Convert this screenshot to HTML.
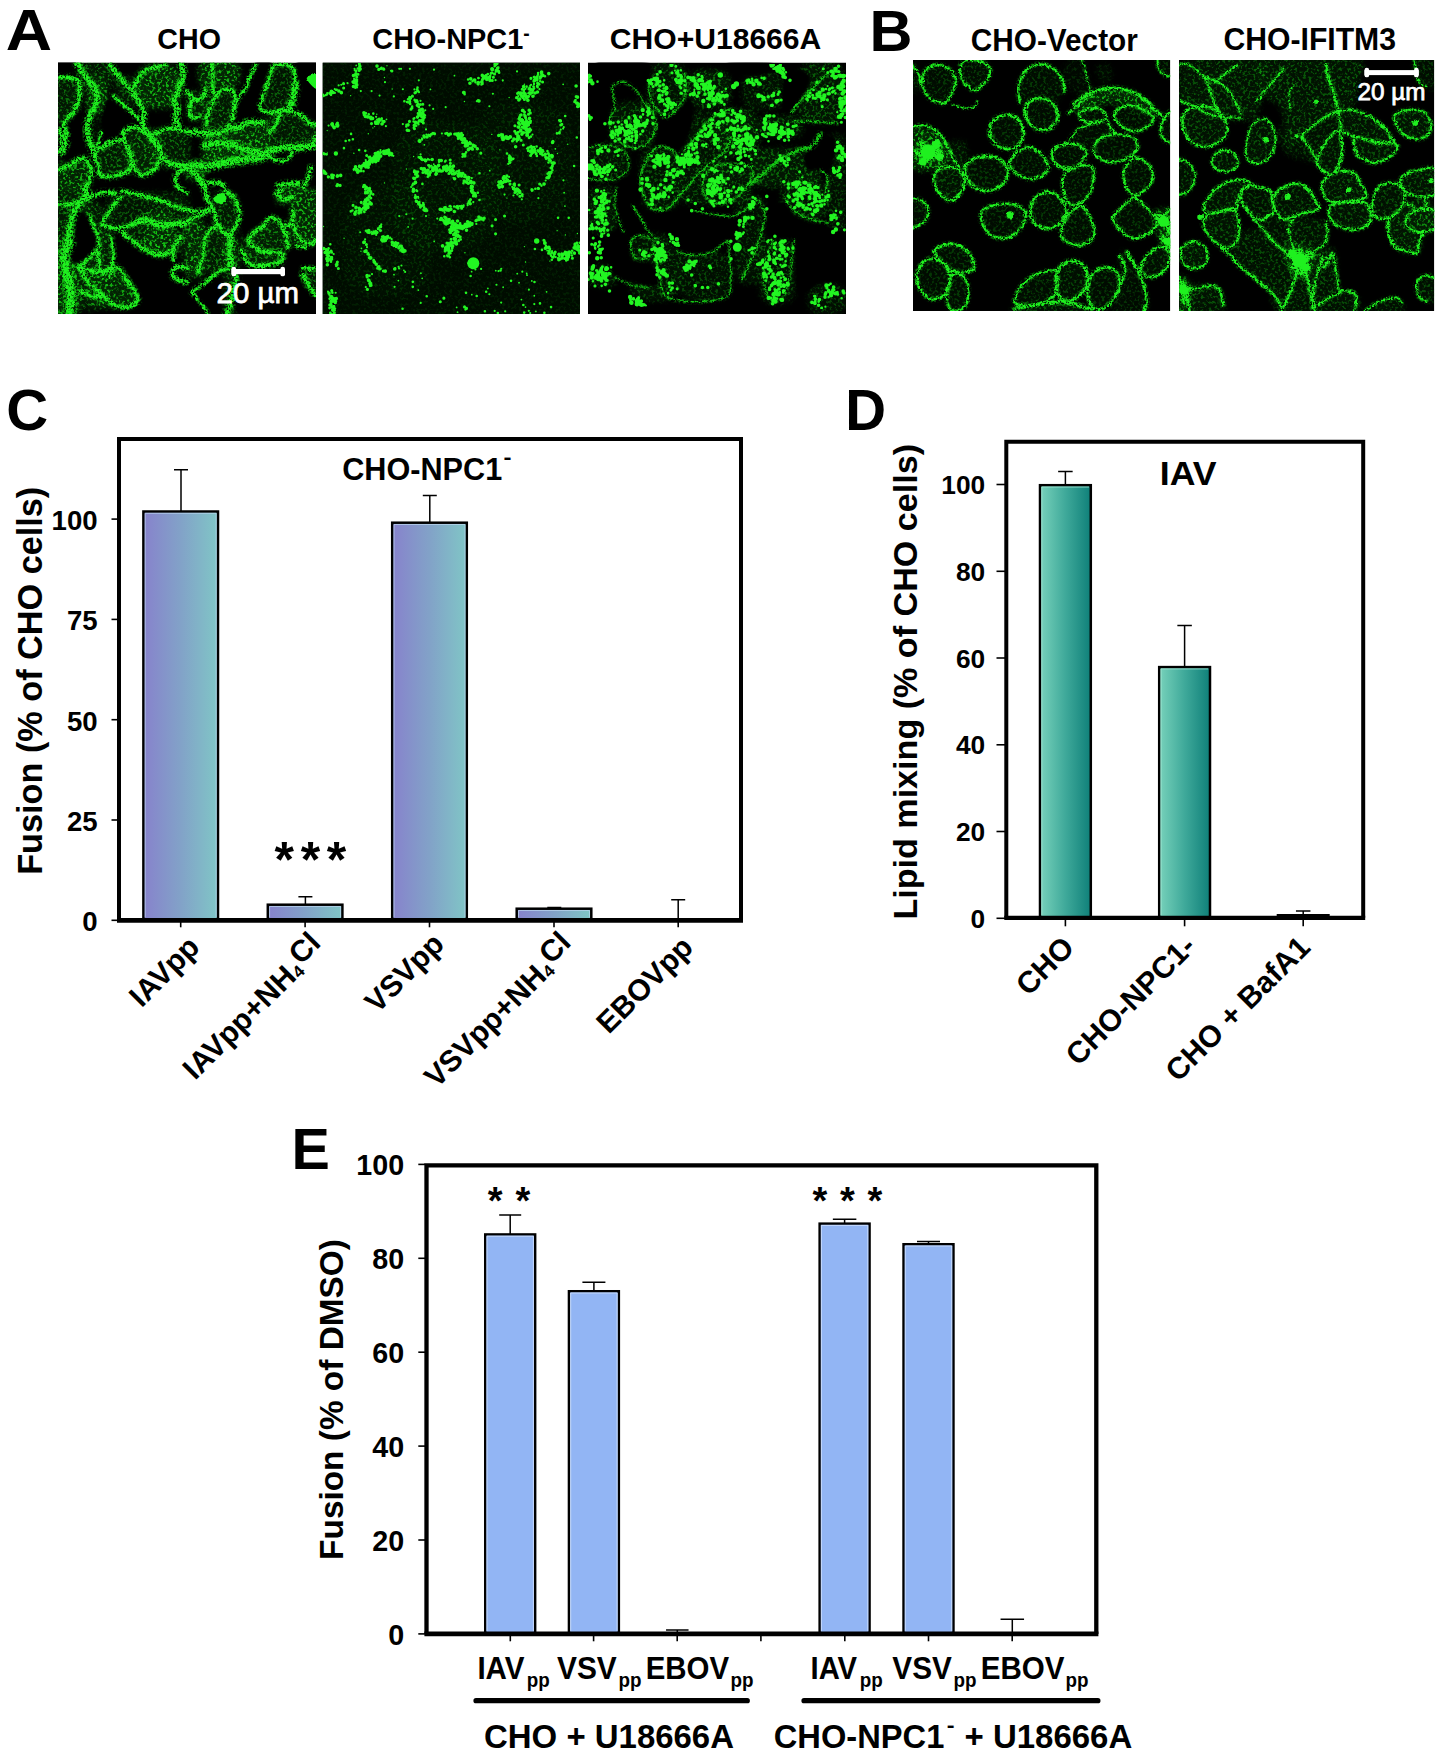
<!DOCTYPE html>
<html lang="en"><head><meta charset="utf-8"><title>Figure</title>
<style>html,body{margin:0;padding:0;background:#fff}svg{display:block}</style>
</head><body>
<svg width="1443" height="1759" viewBox="0 0 1443 1759" font-family='"Liberation Sans", sans-serif'>
<rect width="1443" height="1759" fill="#fff"/>
<defs>
<linearGradient id="gC" x1="0" x2="1" y1="0" y2="0"><stop offset="0" stop-color="#8782cc"/><stop offset="0.5" stop-color="#82a2c8"/><stop offset="1" stop-color="#80c6c6"/></linearGradient>
<linearGradient id="gD" x1="0" x2="1" y1="0" y2="0"><stop offset="0" stop-color="#78d2bb"/><stop offset="0.5" stop-color="#3fa99a"/><stop offset="1" stop-color="#0f8079"/></linearGradient>
<filter id="fHaze" x="0" y="0" width="100%" height="100%" color-interpolation-filters="sRGB"><feGaussianBlur in="SourceGraphic" stdDeviation="2.4" result="b"/><feTurbulence type="fractalNoise" baseFrequency="0.36" numOctaves="2" seed="7" result="n"/><feColorMatrix in="n" type="matrix" values="4.6 0 0 0 -2.05 4.6 0 0 0 -2.05 4.6 0 0 0 -2.05 4.6 0 0 0 -2.05" result="m"/><feComposite in="b" in2="m" operator="arithmetic" k1="0.78" k2="0.2" k3="0" k4="0"/></filter><filter id="fRough" x="0" y="0" width="100%" height="100%" color-interpolation-filters="sRGB"><feTurbulence type="fractalNoise" baseFrequency="0.22" numOctaves="3" seed="11" result="t"/><feDisplacementMap in="SourceGraphic" in2="t" scale="4.6" xChannelSelector="R" yChannelSelector="G" result="d"/><feTurbulence type="fractalNoise" baseFrequency="0.55" numOctaves="2" seed="5" result="n"/><feColorMatrix in="n" type="matrix" values="0 0 0 0 0 0 0 0 0 0 0 0 0 0 0 0 0 5 0 -1.55" result="m"/><feComposite in="d" in2="m" operator="in" result="g"/><feGaussianBlur in="g" stdDeviation="0.4"/></filter><filter id="fGlow" x="0" y="0" width="100%" height="100%" color-interpolation-filters="sRGB"><feGaussianBlur in="SourceGraphic" stdDeviation="1.3" result="b"/><feTurbulence type="fractalNoise" baseFrequency="0.45" numOctaves="2" seed="23" result="n"/><feColorMatrix in="n" type="matrix" values="0 0 0 0 0 0 0 0 0 0 0 0 0 0 0 0 0 5.5 0 -2.5" result="m"/><feComposite in="b" in2="m" operator="in"/></filter><filter id="fBlob" x="-10%" y="-10%" width="120%" height="120%" color-interpolation-filters="sRGB"><feTurbulence type="fractalNoise" baseFrequency="0.3" numOctaves="2" seed="4" result="t"/><feDisplacementMap in="SourceGraphic" in2="t" scale="3.2" xChannelSelector="R" yChannelSelector="G" result="d"/><feGaussianBlur in="d" stdDeviation="0.5"/></filter><filter id="fVoid" x="-5%" y="-5%" width="110%" height="110%"><feGaussianBlur stdDeviation="1.2"/></filter><filter id="fDot" x="0" y="0" width="100%" height="100%" color-interpolation-filters="sRGB"><feGaussianBlur in="SourceGraphic" stdDeviation="0.35"/></filter>
</defs>
<svg x="58" y="62.5" width="258" height="251.5" viewBox="0 0 258 252" preserveAspectRatio="none" overflow="hidden"><rect width="258" height="252" fill="#000"/><g filter="url(#fHaze)"><rect width="258" height="252" fill="#000" fill-opacity="0"/><rect x="-4" y="14" width="26" height="48" rx="10" fill="#16d816" fill-opacity="0.5"/><rect x="28" y="16" width="22" height="36" rx="8.5" fill="#16d816" fill-opacity="0.85"/><rect x="78" y="2" width="46" height="44" rx="16.9" fill="#16d816" fill-opacity="0.81"/><rect x="20" y="0" width="36" height="26" rx="10" fill="#16d816" fill-opacity="0.5"/><rect x="38" y="80" width="36" height="34" rx="13.1" fill="#16d816" fill-opacity="0.54"/><rect x="68" y="66" width="34" height="46" rx="13.1" fill="#16d816" fill-opacity="0.63"/><rect x="88" y="66" width="44" height="40" rx="15.4" fill="#16d816" fill-opacity="0.5"/><rect x="-4" y="98" width="38" height="32" rx="12.3" fill="#16d816" fill-opacity="0.77"/><rect x="56" y="14" width="28" height="30" rx="10.8" fill="#16d816" fill-opacity="0.41"/><rect x="30" y="52" width="14" height="38" rx="5.4" fill="#16d816" fill-opacity="0.18"/><rect x="140" y="-4" width="42" height="30" rx="11.5" fill="#16d816" fill-opacity="0.81"/><rect x="145" y="30" width="33" height="42" rx="12.7" fill="#16d816" fill-opacity="0.54"/><rect x="144" y="68" width="68" height="26" rx="10" fill="#16d816" fill-opacity="0.85"/><rect x="144" y="86" width="68" height="18" rx="6.9" fill="#16d816" fill-opacity="0.85"/><rect x="204" y="50" width="54" height="36" rx="13.8" fill="#16d816" fill-opacity="0.5"/><rect x="203" y="2" width="35" height="48" rx="13.5" fill="#16d816" fill-opacity="0.45"/><rect x="126" y="98" width="26" height="20" rx="7.7" fill="#16d816" fill-opacity="0.85"/><rect x="128" y="28" width="20" height="30" rx="7.7" fill="#16d816" fill-opacity="0.54"/><rect x="180" y="56" width="34" height="16" rx="6.2" fill="#16d816" fill-opacity="0.45"/><rect x="-4" y="124" width="36" height="58" rx="13.8" fill="#16d816" fill-opacity="0.54"/><rect x="10" y="138" width="38" height="66" rx="14.6" fill="#16d816" fill-opacity="0.5"/><rect x="-4" y="176" width="26" height="80" rx="10" fill="#16d816" fill-opacity="0.85"/><rect x="48" y="130" width="84" height="34" rx="13.1" fill="#16d816" fill-opacity="0.41"/><rect x="86" y="148" width="30" height="20" rx="7.7" fill="#16d816" fill-opacity="0.81"/><rect x="84" y="164" width="34" height="30" rx="11.5" fill="#16d816" fill-opacity="0.81"/><rect x="62" y="164" width="64" height="30" rx="11.5" fill="#16d816" fill-opacity="0.45"/><rect x="28" y="204" width="54" height="42" rx="16.2" fill="#16d816" fill-opacity="0.77"/><rect x="8" y="198" width="44" height="50" rx="16.9" fill="#16d816" fill-opacity="0.5"/><rect x="40" y="160" width="18" height="56" rx="6.9" fill="#16d816" fill-opacity="0.45"/><rect x="126" y="156" width="22" height="60" rx="8.5" fill="#16d816" fill-opacity="0.81"/><rect x="146" y="164" width="28" height="48" rx="10.8" fill="#16d816" fill-opacity="0.54"/><rect x="164" y="174" width="18" height="34" rx="6.9" fill="#16d816" fill-opacity="0.81"/><rect x="154" y="127" width="28" height="45" rx="10.8" fill="#16d816" fill-opacity="0.5"/><rect x="185" y="156" width="47" height="49" rx="18.1" fill="#16d816" fill-opacity="0.63"/><rect x="232" y="124" width="30" height="60" rx="11.5" fill="#16d816" fill-opacity="0.81"/><rect x="243" y="204" width="19" height="32" rx="7.3" fill="#16d816" fill-opacity="0.54"/><rect x="216" y="124" width="26" height="18" rx="6.9" fill="#16d816" fill-opacity="0.77"/><rect x="166" y="208" width="16" height="46" rx="6.2" fill="#16d816" fill-opacity="0.54"/></g><g filter="url(#fVoid)" fill="#000"><path d="M-2 -2C1.2 -4.3 14.3 -3.7 17 -2C19.7 -0.3 15.8 5.7 14 8C12.2 10.3 8.7 11.3 6 12C3.3 12.7 -0.7 14.3 -2 12C-3.3 9.7 -5.2 0.3 -2 -2Z"/><path d="M21 50C24.2 47.5 28 45 29 47C30 49 27.2 56.5 27 62C26.8 67.5 27.3 75 28 80C28.7 85 31.7 89.7 31 92C30.3 94.3 27.2 93 24 94C20.8 95 15.3 97.7 12 98C8.7 98.3 4.7 98.3 4 96C3.3 93.7 6.7 88 8 84C9.3 80 11.7 75.7 12 72C12.3 68.3 8.5 65.7 10 62C11.5 58.3 17.8 52.5 21 50Z"/><path d="M50 37C53 35.3 58.3 42.3 62 45C65.7 47.7 68.7 50.2 72 53C75.3 55.8 83 59.7 82 62C81 64.3 69.2 64.5 66 67C62.8 69.5 65.3 74.7 63 77C60.7 79.3 55.3 79.7 52 81C48.7 82.3 44.2 86.8 43 85C41.8 83.2 44.8 75 45 70C45.2 65 43.2 60.5 44 55C44.8 49.5 47 38.7 50 37Z"/><path d="M199 -2C202.5 -5 211.7 -5.3 213 -2C214.3 1.3 208.7 11.8 207 18C205.3 24.2 204.2 30.3 203 35C201.8 39.7 200 42.5 200 46C200 49.5 204.7 54 203 56C201.3 58 193.8 57 190 58C186.2 59 182 64.7 180 62C178 59.3 177 47.3 178 42C179 36.7 183.7 34.3 186 30C188.3 25.7 189.8 21.3 192 16C194.2 10.7 195.5 1 199 -2Z"/><path d="M240 -2C243.2 -4.3 256.7 -4 260 -2C263.3 0 262.2 7.2 260 10C257.8 12.8 247 12 247 15C247 18 257.8 20.8 260 28C262.2 35.2 261.7 53.5 260 58C258.3 62.5 253.3 56.7 250 55C246.7 53.3 242.3 49.8 240 48C237.7 46.2 236 47 236 44C236 41 239.2 35.3 240 30C240.8 24.7 241 17.3 241 12C241 6.7 236.8 0.3 240 -2Z"/><path d="M150 111C154.2 107.7 165.8 106 175 104C184.2 102 199.8 100.8 205 99C210.2 97.2 203.8 92.7 206 93C208.2 93.3 213.2 100.5 218 101C222.8 101.5 228 98.2 235 96C242 93.8 255.8 83.7 260 88C264.2 92.3 263 116.2 260 122C257 127.8 249 122.3 242 123C235 123.7 222.7 121.5 218 126C213.3 130.5 217 143.8 214 150C211 156.2 203.7 160 200 163C196.3 166 194.3 165.8 192 168C189.7 170.2 187.5 176.5 186 176C184.5 175.5 183.2 169.3 183 165C182.8 160.7 185.2 154.8 185 150C184.8 145.2 184.2 139.8 182 136C179.8 132.2 177.3 129 172 127C166.7 125 153.7 126.7 150 124C146.3 121.3 145.8 114.3 150 111Z"/><path d="M58 173C59 167.8 60.3 170.7 64 173C67.7 175.3 74.3 183.2 80 187C85.7 190.8 92.7 194.5 98 196C103.3 197.5 109.7 194.8 112 196C114.3 197.2 112 198.7 112 203C112 207.3 109 218.7 112 222C115 225.3 126 221 130 223C134 225 132.3 228.8 136 234C139.7 239.2 160.3 250.7 152 254C143.7 257.3 97.5 256.7 86 254C74.5 251.3 84.7 243.3 83 238C81.3 232.7 79 227.3 76 222C73 216.7 68 209 65 206C62 203 59.2 209.5 58 204C56.8 198.5 57 178.2 58 173Z"/><path d="M232 188C238 185.3 255.3 185.5 260 188C264.7 190.5 263 200.5 260 203C257 205.5 245.3 201.5 242 203C238.7 204.5 239.3 208.3 240 212C240.7 215.7 242.7 220.7 246 225C249.3 229.3 257.7 233.2 260 238C262.3 242.8 273 251.3 260 254C247 256.7 195 261 182 254C169 247 179 219.8 182 212C185 204.2 193 208.3 200 207C207 205.7 218.7 207.2 224 204C229.3 200.8 226 190.7 232 188Z"/><path d="M18 150C20.2 148 26.8 150.3 30 154C33.2 157.7 35.7 167 37 172C38.3 177 39.5 180 38 184C36.5 188 31.3 193.2 28 196C24.7 198.8 20.7 201 18 201C15.3 201 12.7 199.2 12 196C11.3 192.8 13.2 187 14 182C14.8 177 16.3 171.3 17 166C17.7 160.7 15.8 152 18 150Z"/></g><g filter="url(#fGlow)" fill="none" stroke-linecap="round" stroke-linejoin="round"><rect width="258" height="252" fill="#000" fill-opacity="0" stroke="none"/><path d="M19.7 1.8C20.9 3.7 24.1 9.5 26.8 13.4C29.5 17.3 33.6 21.3 35.7 25C37.8 28.7 39.3 32.1 39.3 35.7C39.3 39.3 37 43.5 35.7 46.5C34.4 49.5 32.3 50.2 31.3 53.6C30.3 57 29.4 62.5 29.5 67C29.6 71.5 31.2 76.7 32.2 80.4C33.2 84.1 35.1 87.9 35.7 89.4" stroke="#10b410" stroke-width="9.8"/><path d="M1.8 15.2C3.3 15.2 7.7 14.8 10.7 15.2C13.7 15.6 17.9 16 19.7 17.9C21.5 19.8 21.2 23.5 21.4 26.8C21.5 30.1 21.2 34.5 20.6 37.5C20 40.5 19.5 41.7 17.9 44.7C16.2 47.7 12.8 52.4 10.7 55.4C8.6 58.4 5.7 59.9 5.4 62.6C5.1 65.3 9.2 68.5 8.9 71.5C8.6 74.5 4.5 78.9 3.6 80.4" stroke="#10b410" stroke-width="7.4"/><path d="M51.8 2.7C53.6 4.9 59 11.9 62.6 16.1C66.2 20.3 70.3 24 73.3 27.7C76.3 31.4 78.3 34.7 80.4 38.4C82.5 42.1 85 46.3 85.8 50C86.5 53.7 84.3 57.5 84.9 60.8C85.5 64.1 87.9 67.2 89.4 69.7C90.9 72.2 91.9 73.6 93.8 76C95.7 78.4 99.2 81 101 84C102.8 87 102.8 91 104.6 93.8C106.4 96.6 109 99.5 111.7 101C114.4 102.5 117.7 102.3 120.6 102.8C123.5 103.2 127.6 103.5 129 103.7" stroke="#10b410" stroke-width="8.8"/><path d="M55.4 34C56.9 35.2 61.3 38.6 64.3 41.1C67.3 43.6 70.6 46.5 73.3 49.2C76 51.9 78.6 55 80.4 57.2C82.2 59.4 83.4 61.7 84 62.6" stroke="#10b410" stroke-width="6"/><path d="M35.7 89.4C37.2 88.1 41.7 86.6 44.7 84.9C47.7 83.2 50.6 80.7 53.6 79.5C56.6 78.3 60.2 77.2 62.6 77.7C65 78.2 66.4 80.2 67.9 82.2C69.4 84.2 70.5 86.7 71.5 89.4C72.5 92.1 73.9 95.6 74.2 98.3C74.5 101 74.3 103.6 73.3 105.5C72.2 107.4 70.4 108.6 67.9 109.9C65.4 111.2 61.5 112.8 58.1 113.5C54.7 114.2 50.1 114.6 47.4 114.4C44.7 114.2 43.2 114.5 42 112.6C40.8 110.7 41.2 106.1 40.2 102.8C39.2 99.5 36.5 95.1 35.7 92.9C35 90.7 34.2 90.7 35.7 89.4Z" stroke="#10b410" stroke-width="7.4"/><path d="M66.1 69.7C67 68.3 69.4 66.8 71.5 66.1C73.6 65.3 76.2 64.6 78.6 65.2C81 65.8 83.3 67.8 85.8 69.7C88.3 71.7 91.4 74.4 93.8 76.9C96.2 79.4 98.5 82.1 100 84.9C101.5 87.7 102.9 90.8 102.8 93.8C102.7 96.8 100.7 100.3 99.2 102.8C97.7 105.3 96 107.4 93.8 109C91.6 110.6 88.3 112.6 85.8 112.6C83.3 112.6 80.5 111.4 78.6 109C76.7 106.6 75.4 101.6 74.2 98.3C73 95 72.5 92.1 71.5 89.4C70.5 86.7 68.8 84.7 67.9 82.2C67 79.7 66.4 76.3 66.1 74.2C65.8 72.1 65.2 71.1 66.1 69.7Z" stroke="#10b410" stroke-width="7.4"/><path d="M93.8 73.3C95.3 72.5 99.8 70 102.8 68.8C105.8 67.6 108.7 66.4 111.7 66.1C114.7 65.8 117.7 66.4 120.6 67C123.5 67.6 127.6 69.2 129 69.7" stroke="#10b410" stroke-width="7.4"/><path d="M123.3 1.8C123.6 3.7 125.5 9.2 125.1 13.4C124.6 17.6 122.1 22.6 120.6 26.8C119.1 31 116.5 35.1 116.2 38.4C115.9 41.7 118.6 43.4 118.9 46.5C119.2 49.6 117.7 53.9 118 57.2C118.3 60.5 120.2 64.6 120.6 66.1" stroke="#10b410" stroke-width="10.2"/><path d="M76 25C76.7 23.4 78.5 18 80.4 15.2C82.3 12.4 84.6 9.8 87.6 8C90.6 6.2 95 5.4 98.3 4.5C101.6 3.6 105.7 3 107.2 2.7" stroke="#10b410" stroke-width="7"/><path d="M1.8 107.2C3.3 106.6 7.7 105.3 10.7 103.7C13.7 102.1 17 98.6 19.7 97.4C22.4 96.2 24.9 95.6 26.8 96.5C28.7 97.4 30.2 100.3 31.3 102.8C32.4 105.3 33.2 108.7 33.1 111.7C33 114.7 31.4 118.2 30.4 120.6C29.3 123 27.4 125.1 26.8 126" stroke="#10b410" stroke-width="7.4"/><path d="M1.8 69.7C2.7 71.5 6.9 77.1 7.1 80.4C7.2 83.7 3.4 87.9 2.7 89.4" stroke="#10b410" stroke-width="10.6"/><path d="M42.9 69.7C42.6 71.2 41.9 76.1 41.1 78.6C40.4 81.1 38.9 83.9 38.4 84.9" stroke="#10b410" stroke-width="4.6"/><path d="M129 105.5C127.6 106.2 122.6 108.1 120.6 109.9C118.6 111.7 117.4 114 117.1 116.2C116.8 118.4 118.2 121.7 118.9 123.3C119.6 124.9 121.1 125.5 121.5 126" stroke="#10b410" stroke-width="7"/><path d="M155.8 37.5C156.6 36.3 158.4 32.2 160.3 30.4C162.2 28.6 165.2 27.2 167.4 26.8C169.6 26.4 172 26.2 173.7 27.7C175.3 29.2 176.9 32.9 177.3 35.7C177.8 38.5 176.9 41.7 176.4 44.7C175.9 47.7 175.1 51.5 174.6 53.6C174.1 55.7 173.8 56.6 173.7 57.2" stroke="#10b410" stroke-width="7"/><path d="M155.8 37.5C155.1 39 152.5 43.5 151.3 46.5C150.1 49.5 149.3 52.7 148.7 55.4C148.1 58.1 148 61.4 147.8 62.6" stroke="#10b410" stroke-width="7"/><path d="M197.8 2.7C196.8 4.8 193.2 11.5 191.6 15.2C190 18.9 189.5 22.2 188 25C186.5 27.8 184.1 30 182.6 32.2C181.1 34.4 179.6 37.4 179 38.4" stroke="#10b410" stroke-width="5.6"/><path d="M129 29.5C129.9 30.5 132.2 34.4 134.4 35.7C136.6 37 140.3 38.5 142.4 37.5C144.5 36.5 146 31.4 146.9 29.5C147.8 27.6 147.7 26.6 147.8 26" stroke="#10b410" stroke-width="8"/><path d="M134.4 35.7C133.9 37.5 131.7 43.2 131.7 46.5C131.7 49.8 132.6 54.2 134.4 55.4C136.2 56.6 141.1 53.9 142.4 53.6" stroke="#10b410" stroke-width="7"/><path d="M154 1.8C154.2 3.7 154.8 9.2 154.9 13.4C155.1 17.6 154.6 23.4 154.9 26.8C155.2 30.2 156.4 32.8 156.7 34" stroke="#10b410" stroke-width="6.6"/><path d="M214.8 3.6C216.4 2.1 220 1.8 222.8 1.8C225.6 1.8 229.6 2.4 231.8 3.6C234 4.8 235.3 5.8 236.2 8.9C237.1 12 237.1 18.6 237.1 22.3C237.1 26 236.8 28.3 236.2 31.3C235.6 34.3 234.6 37.5 233.6 40.2C232.6 42.9 231.8 46 230 47.4C228.2 48.8 225.5 47.9 222.8 48.3C220.1 48.7 217.2 50.1 213.9 50C210.6 49.9 205.1 48.6 203.2 47.4C201.3 46.2 201.9 45.6 202.3 42.9C202.8 40.2 204.7 35 205.9 31.3C207.1 27.6 208.2 24 209.4 20.6C210.6 17.2 212.1 13.5 213 10.7C213.9 7.9 213.2 5.1 214.8 3.6Z" stroke="#10b410" stroke-width="6"/><path d="M237.1 22.3C236.9 23.8 236.8 28.3 236.2 31.3C235.6 34.3 234.6 37.5 233.6 40.2C232.6 42.9 230.6 46.2 230 47.4" stroke="#10b410" stroke-width="11.6"/><path d="M230 47.4C231.8 48.1 237.7 50.2 240.7 51.8C243.7 53.4 245.7 55.6 247.9 57.2C250.1 58.9 252.4 60.8 254.1 61.7C255.8 62.6 257.4 62.5 258 62.6" stroke="#10b410" stroke-width="7"/><path d="M222.8 50C222.2 51.4 220.3 55.7 219.3 58.1C218.3 60.5 217.8 62.4 216.6 64.3C215.4 66.2 212.8 68.8 212.1 69.7" stroke="#10b410" stroke-width="6.6"/><path d="M129 69.7C130.5 69.7 134.9 69.6 137.9 69.7C140.9 69.8 143.9 70.3 146.9 70.6C149.9 70.9 152.5 71.8 155.8 71.5C159.1 71.2 164 70 166.5 68.8C169 67.6 168.9 64.8 171 64.3C173.1 63.8 176.2 66.7 179 66.1C181.8 65.5 185.2 61.8 188 60.8C190.8 59.8 193.2 59.9 196 59.9C198.8 59.9 203.5 60.6 205 60.8" stroke="#10b410" stroke-width="9.8"/><path d="M146.9 83.1C149.1 82.6 155.8 80.6 160.3 80.4C164.8 80.2 170 81.3 173.7 82.2C177.4 83.1 178.9 84.6 182.6 85.8C186.3 87 192.3 88.7 196 89.4C199.7 90.2 201.3 90.8 205 90.3C208.7 89.8 214.7 87.6 218.4 86.7C222.1 85.8 223.6 85.2 227.3 84.9C231 84.6 235.9 85.2 240.7 84.9C245.5 84.6 253.4 83.4 255.9 83.1" stroke="#10b410" stroke-width="10.8"/><path d="M129 105.5C130.8 105 136 103.1 139.7 102.8C143.4 102.5 147.1 104 151.3 103.7C155.5 103.4 160.2 101.9 164.7 101C169.2 100.1 173.7 99 178.2 98.3C182.7 97.5 187.1 97.1 191.6 96.5C196.1 95.9 202.8 95 205 94.7" stroke="#10b410" stroke-width="12.2"/><path d="M218.4 86.7C219.6 86.4 223 84.8 225.5 84.9C228 85.1 232.4 86.1 233.6 87.6C234.8 89.1 233.9 92 232.7 93.8C231.5 95.6 228.8 97.5 226.4 98.3C224 99 220.8 98.9 218.4 98.3C216 97.7 214.1 95.9 212.1 94.7C210.1 93.5 207.6 91.8 206.7 91.2" stroke="#10b410" stroke-width="6"/><path d="M129 105.5C130.5 106.5 135.5 109.5 137.9 111.7C140.3 113.9 141.8 116.5 143.3 118.9C144.8 121.3 146.3 124.8 146.9 126" stroke="#10b410" stroke-width="9.8"/><path d="M151.3 120.6C152.8 120.6 157.8 120 160.3 120.6C162.8 121.2 165.5 123.6 166.5 124.2" stroke="#10b410" stroke-width="7"/><path d="M220.2 123.3C221.7 123 225.7 121.8 229.1 121.5C232.5 121.2 238.8 121.5 240.7 121.5" stroke="#10b410" stroke-width="8"/><path d="M252.3 105.5C252 107 251.2 112 250.5 114.4C249.8 116.8 248.8 117.9 247.9 119.8C247 121.7 245.6 125 245.2 126" stroke="#10b410" stroke-width="7"/><path d="M258 73.3C257.6 74 256.1 76.1 255.9 77.7C255.7 79.3 256.7 82.2 256.8 83.1" stroke="#10b410" stroke-width="7"/><path d="M26.8 126C27.1 127.2 29.4 130.9 28.6 133.1C27.9 135.3 24.1 137.3 22.3 139.4C20.5 141.5 19.2 143.2 17.9 145.7C16.6 148.2 15.4 151.2 14.3 154.6C13.2 158 12.2 162.6 11.6 166.2C11 169.8 10.8 174.4 10.7 176" stroke="#10b410" stroke-width="10.8"/><path d="M1.8 142.1C3.3 142.1 7.3 142.5 10.7 142.1C14.1 141.7 18.1 140.9 22.3 139.4C26.5 137.9 32 134.6 35.7 133.1C39.4 131.6 41 130.9 44.7 130.5C48.4 130.1 55.9 130.5 58.1 130.5" stroke="#10b410" stroke-width="7.4"/><path d="M64.3 128.7C66.2 129.1 71.8 130.4 76 131.4C80.2 132.4 84.9 133.7 89.4 134.9C93.9 136.1 98.3 137 102.8 138.5C107.3 140 111.8 142.3 116.2 143.9C120.6 145.5 126.9 147.6 129 148.3" stroke="#10b410" stroke-width="7"/><path d="M62.6 134.9C61.1 136.8 56.3 142.9 53.6 146.6C50.9 150.3 48 154.6 46.5 157.3C45 160 44.1 161.4 44.7 162.6C45.3 163.8 47.8 163.8 50 164.4C52.2 165 55.3 166.2 58.1 166.2C60.9 166.2 64 165.2 67 164.4C70 163.7 74.5 162.1 76 161.7" stroke="#10b410" stroke-width="6.6"/><path d="M76 161.7C77.5 161 81.9 157.6 84.9 157.3C87.9 157 90.8 159 93.8 160C96.8 161 99.8 163.1 102.8 163.5C105.8 163.9 108.7 162.9 111.7 162.6C114.7 162.3 117.7 162 120.6 161.7C123.5 161.4 127.6 161 129 160.9" stroke="#10b410" stroke-width="10.8"/><path d="M64.3 169.8C65.5 170.8 68.8 173.8 71.5 176C74.2 178.2 77.4 181.1 80.4 183.2C83.4 185.3 86.4 187.1 89.4 188.6C92.4 190.1 95.3 191.5 98.3 192.1C101.3 192.7 104.5 192.7 107.2 192.1C109.9 191.5 112.6 190.4 114.4 188.6C116.2 186.8 116.5 183.8 118 181.4C119.5 179 122.4 175.5 123.3 174.3" stroke="#10b410" stroke-width="8"/><path d="M115.3 188.6L115.3 197.5" stroke="#10b410" stroke-width="6"/><path d="M129 206.4C127.3 206.1 121.3 203.8 118.9 204.6C116.5 205.3 114.7 208.9 114.4 210.9C114.1 212.9 115.3 214.8 117.1 216.3C118.9 217.8 123.1 219.2 125.1 219.8C127.1 220.4 128.3 219.8 129 219.8" stroke="#10b410" stroke-width="7"/><path d="M51.8 174.3C52.2 175.9 53.9 180.5 54.5 184.1C55.1 187.7 55.5 192 55.4 195.7C55.2 199.4 54.2 203.1 53.6 206.4C53 209.7 52.1 213.9 51.8 215.4" stroke="#10b410" stroke-width="6"/><path d="M31.3 152.8C32 154.6 34.4 160.2 35.7 163.5C37 166.8 38.4 169.5 39.3 172.5C40.2 175.5 41 178 41.1 181.4C41.2 184.8 40.1 188.8 40.2 193C40.4 197.2 41.2 203.1 42 206.4C42.8 209.7 44.2 211.6 44.7 212.7" stroke="#10b410" stroke-width="5.6"/><path d="M41.1 184.1C39.9 185.6 36.4 190.3 34 193C31.6 195.7 29.2 198.3 26.8 200.2C24.4 202.1 20.9 203.9 19.7 204.6" stroke="#10b410" stroke-width="5.6"/><path d="M10.7 179.6C10.1 181.1 8 185.6 7.1 188.6C6.2 191.6 5.1 193.8 5.4 197.5C5.7 201.2 7.9 206.4 8.9 210.9C9.9 215.4 11 219.8 11.6 224.3C12.2 228.8 12.5 233.2 12.5 237.7C12.5 242.1 11.8 248.8 11.6 251" stroke="#10b410" stroke-width="15.2"/><path d="M19.7 204.6C20.4 205.7 22.5 208.4 24.1 210.9C25.7 213.4 27.3 217.1 29.5 219.8C31.7 222.5 34.7 224.5 37.5 227C40.3 229.5 43.8 232.6 46.5 235C49.2 237.4 50.9 239.7 53.6 241.3C56.3 243 59.3 244.5 62.6 244.9C65.9 245.3 70.5 245.1 73.3 244C76.1 242.9 78.6 240.4 79.5 238.6C80.4 236.8 79.6 235.6 78.6 233.2C77.6 230.8 75.1 227 73.3 224.3C71.5 221.6 69.7 219.9 67.9 217.2C66.1 214.5 64.4 210.3 62.6 208.2C60.8 206.1 58.1 205.2 57.2 204.6" stroke="#10b410" stroke-width="7"/><path d="M19.7 204.6C21.6 205.2 27.4 207.3 31.3 208.2C35.2 209.1 39.2 210.3 42.9 210C46.6 209.7 51.8 207 53.6 206.4" stroke="#10b410" stroke-width="7"/><path d="M22.3 228.8C23.8 229.5 27.9 232.2 31.3 233.2C34.7 234.2 41 234.7 42.9 235" stroke="#10b410" stroke-width="7"/><path d="M121.5 126L129 130.5" stroke="#10b410" stroke-width="6"/><path d="M129 148.3C131.1 148.5 137.3 149.3 141.5 149.2C145.7 149 151.9 147.7 154 147.4" stroke="#10b410" stroke-width="6.6"/><path d="M129 158.2C131.2 157.3 138.2 154.6 142.4 152.8C146.6 151 152.1 148.3 154 147.4" stroke="#10b410" stroke-width="6.6"/><path d="M146.9 126C147.2 127.5 147.7 131.9 148.7 134.9C149.7 137.9 151.8 140.9 153.1 143.9C154.4 146.9 155.6 149.8 156.7 152.8C157.8 155.8 158.1 159 159.4 161.7C160.7 164.4 162.8 166.7 164.7 168.9C166.6 171.1 169.7 173 171 175.1C172.3 177.2 172.5 180.3 172.8 181.4" stroke="#10b410" stroke-width="7.4"/><path d="M167.4 128.7C168.8 129.7 173.4 132.4 175.5 134.9C177.6 137.4 178.9 140.9 179.9 143.9C180.9 146.9 181.8 149.8 181.7 152.8C181.5 155.8 180 159.2 179 161.7C178 164.2 176.8 165.9 175.5 168C174.2 170.1 171.8 173.2 171 174.3" stroke="#10b410" stroke-width="7"/><path d="M159.4 161.7C158.1 162.9 153.4 166.2 151.3 168.9C149.2 171.6 147.8 174.5 146.9 177.8C146 181.1 146.6 185 146 188.6C145.4 192.2 144.4 195.6 143.3 199.3C142.2 203 140.3 209 139.7 210.9" stroke="#10b410" stroke-width="6.6"/><path d="M171 206.4C169.7 206.7 165.5 207 163 208.2C160.5 209.4 158.5 211.5 155.8 213.6C153.1 215.7 149.9 218.5 146.9 220.7C143.9 222.9 140 225.2 137.9 227C135.8 228.8 135 230.8 134.4 231.5" stroke="#10b410" stroke-width="6"/><path d="M134.4 228.8C135.3 230.3 137.6 234.7 139.7 237.7C141.8 240.7 145.1 244.2 146.9 246.6C148.7 249 149.8 251.1 150.4 252" stroke="#10b410" stroke-width="3.8"/><path d="M172.8 181.4C172.5 182.9 170.8 187.6 171 190.3C171.2 193 173.5 195.1 173.7 197.5C173.8 199.9 172.2 203.4 171.9 204.6" stroke="#10b410" stroke-width="9.4"/><path d="M189.8 177.8C190.8 176.6 193.5 172.9 196 170.7C198.5 168.5 202.3 166.9 205 164.4C207.7 161.9 209.9 156.7 212.1 155.5C214.3 154.3 216.5 156.3 218.4 157.3C220.3 158.3 222.4 159.8 223.7 161.7C225 163.6 225.5 166.5 226.4 168.9C227.3 171.3 228.5 173.3 229.1 176C229.7 178.7 229.8 183.5 230 185" stroke="#10b410" stroke-width="6.6"/><path d="M189.8 177.8C190.7 178.9 193 182.3 195.1 184.1C197.2 185.9 199.6 187.6 202.3 188.6C205 189.6 208.2 190 211.2 190.3C214.2 190.6 218 189.7 220.2 190.3C222.4 190.9 224.2 192.4 224.6 193.9C225 195.4 224.4 198 222.8 199.3C221.2 200.7 217.8 201.3 214.8 202C211.8 202.7 208.1 203.4 205 203.7C201.9 204 198.5 204.3 196 203.7C193.5 203.1 191.4 201.8 189.8 200.2C188.2 198.6 187.1 195.8 186.2 193.9C185.3 192 184.7 189.5 184.4 188.6" stroke="#10b410" stroke-width="7.4"/><path d="M218.4 131.4L223.7 127.8" stroke="#10b410" stroke-width="7"/><path d="M218.4 131.4C219.6 132.3 222.8 136 225.5 136.7C228.2 137.4 233 136 234.5 135.8" stroke="#10b410" stroke-width="8"/><path d="M234.5 148.3C234.6 150.5 234.6 157.7 235.3 161.7C236 165.7 237.2 169.5 238.9 172.5C240.6 175.5 242.7 178.1 245.2 179.6C247.7 181.1 252 181.7 254.1 181.4C256.2 181.1 257.4 178.4 258 177.8" stroke="#10b410" stroke-width="6"/><path d="M227.3 161.7L234.5 163.5" stroke="#10b410" stroke-width="6"/><path d="M238.9 184.1L247.9 185" stroke="#10b410" stroke-width="5.6"/><path d="M244.3 212.7C245 213.9 247.1 217.1 248.7 219.8C250.3 222.5 252.5 226.6 254.1 228.8C255.7 231 257.4 232.5 258 233.2" stroke="#10b410" stroke-width="7"/><path d="M245.2 206.4L255.9 206.4" stroke="#10b410" stroke-width="5.6"/><path d="M179 213.6C178.6 215.4 177.4 219.5 176.4 224.3C175.4 229.1 174.2 237.6 172.8 242.2C171.5 246.8 169.1 250.4 168.3 252" stroke="#10b410" stroke-width="8.4"/></g><g filter="url(#fRough)" fill="none" stroke-linecap="round" stroke-linejoin="round"><rect width="258" height="252" fill="#000" fill-opacity="0" stroke="none"/><path d="M19.7 1.8C20.9 3.7 24.1 9.5 26.8 13.4C29.5 17.3 33.6 21.3 35.7 25C37.8 28.7 39.3 32.1 39.3 35.7C39.3 39.3 37 43.5 35.7 46.5C34.4 49.5 32.3 50.2 31.3 53.6C30.3 57 29.4 62.5 29.5 67C29.6 71.5 31.2 76.7 32.2 80.4C33.2 84.1 35.1 87.9 35.7 89.4" stroke="#1ff01f" stroke-width="4.9"/><path d="M1.8 15.2C3.3 15.2 7.7 14.8 10.7 15.2C13.7 15.6 17.9 16 19.7 17.9C21.5 19.8 21.2 23.5 21.4 26.8C21.5 30.1 21.2 34.5 20.6 37.5C20 40.5 19.5 41.7 17.9 44.7C16.2 47.7 12.8 52.4 10.7 55.4C8.6 58.4 5.7 59.9 5.4 62.6C5.1 65.3 9.2 68.5 8.9 71.5C8.6 74.5 4.5 78.9 3.6 80.4" stroke="#1ff01f" stroke-width="3.7"/><path d="M51.8 2.7C53.6 4.9 59 11.9 62.6 16.1C66.2 20.3 70.3 24 73.3 27.7C76.3 31.4 78.3 34.7 80.4 38.4C82.5 42.1 85 46.3 85.8 50C86.5 53.7 84.3 57.5 84.9 60.8C85.5 64.1 87.9 67.2 89.4 69.7C90.9 72.2 91.9 73.6 93.8 76C95.7 78.4 99.2 81 101 84C102.8 87 102.8 91 104.6 93.8C106.4 96.6 109 99.5 111.7 101C114.4 102.5 117.7 102.3 120.6 102.8C123.5 103.2 127.6 103.5 129 103.7" stroke="#1ff01f" stroke-width="4.4"/><path d="M55.4 34C56.9 35.2 61.3 38.6 64.3 41.1C67.3 43.6 70.6 46.5 73.3 49.2C76 51.9 78.6 55 80.4 57.2C82.2 59.4 83.4 61.7 84 62.6" stroke="#1ff01f" stroke-width="3"/><path d="M35.7 89.4C37.2 88.1 41.7 86.6 44.7 84.9C47.7 83.2 50.6 80.7 53.6 79.5C56.6 78.3 60.2 77.2 62.6 77.7C65 78.2 66.4 80.2 67.9 82.2C69.4 84.2 70.5 86.7 71.5 89.4C72.5 92.1 73.9 95.6 74.2 98.3C74.5 101 74.3 103.6 73.3 105.5C72.2 107.4 70.4 108.6 67.9 109.9C65.4 111.2 61.5 112.8 58.1 113.5C54.7 114.2 50.1 114.6 47.4 114.4C44.7 114.2 43.2 114.5 42 112.6C40.8 110.7 41.2 106.1 40.2 102.8C39.2 99.5 36.5 95.1 35.7 92.9C35 90.7 34.2 90.7 35.7 89.4Z" stroke="#1ff01f" stroke-width="3.7"/><path d="M66.1 69.7C67 68.3 69.4 66.8 71.5 66.1C73.6 65.3 76.2 64.6 78.6 65.2C81 65.8 83.3 67.8 85.8 69.7C88.3 71.7 91.4 74.4 93.8 76.9C96.2 79.4 98.5 82.1 100 84.9C101.5 87.7 102.9 90.8 102.8 93.8C102.7 96.8 100.7 100.3 99.2 102.8C97.7 105.3 96 107.4 93.8 109C91.6 110.6 88.3 112.6 85.8 112.6C83.3 112.6 80.5 111.4 78.6 109C76.7 106.6 75.4 101.6 74.2 98.3C73 95 72.5 92.1 71.5 89.4C70.5 86.7 68.8 84.7 67.9 82.2C67 79.7 66.4 76.3 66.1 74.2C65.8 72.1 65.2 71.1 66.1 69.7Z" stroke="#1ff01f" stroke-width="3.7"/><path d="M93.8 73.3C95.3 72.5 99.8 70 102.8 68.8C105.8 67.6 108.7 66.4 111.7 66.1C114.7 65.8 117.7 66.4 120.6 67C123.5 67.6 127.6 69.2 129 69.7" stroke="#1ff01f" stroke-width="3.7"/><path d="M123.3 1.8C123.6 3.7 125.5 9.2 125.1 13.4C124.6 17.6 122.1 22.6 120.6 26.8C119.1 31 116.5 35.1 116.2 38.4C115.9 41.7 118.6 43.4 118.9 46.5C119.2 49.6 117.7 53.9 118 57.2C118.3 60.5 120.2 64.6 120.6 66.1" stroke="#1ff01f" stroke-width="5.1"/><path d="M76 25C76.7 23.4 78.5 18 80.4 15.2C82.3 12.4 84.6 9.8 87.6 8C90.6 6.2 95 5.4 98.3 4.5C101.6 3.6 105.7 3 107.2 2.7" stroke="#1ff01f" stroke-width="3.5"/><path d="M1.8 107.2C3.3 106.6 7.7 105.3 10.7 103.7C13.7 102.1 17 98.6 19.7 97.4C22.4 96.2 24.9 95.6 26.8 96.5C28.7 97.4 30.2 100.3 31.3 102.8C32.4 105.3 33.2 108.7 33.1 111.7C33 114.7 31.4 118.2 30.4 120.6C29.3 123 27.4 125.1 26.8 126" stroke="#1ff01f" stroke-width="3.7"/><path d="M1.8 69.7C2.7 71.5 6.9 77.1 7.1 80.4C7.2 83.7 3.4 87.9 2.7 89.4" stroke="#1ff01f" stroke-width="5.3"/><path d="M42.9 69.7C42.6 71.2 41.9 76.1 41.1 78.6C40.4 81.1 38.9 83.9 38.4 84.9" stroke="#1ff01f" stroke-width="2.3"/><path d="M129 105.5C127.6 106.2 122.6 108.1 120.6 109.9C118.6 111.7 117.4 114 117.1 116.2C116.8 118.4 118.2 121.7 118.9 123.3C119.6 124.9 121.1 125.5 121.5 126" stroke="#1ff01f" stroke-width="3.5"/><path d="M155.8 37.5C156.6 36.3 158.4 32.2 160.3 30.4C162.2 28.6 165.2 27.2 167.4 26.8C169.6 26.4 172 26.2 173.7 27.7C175.3 29.2 176.9 32.9 177.3 35.7C177.8 38.5 176.9 41.7 176.4 44.7C175.9 47.7 175.1 51.5 174.6 53.6C174.1 55.7 173.8 56.6 173.7 57.2" stroke="#1ff01f" stroke-width="3.5"/><path d="M155.8 37.5C155.1 39 152.5 43.5 151.3 46.5C150.1 49.5 149.3 52.7 148.7 55.4C148.1 58.1 148 61.4 147.8 62.6" stroke="#1ff01f" stroke-width="3.5"/><path d="M197.8 2.7C196.8 4.8 193.2 11.5 191.6 15.2C190 18.9 189.5 22.2 188 25C186.5 27.8 184.1 30 182.6 32.2C181.1 34.4 179.6 37.4 179 38.4" stroke="#1ff01f" stroke-width="2.8"/><path d="M129 29.5C129.9 30.5 132.2 34.4 134.4 35.7C136.6 37 140.3 38.5 142.4 37.5C144.5 36.5 146 31.4 146.9 29.5C147.8 27.6 147.7 26.6 147.8 26" stroke="#1ff01f" stroke-width="4"/><path d="M134.4 35.7C133.9 37.5 131.7 43.2 131.7 46.5C131.7 49.8 132.6 54.2 134.4 55.4C136.2 56.6 141.1 53.9 142.4 53.6" stroke="#1ff01f" stroke-width="3.5"/><path d="M154 1.8C154.2 3.7 154.8 9.2 154.9 13.4C155.1 17.6 154.6 23.4 154.9 26.8C155.2 30.2 156.4 32.8 156.7 34" stroke="#1ff01f" stroke-width="3.3"/><path d="M214.8 3.6C216.4 2.1 220 1.8 222.8 1.8C225.6 1.8 229.6 2.4 231.8 3.6C234 4.8 235.3 5.8 236.2 8.9C237.1 12 237.1 18.6 237.1 22.3C237.1 26 236.8 28.3 236.2 31.3C235.6 34.3 234.6 37.5 233.6 40.2C232.6 42.9 231.8 46 230 47.4C228.2 48.8 225.5 47.9 222.8 48.3C220.1 48.7 217.2 50.1 213.9 50C210.6 49.9 205.1 48.6 203.2 47.4C201.3 46.2 201.9 45.6 202.3 42.9C202.8 40.2 204.7 35 205.9 31.3C207.1 27.6 208.2 24 209.4 20.6C210.6 17.2 212.1 13.5 213 10.7C213.9 7.9 213.2 5.1 214.8 3.6Z" stroke="#1ff01f" stroke-width="3"/><path d="M237.1 22.3C236.9 23.8 236.8 28.3 236.2 31.3C235.6 34.3 234.6 37.5 233.6 40.2C232.6 42.9 230.6 46.2 230 47.4" stroke="#1ff01f" stroke-width="5.8"/><path d="M230 47.4C231.8 48.1 237.7 50.2 240.7 51.8C243.7 53.4 245.7 55.6 247.9 57.2C250.1 58.9 252.4 60.8 254.1 61.7C255.8 62.6 257.4 62.5 258 62.6" stroke="#1ff01f" stroke-width="3.5"/><path d="M222.8 50C222.2 51.4 220.3 55.7 219.3 58.1C218.3 60.5 217.8 62.4 216.6 64.3C215.4 66.2 212.8 68.8 212.1 69.7" stroke="#1ff01f" stroke-width="3.3"/><path d="M129 69.7C130.5 69.7 134.9 69.6 137.9 69.7C140.9 69.8 143.9 70.3 146.9 70.6C149.9 70.9 152.5 71.8 155.8 71.5C159.1 71.2 164 70 166.5 68.8C169 67.6 168.9 64.8 171 64.3C173.1 63.8 176.2 66.7 179 66.1C181.8 65.5 185.2 61.8 188 60.8C190.8 59.8 193.2 59.9 196 59.9C198.8 59.9 203.5 60.6 205 60.8" stroke="#1ff01f" stroke-width="4.9"/><path d="M146.9 83.1C149.1 82.6 155.8 80.6 160.3 80.4C164.8 80.2 170 81.3 173.7 82.2C177.4 83.1 178.9 84.6 182.6 85.8C186.3 87 192.3 88.7 196 89.4C199.7 90.2 201.3 90.8 205 90.3C208.7 89.8 214.7 87.6 218.4 86.7C222.1 85.8 223.6 85.2 227.3 84.9C231 84.6 235.9 85.2 240.7 84.9C245.5 84.6 253.4 83.4 255.9 83.1" stroke="#1ff01f" stroke-width="5.4"/><path d="M129 105.5C130.8 105 136 103.1 139.7 102.8C143.4 102.5 147.1 104 151.3 103.7C155.5 103.4 160.2 101.9 164.7 101C169.2 100.1 173.7 99 178.2 98.3C182.7 97.5 187.1 97.1 191.6 96.5C196.1 95.9 202.8 95 205 94.7" stroke="#1ff01f" stroke-width="6.1"/><path d="M218.4 86.7C219.6 86.4 223 84.8 225.5 84.9C228 85.1 232.4 86.1 233.6 87.6C234.8 89.1 233.9 92 232.7 93.8C231.5 95.6 228.8 97.5 226.4 98.3C224 99 220.8 98.9 218.4 98.3C216 97.7 214.1 95.9 212.1 94.7C210.1 93.5 207.6 91.8 206.7 91.2" stroke="#1ff01f" stroke-width="3"/><path d="M129 105.5C130.5 106.5 135.5 109.5 137.9 111.7C140.3 113.9 141.8 116.5 143.3 118.9C144.8 121.3 146.3 124.8 146.9 126" stroke="#1ff01f" stroke-width="4.9"/><path d="M151.3 120.6C152.8 120.6 157.8 120 160.3 120.6C162.8 121.2 165.5 123.6 166.5 124.2" stroke="#1ff01f" stroke-width="3.5"/><path d="M220.2 123.3C221.7 123 225.7 121.8 229.1 121.5C232.5 121.2 238.8 121.5 240.7 121.5" stroke="#1ff01f" stroke-width="4"/><path d="M252.3 105.5C252 107 251.2 112 250.5 114.4C249.8 116.8 248.8 117.9 247.9 119.8C247 121.7 245.6 125 245.2 126" stroke="#1ff01f" stroke-width="3.5"/><path d="M258 73.3C257.6 74 256.1 76.1 255.9 77.7C255.7 79.3 256.7 82.2 256.8 83.1" stroke="#1ff01f" stroke-width="3.5"/><path d="M26.8 126C27.1 127.2 29.4 130.9 28.6 133.1C27.9 135.3 24.1 137.3 22.3 139.4C20.5 141.5 19.2 143.2 17.9 145.7C16.6 148.2 15.4 151.2 14.3 154.6C13.2 158 12.2 162.6 11.6 166.2C11 169.8 10.8 174.4 10.7 176" stroke="#1ff01f" stroke-width="5.4"/><path d="M1.8 142.1C3.3 142.1 7.3 142.5 10.7 142.1C14.1 141.7 18.1 140.9 22.3 139.4C26.5 137.9 32 134.6 35.7 133.1C39.4 131.6 41 130.9 44.7 130.5C48.4 130.1 55.9 130.5 58.1 130.5" stroke="#1ff01f" stroke-width="3.7"/><path d="M64.3 128.7C66.2 129.1 71.8 130.4 76 131.4C80.2 132.4 84.9 133.7 89.4 134.9C93.9 136.1 98.3 137 102.8 138.5C107.3 140 111.8 142.3 116.2 143.9C120.6 145.5 126.9 147.6 129 148.3" stroke="#1ff01f" stroke-width="3.5"/><path d="M62.6 134.9C61.1 136.8 56.3 142.9 53.6 146.6C50.9 150.3 48 154.6 46.5 157.3C45 160 44.1 161.4 44.7 162.6C45.3 163.8 47.8 163.8 50 164.4C52.2 165 55.3 166.2 58.1 166.2C60.9 166.2 64 165.2 67 164.4C70 163.7 74.5 162.1 76 161.7" stroke="#1ff01f" stroke-width="3.3"/><path d="M76 161.7C77.5 161 81.9 157.6 84.9 157.3C87.9 157 90.8 159 93.8 160C96.8 161 99.8 163.1 102.8 163.5C105.8 163.9 108.7 162.9 111.7 162.6C114.7 162.3 117.7 162 120.6 161.7C123.5 161.4 127.6 161 129 160.9" stroke="#1ff01f" stroke-width="5.4"/><path d="M64.3 169.8C65.5 170.8 68.8 173.8 71.5 176C74.2 178.2 77.4 181.1 80.4 183.2C83.4 185.3 86.4 187.1 89.4 188.6C92.4 190.1 95.3 191.5 98.3 192.1C101.3 192.7 104.5 192.7 107.2 192.1C109.9 191.5 112.6 190.4 114.4 188.6C116.2 186.8 116.5 183.8 118 181.4C119.5 179 122.4 175.5 123.3 174.3" stroke="#1ff01f" stroke-width="4"/><path d="M115.3 188.6L115.3 197.5" stroke="#1ff01f" stroke-width="3"/><path d="M129 206.4C127.3 206.1 121.3 203.8 118.9 204.6C116.5 205.3 114.7 208.9 114.4 210.9C114.1 212.9 115.3 214.8 117.1 216.3C118.9 217.8 123.1 219.2 125.1 219.8C127.1 220.4 128.3 219.8 129 219.8" stroke="#1ff01f" stroke-width="3.5"/><path d="M51.8 174.3C52.2 175.9 53.9 180.5 54.5 184.1C55.1 187.7 55.5 192 55.4 195.7C55.2 199.4 54.2 203.1 53.6 206.4C53 209.7 52.1 213.9 51.8 215.4" stroke="#1ff01f" stroke-width="3"/><path d="M31.3 152.8C32 154.6 34.4 160.2 35.7 163.5C37 166.8 38.4 169.5 39.3 172.5C40.2 175.5 41 178 41.1 181.4C41.2 184.8 40.1 188.8 40.2 193C40.4 197.2 41.2 203.1 42 206.4C42.8 209.7 44.2 211.6 44.7 212.7" stroke="#1ff01f" stroke-width="2.8"/><path d="M41.1 184.1C39.9 185.6 36.4 190.3 34 193C31.6 195.7 29.2 198.3 26.8 200.2C24.4 202.1 20.9 203.9 19.7 204.6" stroke="#1ff01f" stroke-width="2.8"/><path d="M10.7 179.6C10.1 181.1 8 185.6 7.1 188.6C6.2 191.6 5.1 193.8 5.4 197.5C5.7 201.2 7.9 206.4 8.9 210.9C9.9 215.4 11 219.8 11.6 224.3C12.2 228.8 12.5 233.2 12.5 237.7C12.5 242.1 11.8 248.8 11.6 251" stroke="#1ff01f" stroke-width="7.6"/><path d="M19.7 204.6C20.4 205.7 22.5 208.4 24.1 210.9C25.7 213.4 27.3 217.1 29.5 219.8C31.7 222.5 34.7 224.5 37.5 227C40.3 229.5 43.8 232.6 46.5 235C49.2 237.4 50.9 239.7 53.6 241.3C56.3 243 59.3 244.5 62.6 244.9C65.9 245.3 70.5 245.1 73.3 244C76.1 242.9 78.6 240.4 79.5 238.6C80.4 236.8 79.6 235.6 78.6 233.2C77.6 230.8 75.1 227 73.3 224.3C71.5 221.6 69.7 219.9 67.9 217.2C66.1 214.5 64.4 210.3 62.6 208.2C60.8 206.1 58.1 205.2 57.2 204.6" stroke="#1ff01f" stroke-width="3.5"/><path d="M19.7 204.6C21.6 205.2 27.4 207.3 31.3 208.2C35.2 209.1 39.2 210.3 42.9 210C46.6 209.7 51.8 207 53.6 206.4" stroke="#1ff01f" stroke-width="3.5"/><path d="M22.3 228.8C23.8 229.5 27.9 232.2 31.3 233.2C34.7 234.2 41 234.7 42.9 235" stroke="#1ff01f" stroke-width="3.5"/><path d="M121.5 126L129 130.5" stroke="#1ff01f" stroke-width="3"/><path d="M129 148.3C131.1 148.5 137.3 149.3 141.5 149.2C145.7 149 151.9 147.7 154 147.4" stroke="#1ff01f" stroke-width="3.3"/><path d="M129 158.2C131.2 157.3 138.2 154.6 142.4 152.8C146.6 151 152.1 148.3 154 147.4" stroke="#1ff01f" stroke-width="3.3"/><path d="M146.9 126C147.2 127.5 147.7 131.9 148.7 134.9C149.7 137.9 151.8 140.9 153.1 143.9C154.4 146.9 155.6 149.8 156.7 152.8C157.8 155.8 158.1 159 159.4 161.7C160.7 164.4 162.8 166.7 164.7 168.9C166.6 171.1 169.7 173 171 175.1C172.3 177.2 172.5 180.3 172.8 181.4" stroke="#1ff01f" stroke-width="3.7"/><path d="M167.4 128.7C168.8 129.7 173.4 132.4 175.5 134.9C177.6 137.4 178.9 140.9 179.9 143.9C180.9 146.9 181.8 149.8 181.7 152.8C181.5 155.8 180 159.2 179 161.7C178 164.2 176.8 165.9 175.5 168C174.2 170.1 171.8 173.2 171 174.3" stroke="#1ff01f" stroke-width="3.5"/><path d="M159.4 161.7C158.1 162.9 153.4 166.2 151.3 168.9C149.2 171.6 147.8 174.5 146.9 177.8C146 181.1 146.6 185 146 188.6C145.4 192.2 144.4 195.6 143.3 199.3C142.2 203 140.3 209 139.7 210.9" stroke="#1ff01f" stroke-width="3.3"/><path d="M171 206.4C169.7 206.7 165.5 207 163 208.2C160.5 209.4 158.5 211.5 155.8 213.6C153.1 215.7 149.9 218.5 146.9 220.7C143.9 222.9 140 225.2 137.9 227C135.8 228.8 135 230.8 134.4 231.5" stroke="#1ff01f" stroke-width="3"/><path d="M134.4 228.8C135.3 230.3 137.6 234.7 139.7 237.7C141.8 240.7 145.1 244.2 146.9 246.6C148.7 249 149.8 251.1 150.4 252" stroke="#1ff01f" stroke-width="1.9"/><path d="M172.8 181.4C172.5 182.9 170.8 187.6 171 190.3C171.2 193 173.5 195.1 173.7 197.5C173.8 199.9 172.2 203.4 171.9 204.6" stroke="#1ff01f" stroke-width="4.7"/><path d="M189.8 177.8C190.8 176.6 193.5 172.9 196 170.7C198.5 168.5 202.3 166.9 205 164.4C207.7 161.9 209.9 156.7 212.1 155.5C214.3 154.3 216.5 156.3 218.4 157.3C220.3 158.3 222.4 159.8 223.7 161.7C225 163.6 225.5 166.5 226.4 168.9C227.3 171.3 228.5 173.3 229.1 176C229.7 178.7 229.8 183.5 230 185" stroke="#1ff01f" stroke-width="3.3"/><path d="M189.8 177.8C190.7 178.9 193 182.3 195.1 184.1C197.2 185.9 199.6 187.6 202.3 188.6C205 189.6 208.2 190 211.2 190.3C214.2 190.6 218 189.7 220.2 190.3C222.4 190.9 224.2 192.4 224.6 193.9C225 195.4 224.4 198 222.8 199.3C221.2 200.7 217.8 201.3 214.8 202C211.8 202.7 208.1 203.4 205 203.7C201.9 204 198.5 204.3 196 203.7C193.5 203.1 191.4 201.8 189.8 200.2C188.2 198.6 187.1 195.8 186.2 193.9C185.3 192 184.7 189.5 184.4 188.6" stroke="#1ff01f" stroke-width="3.7"/><path d="M218.4 131.4L223.7 127.8" stroke="#1ff01f" stroke-width="3.5"/><path d="M218.4 131.4C219.6 132.3 222.8 136 225.5 136.7C228.2 137.4 233 136 234.5 135.8" stroke="#1ff01f" stroke-width="4"/><path d="M234.5 148.3C234.6 150.5 234.6 157.7 235.3 161.7C236 165.7 237.2 169.5 238.9 172.5C240.6 175.5 242.7 178.1 245.2 179.6C247.7 181.1 252 181.7 254.1 181.4C256.2 181.1 257.4 178.4 258 177.8" stroke="#1ff01f" stroke-width="3"/><path d="M227.3 161.7L234.5 163.5" stroke="#1ff01f" stroke-width="3"/><path d="M238.9 184.1L247.9 185" stroke="#1ff01f" stroke-width="2.8"/><path d="M244.3 212.7C245 213.9 247.1 217.1 248.7 219.8C250.3 222.5 252.5 226.6 254.1 228.8C255.7 231 257.4 232.5 258 233.2" stroke="#1ff01f" stroke-width="3.5"/><path d="M245.2 206.4L255.9 206.4" stroke="#1ff01f" stroke-width="2.8"/><path d="M179 213.6C178.6 215.4 177.4 219.5 176.4 224.3C175.4 229.1 174.2 237.6 172.8 242.2C171.5 246.8 169.1 250.4 168.3 252" stroke="#1ff01f" stroke-width="4.2"/></g><g filter="url(#fBlob)"><rect width="258" height="252" fill="#000" fill-opacity="0"/><path d="M248.7 16.1C248.7 13.7 256.9 10.3 258.5 12C260.1 13.7 260.1 25.8 258.5 26.5C256.9 27.2 248.7 18.5 248.7 16.1Z" fill="#1ff01f"/><path d="M154.9 136.7C155.2 134.8 162.5 130.5 164.7 130.5C166.9 130.5 168.6 134.8 168.3 136.7C168 138.6 165.2 142.1 163 142.1C160.8 142.1 154.6 138.6 154.9 136.7Z" fill="#1ff01f"/></g></svg>
<svg x="322.5" y="62.5" width="257.5" height="251.5" viewBox="0 0 258 251.9" preserveAspectRatio="none" overflow="hidden"><rect width="258" height="251.9" fill="#000"/><rect width="258" height="251.9" fill="#000800"/><g filter="url(#fHaze)"><rect width="258" height="251.9" fill="#000" fill-opacity="0"/><rect x="-60" y="-60" width="378" height="371.9" rx="143" fill="#14d014" fill-opacity="0.11"/><rect x="70" y="60" width="105" height="130" rx="40.4" fill="#14d014" fill-opacity="0.12"/><rect x="150" y="40" width="100" height="120" rx="38.5" fill="#14d014" fill-opacity="0.1"/><rect x="20" y="120" width="90" height="115" rx="34.6" fill="#14d014" fill-opacity="0.1"/></g><g filter="url(#fDot)" fill="none" stroke="#22f522" stroke-linecap="round"><path d="M187 35h.01M169.6 72h.01M54.4 51.8h.01M62.1 120.6h.01M91.3 94.2h.01M129.4 109.4h.01M4.8 90.5h.01M1 164.3h.01M122.2 149.1h.01M84.1 106.6h.01M202.3 21.8h.01M235.4 91.1h.01M130.4 105.3h.01M116.7 109.7h.01M243.1 53.4h.01M243.4 172.7h.01M31.4 90.9h.01M62.1 15h.01M202.3 184.4h.01M184.8 135.8h.01M227.8 198.9h.01M245.7 81.9h.01M255.4 171.2h.01M111.3 106h.01M50.5 65.5h.01M5 113.9h.01M4.7 68.2h.01M203.4 199.8h.01M69.8 26.6h.01M235.1 168.4h.01M38.5 189h.01M180.7 18.4h.01M177.6 87.5h.01M21.6 176.1h.01M222.6 93.3h.01M142.7 190.5h.01M33.3 108.3h.01M28.2 33.2h.01M52.1 64.2h.01M196 59.6h.01M45.9 71.3h.01M64.6 3.2h.01M142.2 39h.01" stroke-width="1.4"/><path d="M204.6 211.3h.01M135.3 250.1h.01M209.7 218.8h.01M81.6 208.3h.01M181 225.1h.01M165.7 226.3h.01M199.3 237.5h.01M96 227.9h.01M98.6 211h.01M195.1 211.5h.01M134.4 245.3h.01M203.4 245h.01M213.8 249.3h.01M99.9 216.2h.01M149.6 232.5h.01M173.6 208.5h.01M71.6 212.5h.01M212.2 233.6h.01M149.4 209.5h.01M204.9 213h.01M224.5 229.7h.01M196.9 220.6h.01M76 218.4h.01M85.8 164.7h.01M102.1 82.5h.01M39 186.1h.01M37.7 169.9h.01M33.8 2.9h.01M167.6 108.3h.01M111.9 179.2h.01M108.1 27h.01M233.3 86.5h.01M64.1 56.9h.01M131 115.5h.01M242.9 143.8h.01M132.2 13.2h.01M68.5 8.1h.01M242.1 130.4h.01M241.1 21.9h.01M111.5 101.8h.01" stroke-width="1.8"/><path d="M31.7 16.2h.01M32.1 6.3h.01M33.1 19.6h.01M34.6 25h.01M31.8 18.5h.01M34 20.8h.01M32.3 7.8h.01M34.7 21.6h.01M36.9 2h.01M59.2 5.2h.01M12.3 26.7h.01M16.2 22.9h.01M25.1 20.8h.01M12.4 30.5h.01M4.5 32.3h.01M14.4 27.1h.01M59.8 58.5h.01M55 57.7h.01M53.7 54.4h.01M59.4 55.9h.01M56.7 59.6h.01M63.5 63.8h.01M54.7 57.1h.01M13.6 64.1h.01M6.1 63.2h.01M11.6 65.1h.01M9.8 62.3h.01M98.1 51.1h.01M99.3 50.5h.01M98.2 48.7h.01M87.5 37.8h.01M95.1 60.4h.01M98.2 38.4h.01M102.9 47.8h.01M95.7 44h.01M100.2 50.1h.01M84 62.3h.01M97.1 50.5h.01M87.6 38.3h.01M96.3 62.1h.01M98.3 58.4h.01M98.9 58h.01M102.8 52.9h.01M86 63.2h.01M92.2 55.8h.01M92.1 27h.01M96.7 29.7h.01M156.4 15.8h.01M173.4 17.7h.01M173.6 9.4h.01M176.3 9.6h.01M165.8 14.7h.01M167.6 14.2h.01M154.8 38.8h.01M154.6 38.8h.01M201.9 27.2h.01M208.1 23.2h.01M217.4 26.7h.01M206.1 30.9h.01M215.6 25h.01M210.9 28.1h.01M219 11.4h.01M212 21.1h.01M203.3 34.3h.01M209 22.4h.01M211.3 24.3h.01M212.7 15.6h.01M211.9 21.7h.01M196.1 33.7h.01M206.8 33.9h.01M203.4 26.4h.01M211.4 33.3h.01M206.3 38h.01M198.7 33h.01M195.1 31.2h.01M201.1 48.5h.01M210.4 72.2h.01M201.8 62.8h.01M203 70h.01M197 74.5h.01M202.8 60.5h.01M198 52.5h.01M196.3 56.4h.01M206.8 62h.01M196.3 77.4h.01M204.9 69.2h.01M197.5 53.9h.01M195.1 74.9h.01M187.8 73.8h.01M184.9 76.5h.01M188.7 74.3h.01M191.8 77.3h.01M180.8 72h.01M194.7 79.2h.01M133.8 72h.01M119.6 71.1h.01M112.4 71.1h.01M104.1 72.2h.01M99.7 75.9h.01M134.7 73.3h.01M123.5 98.3h.01M145 82.5h.01M148.9 81.2h.01M143.3 80.6h.01M147.5 79.4h.01M135.2 73.1h.01M152.3 83.6h.01M141.5 93.2h.01M147.1 115.3h.01M130.7 111.5h.01M124.9 106h.01M105.5 109.4h.01M114.3 111.6h.01M139 111.4h.01M147.7 119.2h.01M106.9 104.5h.01M107 112.1h.01M102.3 109.6h.01M137 107.9h.01M134.3 108.9h.01M149.6 115.8h.01M121.8 103.9h.01M127.4 108.8h.01M107.4 105.3h.01M147.5 120.7h.01M109.1 103.5h.01M106.9 102.9h.01M150 120.2h.01M121.3 106.2h.01M116.3 104.1h.01M97.9 145.1h.01M101.1 140.9h.01M95.7 134.5h.01M92.9 132.7h.01M103.4 147.9h.01M88.8 124.7h.01M92 121.8h.01M96 135.5h.01M90.6 121.4h.01M100.7 140.6h.01M149.2 121.1h.01M151.1 139.8h.01M141.4 143.2h.01M145.4 142.9h.01M123.5 144.9h.01M128.6 144.6h.01M137.3 143.8h.01M122.4 150.3h.01M134.3 144.6h.01M145.4 141.4h.01M127.1 144.1h.01M153.6 132.3h.01M48.8 97.6h.01M54.7 94.8h.01M38.9 103.6h.01M35.9 108.1h.01M63.4 89.3h.01M49.1 96.7h.01M31.7 106.8h.01M64.5 88.5h.01M31.2 107.1h.01M63.4 88.7h.01M37 104.4h.01M57.9 90.8h.01M67.9 91.1h.01M46.3 102.7h.01M43.3 100.2h.01M55.1 95.2h.01M64.3 91.1h.01M35.7 108h.01M43.8 103.5h.01M66.8 88.1h.01M31.4 107.7h.01M49 99h.01M62.8 91.9h.01M71 93.5h.01M58.1 87.7h.01M49.4 96.3h.01M48.3 99.8h.01M51.4 96.5h.01M46.2 95.2h.01M52.2 98.7h.01M43.3 97.7h.01M53.9 95.4h.01M45.4 128.6h.01M31.9 151h.01M44.6 136h.01M46.1 134.2h.01M45.7 142.8h.01M46.4 134.3h.01M48.2 129.4h.01M44.9 126.4h.01M33.2 146.1h.01M46.1 134.3h.01M36.8 148.4h.01M42.9 129.9h.01M0.2 91.4h.01M6.4 114.5h.01M10.1 112.3h.01M216.4 88.4h.01M226.6 97.8h.01M205.9 88.6h.01M218.8 91.8h.01M218.6 89.8h.01M229.3 100.6h.01M216.7 89.5h.01M204.9 86.2h.01M209.3 83.8h.01M209.8 91.1h.01M221.5 89.2h.01M223.6 118.2h.01M228.5 105.6h.01M209.8 128.5h.01M230.6 102h.01M188.3 100.2h.01M191.4 96.2h.01M186.1 101.6h.01M187.8 100.7h.01M189.2 97.3h.01M182.3 116h.01M177.1 121.7h.01M186.9 114.6h.01M197.1 130.3h.01M198.1 128.6h.01M183.1 119.6h.01M183.7 115.6h.01M178.5 119.1h.01M185.2 118.7h.01M186.6 119.3h.01M195.6 127.3h.01M190.9 126.9h.01M192.8 123.5h.01M198.1 134h.01M200.4 134.1h.01M194.6 126.4h.01M178.8 118.6h.01M190.1 124.6h.01M199.7 137h.01M181.8 119.3h.01M182.4 132.3h.01M191.3 133.2h.01M216.3 135.9h.01M241.4 118h.01M130 159.6h.01M122.3 158.8h.01M124.4 159.7h.01M131.5 164.7h.01M121.3 158.5h.01M115 156.3h.01M140.2 165.3h.01M159.3 155.6h.01M154.9 158h.01M121.3 159.6h.01M146.1 162.7h.01M142.1 163h.01M142.5 162.9h.01M154.1 161.7h.01M146.1 159.3h.01M134.2 162.2h.01M129.2 162.8h.01M134.9 163.3h.01M135.5 174.8h.01M124.2 185.3h.01M126.8 193.8h.01M127.2 167.4h.01M132.4 171.6h.01M133 170.7h.01M133.4 169.6h.01M132.1 177h.01M128.2 179.8h.01M137.6 175.5h.01M124.8 193.1h.01M126.7 191.3h.01M129.1 168.7h.01M150.1 206h.01M152.6 204.1h.01M46.2 170.7h.01M48.9 169.5h.01M53.8 172.7h.01M47.3 170.6h.01M58.9 162.2h.01M76.5 186h.01M76.1 186.2h.01M80.1 186.7h.01M67 175.8h.01M76.3 184.5h.01M69.3 177h.01M73.2 181.8h.01M71.2 184h.01M75.9 184.9h.01M67.9 175.5h.01M69.4 182.7h.01M59.3 177h.01M78.1 183.6h.01M71.8 181.8h.01M52.3 200.1h.01M44.6 185h.01M51.3 200h.01M42.7 177.1h.01M79.1 203.3h.01M72.9 205.9h.01M76.2 204.7h.01M76.7 206.3h.01M43.4 224.9h.01M49.6 211.9h.01M45.3 227.5h.01M11.2 191.8h.01M4 193.1h.01M3.5 188.6h.01M4.1 197.3h.01M9.6 196.8h.01M-1.2 200.8h.01M13.3 202.5h.01M8.3 243.3h.01M8.5 235.1h.01M5.5 229.5h.01M9.5 244.5h.01M8.7 245.6h.01M12.4 248.3h.01M7.1 233.3h.01M13.2 230.6h.01M223 180.2h.01M222.3 179.8h.01M230 189h.01M228.3 192h.01M222.3 178.3h.01M233.7 194.9h.01M229.9 194.6h.01M225.2 188.4h.01M252.3 186.2h.01M237 192h.01M245.3 191.3h.01M242.3 196.6h.01M256.5 183.6h.01M242.9 189.5h.01M255.6 183.3h.01M249.3 191h.01M255.7 186h.01M143.1 247.5h.01M254.4 34.2h.01M238.7 67.2h.01M241.7 64.8h.01M237.6 69.3h.01M241.1 66.2h.01M231.3 79.2h.01M76.9 6.3h.01M87.6 6.3h.01M111.7 7.2h.01M62.6 19.7h.01M57.2 33.1h.01M49.2 28.6h.01M38.4 28.6h.01M71.5 34h.01M80.5 26.8h.01M96.5 17.9h.01M107.3 42.9h.01M110.9 46.5h.01M123.4 44.7h.01M167.2 43.8h.01M170.7 31.3h.01M180.6 17.9h.01M194.9 8.9h.01M159.1 22.3h.01M103.7 67h.01M80.5 61.7h.01M98.3 92.1h.01M107.3 97.4h.01M18.8 22.3h.01M25 20.6h.01M76.9 153.8h.01M84 152h.01M90.3 156.4h.01M103.7 153.8h.01M78.7 6.3h.01M176.3 208.9h.01M153.2 207.3h.01M82.8 209.8h.01M172.5 248.8h.01M174.3 222.6h.01M179 240.5h.01M167.2 232.1h.01M206.7 248.7h.01M179.1 206.6h.01M72.2 224.7h.01M212.2 242h.01M208.1 250.9h.01M158.9 206.8h.01M98.4 240.8h.01M183 249.2h.01M206.8 227.5h.01M200.2 209.5h.01" stroke-width="2.2"/><path d="M34.4 17.5h.01M34.5 19.2h.01M36.7 6h.01M35.3 6h.01M32.9 25.2h.01M33 24h.01M33 21.2h.01M33.7 8.4h.01M35.7 11.9h.01M61.1 6h.01M1.1 33.6h.01M8.5 32.4h.01M3.3 32.5h.01M13.7 27.6h.01M4.9 30.9h.01M57.5 58.2h.01M55.9 61.2h.01M59.2 56.5h.01M46.3 52h.01M50.9 51.2h.01M59.9 61.4h.01M54.6 60.1h.01M10.4 63.7h.01M9.4 62.8h.01M9 62h.01M14.4 62.6h.01M91.3 59.1h.01M87.9 41.5h.01M85.7 36.8h.01M86 40h.01M92.3 37.6h.01M95.2 39.5h.01M95.6 51h.01M100.5 51.3h.01M89.8 44h.01M95.5 54.3h.01M93.9 63.4h.01M96.7 44.7h.01M95.6 41.5h.01M84 64h.01M91.3 56.3h.01M82 38.8h.01M92.4 37.7h.01M84.7 39.5h.01M93.8 63.4h.01M101.7 52.1h.01M98.2 53.3h.01M94.7 27h.01M95.2 25.2h.01M153.3 19.8h.01M151.6 17.5h.01M145.9 17.1h.01M156.2 15.6h.01M150.3 18.7h.01M159.4 19h.01M164.1 15.3h.01M168 14h.01M172.5 3.8h.01M165.6 11.5h.01M168 13.3h.01M168.7 10.9h.01M175.7 8.3h.01M176.1 5.1h.01M165.4 15.7h.01M173.5 2.6h.01M177 10.3h.01M142.4 31.8h.01M218.1 18.8h.01M212 25.9h.01M217.2 21.9h.01M205.8 34.4h.01M204.5 24.2h.01M211.5 24h.01M216 12.1h.01M216 10.5h.01M198.7 30h.01M211.6 19h.01M215.1 15.8h.01M222.9 13.8h.01M212.1 18.2h.01M201.8 28.6h.01M203.1 31.9h.01M207.5 25.1h.01M210.5 28.1h.01M207.8 31.1h.01M196.5 30.2h.01M201.9 33.4h.01M205.4 34.7h.01M199.9 59.3h.01M206.8 56.4h.01M202.2 52.2h.01M207.5 60.5h.01M198.8 58.7h.01M207.3 67.5h.01M202.1 63.7h.01M204.1 57.7h.01M198.3 58.1h.01M200.7 57.7h.01M199.8 56.9h.01M206.2 59.6h.01M201.3 65.7h.01M208.9 74.2h.01M205.7 72.9h.01M194.2 76.9h.01M183.4 75.8h.01M181.7 76.5h.01M186.2 74.8h.01M99.7 77.1h.01M101.9 75.1h.01M123.2 71.2h.01M107.8 73.7h.01M127 71.7h.01M116.8 99.4h.01M118.4 98.1h.01M102.8 97.8h.01M122.8 99.2h.01M96.4 94.9h.01M105.6 97h.01M116.7 97.8h.01M99.4 96.8h.01M150.7 82.4h.01M143.4 82.3h.01M149.1 86.7h.01M135.8 76.3h.01M144.5 78.8h.01M140.7 72.7h.01M140.3 94.4h.01M140.4 91.7h.01M143.9 90h.01M143.1 91.4h.01M141.8 92.5h.01M102.5 107h.01M130.2 108.5h.01M108.4 110.1h.01M128.2 107.2h.01M146.4 117.3h.01M129.9 106.2h.01M131.9 110.9h.01M104.8 109.4h.01M107.5 103.7h.01M126 107.3h.01M108 109.3h.01M111.9 106.6h.01M106 103h.01M117.4 107.1h.01M112.6 103.7h.01M110 107.5h.01M145.2 116.8h.01M141.2 121h.01M105.9 112.1h.01M135.7 113.3h.01M121.8 107h.01M138.8 112h.01M100.5 107.7h.01M142.1 114.7h.01M131.4 108.3h.01M123 104.5h.01M101.2 106.2h.01M130.4 107h.01M103.7 147.6h.01M94.4 114.6h.01M92.1 108.1h.01M98.2 144.9h.01M99.7 143.4h.01M102.7 148.4h.01M96.9 139.7h.01M93.4 134.2h.01M98.2 143.7h.01M90.1 123h.01M104.8 148.4h.01M95.7 109.5h.01M94.8 111.5h.01M92.7 115.9h.01M101.9 145.1h.01M94.1 128.1h.01M134.7 144.1h.01M128 143.7h.01M120.4 148.1h.01M135.7 144.2h.01M151 134h.01M150.3 124.2h.01M121.2 148.2h.01M131.9 144.3h.01M149.9 130.3h.01M146.9 139.3h.01M146.5 140.5h.01M100.1 121.6h.01M94.8 128.7h.01M157.3 110.9h.01M155.6 130.5h.01M157.3 137.7h.01M105.5 114.4h.01M68.1 90.4h.01M66.8 93h.01M63 88.5h.01M58.4 90h.01M54.3 92.3h.01M53.3 94.3h.01M69.5 92.8h.01M32.2 106.4h.01M36.9 103.5h.01M56.2 93.1h.01M54.2 97.6h.01M41.5 101h.01M57.5 91h.01M58.2 94.1h.01M57.5 93.5h.01M41.1 108.9h.01M56.1 94.3h.01M34.3 108.2h.01M60.7 89.2h.01M47.4 100.2h.01M54.2 95.3h.01M38.8 106.2h.01M65.6 90.6h.01M47.7 97.1h.01M47.6 94.4h.01M48.7 96.4h.01M50.9 95.7h.01M54.8 93.9h.01M46.5 94.9h.01M50.1 100.2h.01M30 148.2h.01M41.5 149.2h.01M47.3 128.2h.01M47 133.2h.01M48.2 131.8h.01M50.8 132.1h.01M42 149.7h.01M43.9 144.8h.01M43.7 139.7h.01M40.8 124.7h.01M42.5 144.3h.01M34.1 148.5h.01M38.7 150.2h.01M47.8 141.6h.01M28.3 149.1h.01M46.8 128.1h.01M4.2 92h.01M8.9 112.6h.01M9.1 115.7h.01M11.3 113h.01M10.7 114.6h.01M10.6 115.8h.01M14.9 122h.01M21.5 85.8h.01M36.7 87.6h.01M42.9 88.5h.01M28.6 71.5h.01M23.2 78.7h.01M26.8 77.8h.01M30.4 76.9h.01M211.8 84.6h.01M208.3 89.7h.01M226.4 100.1h.01M212.7 86.5h.01M210.5 85h.01M209.5 91.7h.01M214.5 84.1h.01M227.5 96.3h.01M225.4 88.8h.01M214.8 93.6h.01M230.9 100.2h.01M222 122h.01M230.4 107.9h.01M224.7 115.5h.01M225.5 111.5h.01M219.4 123.3h.01M230.8 101.8h.01M228.6 111.3h.01M213.3 126.5h.01M189 97.9h.01M184.9 91.1h.01M190.8 96.7h.01M188.3 96.5h.01M189.3 96.2h.01M187.6 96.9h.01M187.2 93.1h.01M187.2 99.3h.01M182.4 114.1h.01M178.8 119.1h.01M195.3 132h.01M179.2 122.5h.01M188 118.7h.01M192.3 122.6h.01M181.3 120.1h.01M182.1 118.8h.01M185.7 117.5h.01M184.2 115.9h.01M137.9 161.1h.01M140.1 165.6h.01M130.4 161.7h.01M161.2 158h.01M142 165.6h.01M118.7 157.7h.01M118.7 155.8h.01M134.7 163h.01M138 163.9h.01M131 164.5h.01M144 161.5h.01M127.1 158.2h.01M126.5 157.3h.01M143.1 163.1h.01M127.7 160.5h.01M137.8 162.8h.01M117.8 157.4h.01M138.4 166h.01M137.6 164.1h.01M140 163.7h.01M133.8 166.2h.01M143.5 161.7h.01M150.2 161h.01M141.7 163.7h.01M134.8 166.1h.01M145 163.7h.01M125.8 161.2h.01M130.1 168.8h.01M126.7 191.5h.01M125.3 194h.01M132.3 177.9h.01M126.5 183.7h.01M126.7 187h.01M123.8 184.7h.01M127.2 167.6h.01M126.7 185.8h.01M133.7 174h.01M125.4 183.4h.01M138.5 177.3h.01M138.2 174.5h.01M126.1 181h.01M127.8 167.6h.01M132.5 167.1h.01M126.3 182.1h.01M125.9 182.4h.01M133.2 173.4h.01M122 194.1h.01M136.1 169.7h.01M129 165h.01M133.5 178.9h.01M128.7 164.8h.01M127.6 195h.01M132.8 176.7h.01M131.2 172.1h.01M128.2 191.1h.01M128.5 166.7h.01M128.3 170.8h.01M127.6 181.2h.01M126.3 191.3h.01M146.2 201h.01M53.3 168.8h.01M54.7 170.6h.01M43.6 168.5h.01M73.2 180.1h.01M72.6 180.9h.01M64.8 176.4h.01M78 188.2h.01M80 185.6h.01M77.6 183.7h.01M59.7 174.6h.01M79.3 186.1h.01M65.3 174.9h.01M73.8 184.7h.01M45.2 192.1h.01M58.1 206.6h.01M46.5 192.6h.01M45.8 191.2h.01M47.7 223.6h.01M48.2 221.9h.01M47.5 219.7h.01M47 213.6h.01M48.7 221.1h.01M6.1 186.2h.01M5.9 194h.01M4.9 187.8h.01M5.2 188.2h.01M3.6 187.2h.01M9.4 190.3h.01M9.5 195.2h.01M8.5 199.5h.01M7.8 182h.01M13.8 203.9h.01M10.3 247.5h.01M11 248.6h.01M13.6 236.5h.01M11.6 244.3h.01M12.5 246.5h.01M10.4 239.2h.01M7 246h.01M11.4 251.3h.01M8.4 243.4h.01M7.1 236.7h.01M7.8 250.8h.01M9.9 230.5h.01M227 190.4h.01M226.5 185.3h.01M226.8 185.6h.01M227.9 186.9h.01M231.9 194h.01M223.3 186.2h.01M223.9 183.7h.01M228.9 193.4h.01M237.4 193.9h.01M243.7 192.7h.01M244.3 193.8h.01M249.9 193.3h.01M236 196.1h.01M244.2 198.3h.01M245.3 193.5h.01M246.4 193.4h.01M255 180.7h.01M245.6 197.5h.01M245.4 197.6h.01M257.8 180.5h.01M250.1 188.5h.01M252.7 182.2h.01M254.7 185.2h.01M252.7 191.2h.01M242.4 191.3h.01M257.1 188.2h.01M246.3 195.3h.01M219.9 187.7h.01M212.8 186.8h.01M229.8 197.6h.01M236 155.6h.01M246.7 155.6h.01M143.9 246.9h.01M253.9 34.2h.01M253.5 37.6h.01M234.9 71h.01M237.2 57.9h.01M238.8 58.7h.01M243.2 53.6h.01M254.8 75.1h.01M252.1 103.7h.01M90.5 219.7h.01M164 229.6h.01M188.9 218.7h.01M90.5 224.7h.01M212.4 219.9h.01M178.4 208.4h.01M175.7 250.9h.01M143.8 230.7h.01M162.7 249.1h.01M154.5 233.8h.01M80.2 246.6h.01M229 245h.01M202.1 250.5h.01M201.2 242.9h.01M222.3 250.7h.01M104.4 234.1h.01M217.9 241.3h.01M148.4 213.8h.01" stroke-width="2.6"/><path d="M33.6 12.4h.01M38 6.6h.01M31.2 20.2h.01M34.3 14.5h.01M31.1 19.3h.01M36.7 8h.01M34.1 23.1h.01M33.8 17.8h.01M37.3 5.7h.01M36.9 1.2h.01M30.4 19.4h.01M34.6 22.6h.01M61.4 6.8h.01M56.3 6.9h.01M69.5 8.5h.01M58.6 6h.01M21.1 21.2h.01M21.2 25.5h.01M41.7 52.4h.01M53.3 61.1h.01M55.3 59h.01M49.1 61.2h.01M54.3 61.1h.01M47.2 54.9h.01M43.3 50.8h.01M15 60.6h.01M15.1 63.8h.01M10.1 62.3h.01M14.1 61.9h.01M87.1 59h.01M98.9 52.2h.01M101.4 53.9h.01M99.9 59.2h.01M95.6 60.5h.01M100.9 49.1h.01M101.5 55.6h.01M94.8 42.9h.01M87.4 39.2h.01M101 60.5h.01M90.1 33.7h.01M96.8 52.4h.01M91.7 65.4h.01M97.9 42.1h.01M85.9 62.1h.01M86.5 68.1h.01M102.1 54.9h.01M100.8 55.1h.01M89.6 45.6h.01M98.5 47h.01M94.5 38h.01M87.3 34.9h.01M92.1 66.3h.01M99.4 54.6h.01M100.5 41.8h.01M88.6 46.8h.01M95.5 28.3h.01M93.5 29.8h.01M92.6 30.4h.01M159.7 20.3h.01M160.1 21.3h.01M173.9 7.9h.01M170.1 18.1h.01M171.2 14.7h.01M169.8 10.3h.01M164 12.8h.01M170.5 6.5h.01M172.4 11.5h.01M176.5 8.8h.01M169.8 6.8h.01M160.3 17.1h.01M167.1 15.4h.01M170.4 6.9h.01M155.9 38.2h.01M202.6 31.6h.01M206.9 26.6h.01M201.1 33.8h.01M218 15.7h.01M215.2 23.7h.01M203.8 33.4h.01M199 30.8h.01M216.1 21.3h.01M208.2 31.6h.01M220.5 19.6h.01M212.1 14.5h.01M220.2 12.2h.01M206.2 34.1h.01M210.9 27.1h.01M210.3 29.9h.01M215 17.2h.01M212.8 18h.01M202.3 37.1h.01M215.2 14h.01M215.5 20.7h.01M201.6 29.9h.01M212 17.9h.01M208.8 15.9h.01M196.7 30.5h.01M200.1 26.8h.01M201.1 35.2h.01M195.7 30.8h.01M199.8 33.5h.01M194.9 35.3h.01M194.4 35.2h.01M207.7 66.5h.01M192.8 63.4h.01M196.9 64.9h.01M202.4 49.7h.01M197.5 57.2h.01M190.3 78.7h.01M202.5 65.7h.01M197.4 55.2h.01M203.9 67.3h.01M197.8 62.1h.01M200.1 64.6h.01M205.1 59.3h.01M195.8 73.3h.01M208.2 60.1h.01M192.6 68.9h.01M207 75.2h.01M203.5 55.4h.01M199 77.9h.01M208.2 50.5h.01M203.1 63.7h.01M206.4 51.8h.01M199.1 52.5h.01M196.1 69.8h.01M208.4 58.6h.01M208.5 67.6h.01M179.8 75h.01M181.6 76.5h.01M182.1 75.3h.01M187.1 75h.01M194.9 76.6h.01M183.9 74.2h.01M101.5 73.3h.01M128.3 71.5h.01M106.3 72.7h.01M109.1 71.8h.01M124.7 70.8h.01M112.3 71.3h.01M97.2 78h.01M102.1 74.1h.01M96.7 78.7h.01M110.7 70.8h.01M127.9 97.7h.01M100.1 97.3h.01M99.2 96.7h.01M102.6 97.5h.01M143.5 78.6h.01M147.6 85.6h.01M158.6 90.8h.01M144.2 79.4h.01M140.3 80.2h.01M150.3 86.8h.01M142 76.2h.01M142.2 77.6h.01M132.4 71.6h.01M144.2 81.8h.01M133.9 71.5h.01M136.6 74.3h.01M149.5 85.4h.01M136.3 72.6h.01M139.2 70.9h.01M139.7 73.8h.01M141.5 92.6h.01M120.3 108.4h.01M100.6 110.1h.01M103.6 110.6h.01M113.3 104.3h.01M102.2 106.3h.01M133.3 110.7h.01M140.7 111h.01M131.9 111.8h.01M145.5 115.9h.01M114.4 106.3h.01M122.4 105.3h.01M119 108.8h.01M121.6 106.1h.01M124.4 103.5h.01M126.7 111.2h.01M139.2 111.3h.01M105.1 108h.01M128.1 101h.01M142.7 112.7h.01M130.1 111.6h.01M144 114.6h.01M111.6 106.5h.01M136.2 109h.01M110.7 108.4h.01M100.9 106.8h.01M114.1 105h.01M126.1 107h.01M105.9 107.7h.01M125.2 107.1h.01M128.8 109.9h.01M107.4 110.9h.01M116.3 108.6h.01M132 111.5h.01M145 117h.01M148.6 120.1h.01M106 111.4h.01M128.9 108h.01M137.6 110.6h.01M121.1 104.6h.01M139.5 113.6h.01M139.3 114h.01M136.4 112.8h.01M119.8 108.7h.01M93.4 120.1h.01M91.3 115.8h.01M93.2 111.9h.01M92 109.4h.01M97.8 142.9h.01M103.6 146.7h.01M101.2 142.6h.01M149.1 128.8h.01M122.7 147h.01M150 127h.01M139.4 146h.01M140.7 144.3h.01M134.4 144.9h.01M147.1 139.2h.01M150.3 127.4h.01M148.3 137.2h.01M135.9 145.9h.01M49.9 96.6h.01M52.8 96.5h.01M42.4 102.6h.01M61.9 91.3h.01M38.5 108.5h.01M61.4 88.8h.01M47.2 101.4h.01M61.2 91.1h.01M55.4 92.6h.01M66.3 87.4h.01M54.2 90.7h.01M36.3 108.4h.01M64.2 90.5h.01M55.7 98.1h.01M55.8 91.3h.01M39.7 103.8h.01M66.7 90.5h.01M42.2 101.9h.01M47 98.3h.01M68.1 92h.01M55.9 89.7h.01M50.1 96.1h.01M69.5 91.2h.01M49.6 97.6h.01M43.7 99.9h.01M50.9 98.3h.01M45.6 100.9h.01M50.5 96.9h.01M44.3 93.2h.01M43 130.7h.01M48.6 130.3h.01M43.3 144.7h.01M40.9 145.9h.01M33 149.7h.01M44.1 138h.01M41.6 141.9h.01M38.8 140.1h.01M47.6 140.1h.01M48.1 129.1h.01M42.4 144.8h.01M37.8 148.5h.01M45.5 143.8h.01M48.4 135.7h.01M47.9 128.9h.01M43 137.4h.01M37 148.1h.01M47.1 134.4h.01M44.3 141.4h.01M43.6 137.9h.01M43 126.9h.01M45.9 137.7h.01M45.9 141.8h.01M42.7 139.5h.01M44.7 142.1h.01M30.6 143.1h.01M2.2 91.7h.01M1 91.1h.01M5.8 114.6h.01M2.3 109.7h.01M3.5 111.3h.01M2 111h.01M14.7 113.9h.01M2.2 109.4h.01M9.4 114.1h.01M14.4 123.5h.01M15.5 122.7h.01M17.7 123.1h.01M206.2 88h.01M229.5 93h.01M218.4 91.1h.01M220.4 87.9h.01M208.5 84.4h.01M210.4 88h.01M212.4 89.3h.01M223.5 94.7h.01M210.7 90.1h.01M226.3 91.1h.01M214.1 91.3h.01M218.1 88.5h.01M220.6 92.7h.01M225.9 95.4h.01M224.1 96.1h.01M218.3 86.1h.01M201.2 82.6h.01M208.5 93.1h.01M227.5 93.1h.01M209.8 86.3h.01M228.4 98.3h.01M206.2 85.4h.01M209.7 127.2h.01M224.9 115.5h.01M229.2 109.9h.01M230.3 103.7h.01M210.1 127.6h.01M216.5 126.2h.01M216.1 126.1h.01M227 114.6h.01M217.6 121.7h.01M187.3 96.8h.01M180.4 120.4h.01M191.8 122h.01M197.7 133.9h.01M178.3 120.4h.01M197 122.7h.01M187.9 121.8h.01M181.7 119.3h.01M184.8 113.6h.01M181.7 114.2h.01M184.4 118.9h.01M192.3 121.6h.01M193.8 128.9h.01M179.5 120.9h.01M194.2 129.1h.01M192.8 130.2h.01M196.5 127.8h.01M200.1 132.2h.01M176.1 122.9h.01M145.2 159.3h.01M133.9 163.6h.01M148.9 161.3h.01M123.9 160.1h.01M147.4 163.7h.01M156.7 157.4h.01M138.7 163.5h.01M123.9 161.8h.01M155.5 157.5h.01M158.7 155.9h.01M141.8 164.5h.01M154.3 157.9h.01M122.5 160.9h.01M146.7 162.9h.01M128.8 160.3h.01M142.8 162h.01M138.4 165.7h.01M135.5 163.3h.01M124 157.2h.01M122.4 154.7h.01M153.7 158.4h.01M124.2 158.1h.01M144.3 164.6h.01M149.8 162.3h.01M136.7 165.7h.01M148.3 162.8h.01M148 160.3h.01M147.4 161.9h.01M160.9 156.5h.01M120.7 157.8h.01M140.2 166.4h.01M162.1 155.9h.01M134.5 165.3h.01M122.9 187.5h.01M127.7 183.2h.01M128.8 177.1h.01M136.6 173.8h.01M134 180.2h.01M124.7 180.9h.01M125.6 186.4h.01M129.3 180.2h.01M128.3 182.4h.01M132.8 179.8h.01M122.9 188.8h.01M129.9 185.8h.01M129.4 167.1h.01M133.4 176.6h.01M131.3 172.5h.01M129.4 188.4h.01M136.5 178.4h.01M125.9 185.2h.01M125.4 187h.01M127.2 188.5h.01M169.9 163.6h.01M173.4 171.6h.01M173.4 157.3h.01M182.4 153.8h.01M52.4 170.6h.01M51.5 171h.01M45.6 170h.01M55.9 166.4h.01M58.1 168.3h.01M49.8 171.3h.01M51.3 169.5h.01M54.6 170.1h.01M75.6 181.1h.01M62.7 177.7h.01M81.1 189.5h.01M79.9 187h.01M63.1 176h.01M61 174.4h.01M65.4 174.1h.01M79.1 183.9h.01M61.6 176.3h.01M73.9 181.2h.01M73.5 183.4h.01M76.7 185.5h.01M72.6 182.2h.01M62.1 178.8h.01M73.4 181.6h.01M63.3 178.2h.01M74.4 182.8h.01M59.2 177.7h.01M60.1 178.9h.01M56.6 204.4h.01M61 208.9h.01M44 182.4h.01M55.6 204.5h.01M46.9 195.4h.01M51.3 198.1h.01M55.2 206.1h.01M57.3 206.9h.01M56.5 205.3h.01M43.9 189.5h.01M43.8 188.4h.01M44.9 227.2h.01M46 218h.01M47.5 221.4h.01M44.7 214.8h.01M8.6 188.8h.01M8.6 195.5h.01M8.6 195.1h.01M6.8 190.3h.01M14.9 199.8h.01M14.6 202.4h.01M15.9 206.3h.01M14.5 201.4h.01M11 245.3h.01M12.4 236.5h.01M8.6 242.2h.01M11.1 239.2h.01M9.2 228.4h.01M10 239.2h.01M10.6 237.6h.01M8.4 239.3h.01M11.9 250.7h.01M12.9 240.7h.01M8.6 235.2h.01M226.5 191h.01M222.5 181h.01M229.8 190.3h.01M224.4 185h.01M231 195.1h.01M227.2 188.6h.01M221.8 178h.01M256.3 185.3h.01M233.2 189.8h.01M242 191.6h.01M244.9 195.5h.01M243.5 191.6h.01M245.5 196.6h.01M253.2 181.5h.01M244.6 191.1h.01M255.9 183.3h.01M239.7 191.6h.01M246.8 193h.01M246.2 190.4h.01M246.1 192.9h.01M245.3 191.6h.01M250.4 196h.01M144.3 246.1h.01M142.3 244.8h.01M118 239.6h.01M121.6 236h.01M257 43.6h.01M252.7 39.2h.01M256.1 43.9h.01M239.4 62.3h.01M238.7 62.6h.01M237.3 70.6h.01M239.8 61.8h.01M230.8 79h.01" stroke-width="3.1"/><path d="M33.5 11.2h.01M32.5 17.8h.01M31 24.1h.01M34.1 17.6h.01M37.4 3.9h.01M31 13h.01M54.6 3.6h.01M7.6 30.8h.01M18.9 30.2h.01M10.6 30.1h.01M8.2 31.1h.01M-0 32.5h.01M8.9 28.9h.01M16.4 28.5h.01M-3.2 34.6h.01M42.9 54.1h.01M56.7 56.9h.01M49.3 56.1h.01M50.2 56h.01M45.2 54.5h.01M48.7 56.3h.01M48.2 55h.01M61.6 59.2h.01M41.5 50.3h.01M59.6 61.6h.01M53.2 59.6h.01M11.4 64.6h.01M11.7 65.4h.01M9.8 61.5h.01M15.3 63h.01M98.6 51h.01M97.2 48.1h.01M99.9 46.9h.01M92 63h.01M85 67.9h.01M100.5 57.6h.01M93.3 60h.01M98.9 58.5h.01M93.8 39.2h.01M97.1 58.3h.01M88 35.8h.01M95.2 54.7h.01M96.8 52.6h.01M97.5 51.8h.01M159.7 19.5h.01M152.5 17.6h.01M147.7 20.8h.01M155.9 21.4h.01M156.1 20h.01M148.5 16.4h.01M160.1 12.9h.01M170 6.9h.01M162 15.4h.01M167.1 14.9h.01M161.2 15.4h.01M175.4 5.8h.01M167.8 17.9h.01M174.7 1h.01M172.9 1.8h.01M169.8 6.2h.01M164.6 17h.01M163.3 15.2h.01M163.2 13.7h.01M141.4 30h.01M141.8 30.1h.01M156.8 38.5h.01M204.3 35.1h.01M212.9 30.5h.01M208.6 27.1h.01M207.6 30.3h.01M213.5 15.8h.01M215.4 29.6h.01M202.9 31.3h.01M226.7 11.1h.01M220.8 12.9h.01M196.7 37.6h.01M198.7 31.9h.01M219.5 9.5h.01M218.6 14.2h.01M201.5 24.2h.01M197.6 36.5h.01M219.4 10h.01M205.7 37.7h.01M210.8 33.8h.01M199.9 33.7h.01M196.6 60.7h.01M204.7 59.3h.01M203.7 65.7h.01M207.1 47.9h.01M206.2 61.1h.01M205.1 71.1h.01M193.5 84.4h.01M200.8 48h.01M201.1 70.4h.01M205.2 66.8h.01M204.7 61.4h.01M203 53.6h.01M200.4 48h.01M194.1 71h.01M200.7 58.8h.01M198.5 68.5h.01M207.5 55.9h.01M206.2 62.5h.01M200.6 61h.01M199.3 58h.01M205.1 61.2h.01M202.9 60.5h.01M195.2 77.3h.01M199.8 71.8h.01M198.7 67.7h.01M204.4 63.7h.01M203.6 64.5h.01M196.1 64.6h.01M203 63h.01M204.8 72.9h.01M179.2 72.5h.01M186.1 76h.01M180.5 73.8h.01M180.7 77.2h.01M196 73.6h.01M188.2 74.6h.01M191.8 76.6h.01M185 74.9h.01M196.9 75.9h.01M176.6 73.1h.01M126.3 72.5h.01M104.7 74.6h.01M97.5 79h.01M109.9 97.1h.01M119 98.1h.01M103.3 98.3h.01M98.2 95.3h.01M143.1 83.6h.01M142.6 80.4h.01M151.2 83.3h.01M145.7 81.3h.01M145 83.3h.01M140.3 77.3h.01M137.3 75h.01M138 73h.01M138.9 76.7h.01M146.1 87.3h.01M144.3 83h.01M136.7 72.3h.01M152.8 83.9h.01M139.3 76.3h.01M147.9 81.3h.01M142.3 76.7h.01M136.2 71.4h.01M136.2 74.1h.01M142.4 77.3h.01M155.1 86.4h.01M142.6 93.7h.01M113.5 107.8h.01M144.2 119.8h.01M114 111.2h.01M148.6 119.1h.01M107 112.6h.01M127.9 104.1h.01M126.3 105.4h.01M146.5 115.3h.01M122 106.1h.01M136.2 113.8h.01M114.2 107.8h.01M151.7 120.6h.01M132.4 116.4h.01M113.6 112h.01M139.3 112.6h.01M142 118.8h.01M132.8 111h.01M99 106.2h.01M137.9 112h.01M103.7 108.6h.01M131.2 103.8h.01M136.7 112h.01M123 106.1h.01M116.4 103h.01M113.6 107.1h.01M124.2 108.5h.01M110.5 105.5h.01M136.4 111.5h.01M122.6 106.7h.01M101.7 147.6h.01M91.1 127.1h.01M103.5 147.7h.01M93.1 119.9h.01M96.4 141.4h.01M95.3 113.7h.01M93.1 135.3h.01M92.8 120.5h.01M91 128.9h.01M92 116.2h.01M94 139h.01M93.8 109.8h.01M126.5 148h.01M124.5 147.7h.01M139.2 144.2h.01M146 121h.01M152.5 131.2h.01M119.4 147.2h.01M150 124.4h.01M152.3 133h.01M149.3 123.9h.01M153.3 133.7h.01M151 130.5h.01M149 125.8h.01M151.7 133.1h.01M117.9 147.1h.01M125.5 147h.01M122.5 145.5h.01M132.1 149.2h.01M128.6 147.1h.01M148 141.5h.01M52.9 91.2h.01M53.3 94.1h.01M43.5 104.7h.01M65.7 89h.01M44 100.4h.01M52.1 95.9h.01M33.1 104.4h.01M40.8 102.9h.01M38 104.7h.01M42.5 103.3h.01M64.7 90.9h.01M58.3 93.6h.01M64.7 88.5h.01M35.3 109.9h.01M44.1 100h.01M43.2 103.4h.01M49.8 96.7h.01M34.7 107.1h.01M45 101.2h.01M55.7 93.8h.01M37.2 104.2h.01M46.2 101.1h.01M66.2 89.9h.01M45.8 104.9h.01M34.2 107.3h.01M54.4 93.6h.01M46.7 101.8h.01M56.4 96.1h.01M46.1 101.9h.01M50.5 98.7h.01M49.5 97.4h.01M51.6 98.3h.01M53.3 99.3h.01M51.9 94.4h.01M38.8 147.6h.01M36.8 146.1h.01M43.8 125.1h.01M44.3 144.6h.01M43.5 129.9h.01M37.3 146.7h.01M44.9 130.4h.01M44.8 136.6h.01M48.8 141.6h.01M41.8 123.2h.01M43.2 147h.01M36.5 150.7h.01M42 123.6h.01M33.5 145h.01M42.3 139.4h.01M43.2 142.5h.01M32.6 151.9h.01M47 126.2h.01M45.5 145.2h.01M15 113.6h.01M0.8 108.8h.01M18.2 113.1h.01M219.6 90.2h.01M212.2 88.2h.01M208.6 88.7h.01M230.2 93.6h.01M223.2 91.9h.01M215.9 88.4h.01M229.9 94.7h.01M229.5 105.7h.01M226.2 115.4h.01M227.2 113.5h.01M232.1 100.6h.01M222 121.7h.01M227.2 110.5h.01M187.8 94.8h.01M188.1 95.1h.01M187.3 95.5h.01M195.3 127h.01M197.7 130.1h.01M196.4 128.8h.01M176.8 119.7h.01M180.2 124.3h.01M193 127.7h.01M184.1 118.4h.01M177.2 125h.01M183.2 119.1h.01M191.5 126.1h.01M181.2 116.1h.01M184.7 118.2h.01M194.6 127h.01M119.1 156.4h.01M146.5 161.5h.01M136.5 164.3h.01M132.7 161.6h.01M137.2 164.2h.01M123.9 161.4h.01M125.4 159.7h.01M130.4 159.1h.01M142 164.3h.01M148.2 162.4h.01M144.3 168h.01M156.7 154.7h.01M134.1 164.4h.01M158.9 156.7h.01M135.3 158.7h.01M123.6 155.9h.01M137.6 163.5h.01M126.8 157.3h.01M131.5 162.7h.01M145.2 163.9h.01M123.6 156.1h.01M129.4 168.1h.01M130.3 183.9h.01M132 167.1h.01M126.6 183.7h.01M127 189.3h.01M134.5 169h.01M123.3 185.8h.01M120.3 183.7h.01M134.2 181.7h.01M132.1 180.6h.01M132 176.3h.01M135.3 172.7h.01M129.4 180.8h.01M132.9 170.8h.01M131.5 166.3h.01M124.9 187.6h.01M127.9 170h.01M58.1 164.4h.01M57.9 164.4h.01M45.1 169.1h.01M46.3 168.2h.01M80.3 188.1h.01M80.2 189h.01M72.7 183.3h.01M69.9 180.2h.01M82.6 188.7h.01M81 187.9h.01M62.9 175.4h.01M72.6 182.9h.01M65 174.9h.01M48.3 195.7h.01M53.8 202h.01M47.8 195.9h.01M42.6 189.2h.01M62.9 209h.01M41.9 179.9h.01M41.4 180.2h.01M52 199.9h.01M72.4 206.9h.01M48.5 223.1h.01M44.7 213.4h.01M46.3 218.2h.01M47.8 221.3h.01M4.8 191.3h.01M4.9 202.6h.01M5.1 198.8h.01M9 196.7h.01M5 188.1h.01M5.5 193.9h.01M1.2 186.4h.01M5.9 193.6h.01M4.4 196.3h.01M5.9 197.1h.01M8.4 197.5h.01M2.6 190.3h.01M13.1 238.8h.01M8.9 235.5h.01M9.1 238.9h.01M6.6 231.2h.01M13.8 236.5h.01M10.9 244.6h.01M8.6 235.2h.01M10 235.8h.01M8.9 234.5h.01M10.2 247.9h.01M10.5 237.5h.01M8.9 252.4h.01M7.5 242.9h.01M223.9 185.6h.01M226.8 185.2h.01M223 180.9h.01M223.3 186.1h.01M240.3 193.2h.01M252.1 185.5h.01M253 184.4h.01M240.2 195.8h.01M236.8 197.5h.01M238 196.8h.01M252.7 185.8h.01M256.7 184.8h.01M232.2 191.7h.01M255 187h.01M258.7 184.1h.01M246.3 194.6h.01M256.3 187.8h.01M257.7 190.8h.01M246.7 192.5h.01M247.3 189.9h.01M252.2 190.8h.01M243.8 190.4h.01M243.5 196.3h.01M236.9 192.1h.01M254.1 23.5h.01M254.8 40.7h.01M256.4 41.6h.01M255.5 34.7h.01M255.7 44h.01M238.2 58.4h.01M230.5 80.2h.01" stroke-width="3.6"/><path d="M206.6 68.8h.01M13.4 91.2h.01" stroke-width="4.4"/><path d="M214.6 178.8h.01" stroke-width="5.4"/><path d="M151.1 201.1h.01" stroke-width="12"/></g></svg>
<svg x="588" y="62.5" width="258" height="251.5" viewBox="0 0 258 251.9" preserveAspectRatio="none" overflow="hidden"><rect width="258" height="251.9" fill="#000"/><g filter="url(#fHaze)"><rect width="258" height="251.9" fill="#000" fill-opacity="0"/><rect x="59" y="0" width="41.1" height="53.6" rx="15.8" fill="#0fa80f" fill-opacity="0.47"/><rect x="21.5" y="39.3" width="48.3" height="46.5" rx="17.9" fill="#0fa80f" fill-opacity="0.54"/><rect x="100.1" y="7.2" width="42.9" height="39.3" rx="15.1" fill="#0fa80f" fill-opacity="0.61"/><rect x="153.8" y="8.9" width="42.9" height="39.3" rx="15.1" fill="#0fa80f" fill-opacity="0.41"/><rect x="207.4" y="0" width="50.6" height="60.8" rx="19.5" fill="#0fa80f" fill-opacity="0.54"/><rect x="125.2" y="46.5" width="46.5" height="46.5" rx="17.9" fill="#0fa80f" fill-opacity="0.68"/><rect x="171.6" y="53.6" width="42.9" height="21.5" rx="8.3" fill="#0fa80f" fill-opacity="0.61"/><rect x="85.8" y="50.1" width="57.2" height="93" rx="22" fill="#0fa80f" fill-opacity="0.47"/><rect x="51.9" y="84" width="41.1" height="64.4" rx="15.8" fill="#0fa80f" fill-opacity="0.47"/><rect x="114.4" y="101.9" width="50.1" height="39.3" rx="15.1" fill="#0fa80f" fill-opacity="0.54"/><rect x="0" y="80.5" width="41.1" height="37.5" rx="14.4" fill="#0fa80f" fill-opacity="0.47"/><rect x="0" y="123.4" width="30.4" height="48.3" rx="11.7" fill="#0fa80f" fill-opacity="0.54"/><rect x="160.9" y="85.8" width="71.5" height="39.3" rx="15.1" fill="#0fa80f" fill-opacity="0.61"/><rect x="193.1" y="114.4" width="46.5" height="46.5" rx="17.9" fill="#0fa80f" fill-opacity="0.54"/><rect x="41.1" y="171.6" width="51.9" height="67.9" rx="19.9" fill="#0fa80f" fill-opacity="0.47"/><rect x="89.4" y="187.7" width="53.6" height="51.9" rx="19.9" fill="#0fa80f" fill-opacity="0.41"/><rect x="171.6" y="175.2" width="35.8" height="66.2" rx="13.8" fill="#0fa80f" fill-opacity="0.47"/><rect x="0" y="202" width="28.6" height="23.2" rx="8.9" fill="#0fa80f" fill-opacity="0.47"/><rect x="219.9" y="221.7" width="38.1" height="30.2" rx="11.6" fill="#0fa80f" fill-opacity="0.41"/><rect x="239.6" y="71.5" width="18.4" height="100.1" rx="7.1" fill="#0fa80f" fill-opacity="0.41"/><rect x="146.6" y="132.3" width="30.4" height="89.4" rx="11.7" fill="#0fa80f" fill-opacity="0.41"/></g><g filter="url(#fVoid)" fill="#000"><path d="M8.9 0C17.3 -13.1 50.5 -3.3 59 0C67.5 3.3 62 15.5 59.9 19.7C57.8 23.8 50.5 25.3 46.5 25C42.5 24.7 39.6 18.3 35.8 17.9C31.9 17.4 25.9 17.9 23.2 22.3C20.6 26.8 20.6 35.9 19.7 44.7C18.8 53.5 19.7 69.4 17.9 75.1C16.1 80.8 10.4 91.2 8.9 78.7C7.4 66.2 0.6 13.1 8.9 0Z"/><path d="M69.7 55.4C71.5 53.6 76.3 59.3 80.5 57.2C84.6 55.1 91.2 46.5 94.8 42.9C98.3 39.3 100.1 34 101.9 35.8C103.7 37.5 105.8 47.1 105.5 53.6C105.2 60.2 102.8 69.1 100.1 75.1C97.4 81.1 93 87.9 89.4 89.4C85.8 90.9 82.2 84.9 78.7 84C75.1 83.1 69.4 86.7 67.9 84C66.5 81.4 69.4 72.7 69.7 67.9C70 63.2 67.9 57.2 69.7 55.4Z"/><path d="M59 150.2C63.2 147.5 86.1 149.3 100.1 150.2C114.1 151.1 134.1 155.6 143 155.6C152 155.6 153.2 146.6 153.8 150.2C154.4 153.8 151.4 170.7 146.6 177C141.8 183.3 132.3 185.4 125.2 187.7C118 190.1 110.3 191.9 103.7 191.3C97.1 190.7 90.6 188.3 85.8 184.2C81.1 180 79.6 171.9 75.1 166.3C70.6 160.6 54.8 152.9 59 150.2Z"/><path d="M32.2 118C36.4 115 48.3 112.9 51.9 116.2C55.4 119.5 54.8 133.2 53.6 137.7C52.4 142.1 47.4 138 44.7 143C42 148.1 39.9 159.4 37.5 168.1C35.2 176.7 33.4 189.8 30.4 194.9C27.4 200 19.7 204.1 19.7 198.5C19.7 192.8 29.2 171.6 30.4 160.9C31.6 150.2 26.5 141.2 26.8 134.1C27.1 126.9 28 121 32.2 118Z"/><path d="M178.8 148.4C182.1 144.8 192.2 138.9 196.7 139.5C201.1 140.1 201.1 148.4 205.6 152C210.1 155.6 217.5 158.8 223.5 160.9C229.5 163 235.6 162.1 241.4 164.5C247.1 166.9 255.2 166.9 258 175.2C260.8 183.6 262.3 207.1 258 214.6C253.7 222 240.3 216.9 232.4 219.9C224.6 222.9 215.1 236.3 211 232.4C206.8 228.6 208 205.9 207.4 196.7C206.8 187.4 211.6 180.6 207.4 177C203.2 173.4 187.4 177.9 182.4 175.2C177.3 172.5 177.6 165.4 177 160.9C176.4 156.4 175.5 152 178.8 148.4Z"/><path d="M216.3 93C218.4 87.9 227.4 79.9 232.4 76.9C237.5 73.9 244.7 71.2 246.7 75.1C248.8 79 246.4 93.6 244.9 100.1C243.5 106.7 240.5 113.2 237.8 114.4C235.1 115.6 231.8 108.5 228.9 107.3C225.9 106.1 222 109.7 219.9 107.3C217.8 104.9 214.3 98 216.3 93Z"/><path d="M0 228.9C3 225.6 11.3 232.1 17.9 232.4C24.4 232.7 35.5 227.4 39.3 230.6C43.2 233.9 47.7 248.4 41.1 251.9C34.6 255.5 6.9 255.8 0 251.9C-6.9 248.1 -3 232.1 0 228.9Z"/><path d="M59 243.2C67 241.7 93.3 243.5 107.3 243.2C121.3 242.9 131.7 240.8 143 241.4C154.4 242 169.3 245 175.2 246.7C181.2 248.5 198.2 251.1 178.8 251.9C159.4 252.8 79 253.4 59 251.9C39 250.5 51 244.6 59 243.2Z"/><path d="M21.5 171.6C24.1 167.5 37.5 167.5 41.1 171.6C44.7 175.8 39 191.6 42.9 196.7C46.8 201.7 60.2 197.6 64.4 202C68.5 206.5 74.2 221.7 67.9 223.5C61.7 225.3 34 217.2 26.8 212.8C19.7 208.3 25.9 203.5 25 196.7C24.1 189.8 18.8 175.8 21.5 171.6Z"/><path d="M141.2 0C147.2 -1.2 176.1 -1.8 182.4 0C188.6 1.8 183 8.6 178.8 10.7C174.6 12.8 162.7 13.1 157.3 12.5C152 11.9 149.3 9.2 146.6 7.2C143.9 5.1 135.3 1.2 141.2 0Z"/><path d="M196.7 14.3C199.4 8 206.8 6.6 211 7.2C215.1 7.7 222.6 11.3 221.7 17.9C220.8 24.4 210.1 42 205.6 46.5C201.1 51 196.4 50.1 194.9 44.7C193.4 39.3 194 20.6 196.7 14.3Z"/></g><g filter="url(#fGlow)" fill="none" stroke-linecap="round" stroke-linejoin="round"><rect width="258" height="251.9" fill="#000" fill-opacity="0" stroke="none"/><path d="M25 23.2C26.8 21.2 32.2 19.1 35.8 19.7C39.3 20.3 42.9 23.2 46.5 26.8C50.1 30.4 53.9 36.7 57.2 41.1C60.5 45.6 64.4 49.5 66.2 53.6C67.9 57.8 68.8 62 67.9 66.2C67 70.3 63.8 75.4 60.8 78.7C57.8 81.9 54.2 85.2 50.1 85.8C45.9 86.4 39.9 84.6 35.8 82.2C31.6 79.9 27.4 75.4 25 71.5C22.6 67.6 21.2 63.5 21.5 59C21.8 54.5 26.2 49.2 26.8 44.7C27.4 40.2 25.3 35.8 25 32.2C24.7 28.6 23.2 25.3 25 23.2Z" stroke="#10b410" stroke-width="2.6"/><path d="M60.8 21.5C61.1 23.8 60.8 31 62.6 35.8C64.4 40.5 68.8 46.8 71.5 50.1C74.2 53.3 75.1 56.9 78.7 55.4C82.2 53.9 89.7 45.9 93 41.1C96.3 36.4 97.7 31.9 98.3 26.8C98.9 21.8 96.8 13.4 96.5 10.7" stroke="#10b410" stroke-width="2.6"/><path d="M96.5 87.6C98.3 85.5 103.7 79.6 107.3 75.1C110.9 70.6 114.4 64.7 118 60.8C121.6 56.9 124.6 54.2 128.7 51.9C132.9 49.5 140.7 47.4 143 46.5" stroke="#10b410" stroke-width="3.1"/><path d="M143 75.1C141.8 77.5 139.2 85.2 135.9 89.4C132.6 93.6 127.5 96.5 123.4 100.1C119.2 103.7 114.7 107 110.9 110.9C107 114.7 103.7 119.2 100.1 123.4C96.5 127.5 93 132 89.4 135.9C85.8 139.8 82.8 144.8 78.7 146.6C74.5 148.4 68.2 149 64.4 146.6C60.5 144.2 57.5 137.4 55.4 132.3C53.3 127.2 51.3 122.2 51.9 116.2C52.4 110.3 56.3 101.6 59 96.5C61.7 91.5 64.4 87.6 67.9 85.8C71.5 84 76.9 84.6 80.5 85.8C84 87 87.9 91.8 89.4 93" stroke="#10b410" stroke-width="3.1"/><path d="M114.4 125.2C113.8 120.4 115.6 114.4 118 110.9C120.4 107.3 124.6 105.2 128.7 103.7C132.9 102.2 138.3 102.2 143 101.9C147.8 101.6 153.8 101 157.3 101.9C160.9 102.8 163.9 104 164.5 107.3C165.1 110.6 163.3 117.1 160.9 121.6C158.5 126.1 154.4 130.8 150.2 134.1C146 137.4 140.7 140.4 135.9 141.2C131.1 142.1 125.2 142.1 121.6 139.5C118 136.8 115 129.9 114.4 125.2Z" stroke="#10b410" stroke-width="2.6"/><path d="M160.9 121.6C162.7 120.4 167.2 118 171.6 114.4C176.1 110.9 182.1 104.3 187.7 100.1C193.4 96 199.7 92.1 205.6 89.4C211.6 86.7 219 87 223.5 84C228 81.1 230.9 73.6 232.4 71.5" stroke="#10b410" stroke-width="5.7"/><path d="M107.3 148.4C110.3 149 119.2 151.1 125.2 152C131.1 152.9 138 154.4 143 153.8C148.1 153.2 151.1 151.4 155.6 148.4C160 145.4 167.5 138 169.9 135.9" stroke="#10b410" stroke-width="2.6"/><path d="M169.9 135.9C171 138.6 176.4 146.3 177 152C177.6 157.6 174.9 163.9 173.4 169.9C171.9 175.8 170.2 182.4 168.1 187.7C166 193.1 163.3 197 160.9 202C158.5 207.1 155 215.4 153.8 218.1" stroke="#10b410" stroke-width="2.9"/><path d="M44.7 143C46.2 145.4 50.7 152.6 53.6 157.3C56.6 162.1 59.6 168.1 62.6 171.6C65.6 175.2 70 177.6 71.5 178.8" stroke="#10b410" stroke-width="2.4"/><path d="M42.9 178.8C44.1 175.2 50.1 173.4 53.6 173.4C57.2 173.4 62.3 176.1 64.4 178.8C66.5 181.5 67.3 186.5 66.2 189.5C65 192.5 60.5 195.8 57.2 196.7C53.9 197.6 48.9 197.9 46.5 194.9C44.1 191.9 41.7 182.4 42.9 178.8Z" stroke="#10b410" stroke-width="2.4"/><path d="M67.9 196.7C68.5 199.7 70.3 208.9 71.5 214.6C72.7 220.2 72.7 226.8 75.1 230.6C77.5 234.5 80.5 236.3 85.8 237.8C91.2 239.3 100.1 239.6 107.3 239.6C114.4 239.6 123.1 239 128.7 237.8C134.4 236.6 138.9 236.3 141.2 232.4C143.6 228.6 143 220.5 143 214.6C143 208.6 141.8 202.6 141.2 196.7C140.7 190.7 142.1 180 139.5 178.8C136.8 177.6 130.5 187.1 125.2 189.5C119.8 191.9 113.2 193.1 107.3 193.1C101.3 193.1 92.4 190.1 89.4 189.5" stroke="#10b410" stroke-width="2.6"/><path d="M196.7 135.9C198.2 138 201.1 144.8 205.6 148.4C210.1 152 217.5 155.3 223.5 157.3C229.5 159.4 238.4 160.3 241.4 160.9" stroke="#10b410" stroke-width="2.6"/><path d="M236 139.5C236.6 135.6 240.2 121.6 239.6 116.2C239 110.9 233.6 108.8 232.4 107.3" stroke="#10b410" stroke-width="2.4"/><path d="M203.8 50.1C205.6 47.7 210.4 40.5 214.6 35.8C218.7 31 224.7 25.6 228.9 21.5C233 17.3 237.8 12.5 239.6 10.7" stroke="#10b410" stroke-width="3.1"/><path d="M205.6 59C208.6 59 216 58.7 223.5 59C230.9 59.3 245.8 60.5 250.3 60.8" stroke="#10b410" stroke-width="2.9"/><path d="M184.2 178.8C183.3 181.8 180.3 190.7 178.8 196.7C177.3 202.6 175.2 208.6 175.2 214.6C175.2 220.5 177 228 178.8 232.4C180.6 236.9 184.8 239.9 185.9 241.4" stroke="#10b410" stroke-width="2.4"/><path d="M205.6 177C205.3 180.3 204.4 190.4 203.8 196.7C203.2 202.9 203.2 208.6 202 214.6C200.8 220.5 197.6 229.5 196.7 232.4" stroke="#10b410" stroke-width="2.4"/><path d="M0 85.8C3 85.2 11.9 81.6 17.9 82.2C23.8 82.8 31.9 85.8 35.8 89.4C39.6 93 41.7 99.5 41.1 103.7C40.5 107.9 36.1 112 32.2 114.4C28.3 116.8 23.2 117.7 17.9 118C12.5 118.3 3 116.5 0 116.2" stroke="#10b410" stroke-width="2.4"/><path d="M28.6 125.2C28.3 128.1 26.2 137.1 26.8 143C27.4 149 30.7 156.4 32.2 160.9C33.7 165.4 35.2 168.4 35.8 169.9" stroke="#10b410" stroke-width="2.2"/><path d="M26.8 214.6C29.8 216 38.7 221.7 44.7 223.5C50.7 225.3 59.6 225 62.6 225.3" stroke="#10b410" stroke-width="2.2"/></g><g filter="url(#fRough)" fill="none" stroke-linecap="round" stroke-linejoin="round"><rect width="258" height="251.9" fill="#000" fill-opacity="0" stroke="none"/><path d="M25 23.2C26.8 21.2 32.2 19.1 35.8 19.7C39.3 20.3 42.9 23.2 46.5 26.8C50.1 30.4 53.9 36.7 57.2 41.1C60.5 45.6 64.4 49.5 66.2 53.6C67.9 57.8 68.8 62 67.9 66.2C67 70.3 63.8 75.4 60.8 78.7C57.8 81.9 54.2 85.2 50.1 85.8C45.9 86.4 39.9 84.6 35.8 82.2C31.6 79.9 27.4 75.4 25 71.5C22.6 67.6 21.2 63.5 21.5 59C21.8 54.5 26.2 49.2 26.8 44.7C27.4 40.2 25.3 35.8 25 32.2C24.7 28.6 23.2 25.3 25 23.2Z" stroke="#14c814" stroke-width="1.2"/><path d="M60.8 21.5C61.1 23.8 60.8 31 62.6 35.8C64.4 40.5 68.8 46.8 71.5 50.1C74.2 53.3 75.1 56.9 78.7 55.4C82.2 53.9 89.7 45.9 93 41.1C96.3 36.4 97.7 31.9 98.3 26.8C98.9 21.8 96.8 13.4 96.5 10.7" stroke="#14c814" stroke-width="1.2"/><path d="M96.5 87.6C98.3 85.5 103.7 79.6 107.3 75.1C110.9 70.6 114.4 64.7 118 60.8C121.6 56.9 124.6 54.2 128.7 51.9C132.9 49.5 140.7 47.4 143 46.5" stroke="#14c814" stroke-width="1.4"/><path d="M143 75.1C141.8 77.5 139.2 85.2 135.9 89.4C132.6 93.6 127.5 96.5 123.4 100.1C119.2 103.7 114.7 107 110.9 110.9C107 114.7 103.7 119.2 100.1 123.4C96.5 127.5 93 132 89.4 135.9C85.8 139.8 82.8 144.8 78.7 146.6C74.5 148.4 68.2 149 64.4 146.6C60.5 144.2 57.5 137.4 55.4 132.3C53.3 127.2 51.3 122.2 51.9 116.2C52.4 110.3 56.3 101.6 59 96.5C61.7 91.5 64.4 87.6 67.9 85.8C71.5 84 76.9 84.6 80.5 85.8C84 87 87.9 91.8 89.4 93" stroke="#14c814" stroke-width="1.4"/><path d="M114.4 125.2C113.8 120.4 115.6 114.4 118 110.9C120.4 107.3 124.6 105.2 128.7 103.7C132.9 102.2 138.3 102.2 143 101.9C147.8 101.6 153.8 101 157.3 101.9C160.9 102.8 163.9 104 164.5 107.3C165.1 110.6 163.3 117.1 160.9 121.6C158.5 126.1 154.4 130.8 150.2 134.1C146 137.4 140.7 140.4 135.9 141.2C131.1 142.1 125.2 142.1 121.6 139.5C118 136.8 115 129.9 114.4 125.2Z" stroke="#14c814" stroke-width="1.2"/><path d="M160.9 121.6C162.7 120.4 167.2 118 171.6 114.4C176.1 110.9 182.1 104.3 187.7 100.1C193.4 96 199.7 92.1 205.6 89.4C211.6 86.7 219 87 223.5 84C228 81.1 230.9 73.6 232.4 71.5" stroke="#14c814" stroke-width="2.6"/><path d="M107.3 148.4C110.3 149 119.2 151.1 125.2 152C131.1 152.9 138 154.4 143 153.8C148.1 153.2 151.1 151.4 155.6 148.4C160 145.4 167.5 138 169.9 135.9" stroke="#14c814" stroke-width="1.2"/><path d="M169.9 135.9C171 138.6 176.4 146.3 177 152C177.6 157.6 174.9 163.9 173.4 169.9C171.9 175.8 170.2 182.4 168.1 187.7C166 193.1 163.3 197 160.9 202C158.5 207.1 155 215.4 153.8 218.1" stroke="#14c814" stroke-width="1.3"/><path d="M44.7 143C46.2 145.4 50.7 152.6 53.6 157.3C56.6 162.1 59.6 168.1 62.6 171.6C65.6 175.2 70 177.6 71.5 178.8" stroke="#14c814" stroke-width="1.1"/><path d="M42.9 178.8C44.1 175.2 50.1 173.4 53.6 173.4C57.2 173.4 62.3 176.1 64.4 178.8C66.5 181.5 67.3 186.5 66.2 189.5C65 192.5 60.5 195.8 57.2 196.7C53.9 197.6 48.9 197.9 46.5 194.9C44.1 191.9 41.7 182.4 42.9 178.8Z" stroke="#14c814" stroke-width="1.1"/><path d="M67.9 196.7C68.5 199.7 70.3 208.9 71.5 214.6C72.7 220.2 72.7 226.8 75.1 230.6C77.5 234.5 80.5 236.3 85.8 237.8C91.2 239.3 100.1 239.6 107.3 239.6C114.4 239.6 123.1 239 128.7 237.8C134.4 236.6 138.9 236.3 141.2 232.4C143.6 228.6 143 220.5 143 214.6C143 208.6 141.8 202.6 141.2 196.7C140.7 190.7 142.1 180 139.5 178.8C136.8 177.6 130.5 187.1 125.2 189.5C119.8 191.9 113.2 193.1 107.3 193.1C101.3 193.1 92.4 190.1 89.4 189.5" stroke="#14c814" stroke-width="1.2"/><path d="M196.7 135.9C198.2 138 201.1 144.8 205.6 148.4C210.1 152 217.5 155.3 223.5 157.3C229.5 159.4 238.4 160.3 241.4 160.9" stroke="#14c814" stroke-width="1.2"/><path d="M236 139.5C236.6 135.6 240.2 121.6 239.6 116.2C239 110.9 233.6 108.8 232.4 107.3" stroke="#14c814" stroke-width="1.1"/><path d="M203.8 50.1C205.6 47.7 210.4 40.5 214.6 35.8C218.7 31 224.7 25.6 228.9 21.5C233 17.3 237.8 12.5 239.6 10.7" stroke="#14c814" stroke-width="1.4"/><path d="M205.6 59C208.6 59 216 58.7 223.5 59C230.9 59.3 245.8 60.5 250.3 60.8" stroke="#14c814" stroke-width="1.3"/><path d="M184.2 178.8C183.3 181.8 180.3 190.7 178.8 196.7C177.3 202.6 175.2 208.6 175.2 214.6C175.2 220.5 177 228 178.8 232.4C180.6 236.9 184.8 239.9 185.9 241.4" stroke="#14c814" stroke-width="1.1"/><path d="M205.6 177C205.3 180.3 204.4 190.4 203.8 196.7C203.2 202.9 203.2 208.6 202 214.6C200.8 220.5 197.6 229.5 196.7 232.4" stroke="#14c814" stroke-width="1.1"/><path d="M0 85.8C3 85.2 11.9 81.6 17.9 82.2C23.8 82.8 31.9 85.8 35.8 89.4C39.6 93 41.7 99.5 41.1 103.7C40.5 107.9 36.1 112 32.2 114.4C28.3 116.8 23.2 117.7 17.9 118C12.5 118.3 3 116.5 0 116.2" stroke="#14c814" stroke-width="1.1"/><path d="M28.6 125.2C28.3 128.1 26.2 137.1 26.8 143C27.4 149 30.7 156.4 32.2 160.9C33.7 165.4 35.2 168.4 35.8 169.9" stroke="#14c814" stroke-width="1"/><path d="M26.8 214.6C29.8 216 38.7 221.7 44.7 223.5C50.7 225.3 59.6 225 62.6 225.3" stroke="#14c814" stroke-width="1"/></g><g filter="url(#fDot)" fill="none" stroke="#22f522" stroke-linecap="round"><path d="M86.9 8.1h.01M87 17.3h.01M87.8 18.6h.01M23.9 75.3h.01M49.7 64.1h.01M30.1 73.3h.01M46 67.4h.01M50.4 58.1h.01M46.6 66.3h.01M110.6 17.1h.01M120.5 41.7h.01M127.2 40.9h.01M126.9 37.5h.01M116.6 28.4h.01M106.4 27.1h.01M106.2 28.9h.01M185.7 31.6h.01M239.6 23.6h.01M233.1 38.8h.01M255 37.8h.01M249.2 49.8h.01M153.3 85.2h.01M157.1 64.6h.01M159.5 86.7h.01M163.7 85.8h.01M168.7 67.5h.01M159.7 87.8h.01M165.7 87h.01M158 86.3h.01M150.7 55.5h.01M181.9 72h.01M191.2 73.7h.01M182 61.5h.01M185.7 66h.01M118.3 84.6h.01M115.5 64.2h.01M93.9 91.9h.01M70.3 134.7h.01M64.6 138.9h.01M128.3 64.9h.01M96.4 98.8h.01M98.5 98.3h.01M75.9 94.2h.01M77.1 98.6h.01M73.2 96.5h.01M69.1 134.5h.01M77.6 132.7h.01M65.4 132.3h.01M123.8 116.1h.01M126 121h.01M129.2 119.7h.01M129.5 123.2h.01M153.5 124.9h.01M2.6 106.4h.01M21 109.2h.01M16.1 128h.01M16.2 171h.01M15.3 144.1h.01M18.6 211h.01M7.4 215.7h.01M15.5 214.9h.01M57.9 243.4h.01M74.2 193.8h.01M68.9 200.2h.01M72 185.8h.01M75.2 192.1h.01M82 179.3h.01M102.2 206.4h.01M199.7 100.3h.01M234.3 132.3h.01M240.6 128.8h.01M214.1 115h.01M224.8 143.9h.01M214.2 126.4h.01M212.6 122.6h.01M199.5 139.5h.01M253.8 89.7h.01M165.5 145.5h.01M190.4 196.5h.01M200 185.4h.01M196.3 224.9h.01M192.4 202.7h.01M197 189.2h.01M183.3 177.6h.01M237.4 244.6h.01" stroke-width="2.2"/><path d="M73.9 28.5h.01M74.3 32.9h.01M84.7 44.7h.01M69.6 16.8h.01M68.2 16.2h.01M69.8 27.9h.01M76.2 17.8h.01M71.7 39.5h.01M77.3 28.5h.01M79.5 47.6h.01M80.4 41.4h.01M75.1 29.8h.01M75.7 26.1h.01M79.8 45.9h.01M90.6 17.5h.01M92.9 18.9h.01M96.6 22.8h.01M92.8 7.8h.01M94 31.1h.01M47.1 80.7h.01M52.3 71.8h.01M41.5 71.2h.01M31.3 64.1h.01M56.5 60.3h.01M37.3 83.9h.01M38.6 64.4h.01M27.2 72.6h.01M47.4 85.6h.01M42.8 70.8h.01M25.3 60.3h.01M41 74.5h.01M33.7 62.1h.01M59.7 53.1h.01M41.1 55.7h.01M42.3 65.6h.01M41.8 68.5h.01M55 52h.01M36.1 68h.01M29.7 71.5h.01M44.1 64.1h.01M46.5 62.3h.01M47.2 69.2h.01M102.7 17.4h.01M130.1 37h.01M120.6 19h.01M115.8 23.4h.01M137.8 26.4h.01M102.9 15h.01M111 25.2h.01M136.7 34.7h.01M113.2 21.7h.01M105.5 15.7h.01M111.6 16.9h.01M124.3 28.5h.01M124.6 36.1h.01M128.1 34.2h.01M128.9 35h.01M119.9 27.5h.01M125.7 36.4h.01M122.5 31.9h.01M107.3 23.9h.01M133.9 29.6h.01M129 36.1h.01M109.2 25.4h.01M104.1 31.2h.01M173.6 15.4h.01M164.3 17.8h.01M164 16.3h.01M159.3 20.8h.01M183.8 33.7h.01M188.9 38.9h.01M188.5 40.1h.01M177 37.5h.01M190.4 4.1h.01M188 4.9h.01M189.2 4.2h.01M190.8 7h.01M185.5 6.3h.01M192.4 4.5h.01M197.9 9.8h.01M247.5 30.9h.01M232.5 33h.01M238 26.6h.01M229.4 34.3h.01M244.3 29.9h.01M225.6 27.6h.01M246.4 28.3h.01M241 27.4h.01M219.7 37.9h.01M260.1 26.3h.01M254.3 49.1h.01M256.8 28.3h.01M250.4 12.7h.01M259 20.5h.01M254.3 35.8h.01M252.8 48.3h.01M243.5 13.5h.01M245.1 10h.01M249.4 9h.01M253.8 19.8h.01M252.8 55.4h.01M254.1 27.2h.01M251.8 41.9h.01M246.7 13.8h.01M255.8 30.3h.01M260.3 18.6h.01M137.7 94.5h.01M144.5 48.6h.01M150.6 84.7h.01M152.9 94.2h.01M159.1 81.5h.01M158.5 73.1h.01M147.8 77.7h.01M160.5 76.3h.01M139.9 67.6h.01M149.8 63.5h.01M150.3 76.1h.01M159.2 77.6h.01M152.8 67.4h.01M162.7 81.7h.01M131.9 60.7h.01M143.6 52.4h.01M155.4 66.2h.01M165 79.2h.01M153.9 60.5h.01M136.6 53.1h.01M152.7 87.7h.01M163.1 78.7h.01M193.6 71.8h.01M200.9 77.8h.01M193.3 71.4h.01M199.1 61.7h.01M193 74.7h.01M184.2 62.7h.01M176.5 67.5h.01M190.9 68.7h.01M180.5 66h.01M182.7 68.6h.01M180.5 78.8h.01M72.3 145.6h.01M120.8 71.5h.01M118.1 81.7h.01M84.7 130.3h.01M114.5 74.3h.01M122.3 67.6h.01M77.6 132.5h.01M108 82.3h.01M70.7 136.3h.01M60.9 142.3h.01M114.7 68.3h.01M86.5 108.7h.01M70.1 132.3h.01M116.7 71.5h.01M130.8 65.2h.01M98.8 96h.01M106.7 91.2h.01M124.2 60.4h.01M121 69.6h.01M103.7 96.5h.01M108.8 99.5h.01M97.3 98.5h.01M97.1 100.2h.01M106.5 97.3h.01M66.6 97.2h.01M79.3 100.5h.01M75.6 91.7h.01M78 96.9h.01M70.6 93.1h.01M69 96.3h.01M73.2 93.2h.01M72.3 93.6h.01M73 96.7h.01M68.3 100.2h.01M71.6 99.3h.01M68.5 93.5h.01M80.7 134.6h.01M63.6 131.2h.01M71 134.7h.01M60.8 122.4h.01M60.5 124.8h.01M72.3 131.3h.01M62.7 127.9h.01M66.3 125.8h.01M143.4 128.6h.01M129.7 126.5h.01M128.9 128.7h.01M124.8 126.9h.01M121.8 131.3h.01M128.7 126.2h.01M126.3 131.7h.01M129.5 108.6h.01M129.4 114.8h.01M123.4 121.6h.01M133 126.3h.01M123.7 117.7h.01M125.6 99h.01M140 144.5h.01M134.1 133.6h.01M138 121.2h.01M152.3 108.8h.01M151 125.4h.01M14 110.5h.01M12.8 113h.01M2.4 103.5h.01M22.3 106.6h.01M2 105.9h.01M16.2 107.5h.01M20.8 109h.01M2.4 106.6h.01M7.8 103.7h.01M19.7 112.4h.01M19.9 105h.01M19.3 109.6h.01M13.8 85.5h.01M16 168.5h.01M12.9 136.5h.01M18.3 153.8h.01M9.5 153.8h.01M14.6 155.4h.01M14.8 132.7h.01M8.1 150.9h.01M1.1 147.8h.01M13.3 129.1h.01M16.2 140.8h.01M10.3 152.7h.01M14.3 160.7h.01M14.3 156h.01M18.1 157.9h.01M4 163.9h.01M2.9 163.4h.01M4 161.9h.01M8.3 165.4h.01M7.1 185.9h.01M7.3 186.4h.01M11.5 183h.01M10.1 184.4h.01M14.7 186.5h.01M17.5 215.2h.01M9 208.4h.01M11.5 215.8h.01M16.7 211.9h.01M12.7 215.5h.01M23.1 205.2h.01M9.6 210.3h.01M4.9 207h.01M10.5 210.8h.01M4.9 219.1h.01M9.4 217.4h.01M5.2 211.3h.01M11.2 211.6h.01M8.2 208.3h.01M13.7 223.7h.01M19.5 213.3h.01M17.7 218.4h.01M10.2 217h.01M45.6 236.2h.01M55.4 190.3h.01M75.1 184h.01M76.9 189.7h.01M72.6 194.1h.01M76.4 194.9h.01M78.4 193.4h.01M74.2 197.1h.01M70.7 194.5h.01M73.2 189.1h.01M90.1 180.7h.01M80.1 231h.01M76.9 211h.01M83.1 228.1h.01M81.4 224.5h.01M82.7 228.2h.01M71.4 208.1h.01M103.5 200h.01M104.6 202.5h.01M102 206.3h.01M108.3 199.1h.01M99.5 205.9h.01M102.4 205.2h.01M100 204.1h.01M108.5 198.6h.01M106.6 202h.01M104.3 201.7h.01M104.6 200.8h.01M106.1 203.8h.01M192.9 98.7h.01M194.3 95.7h.01M199.7 102.7h.01M195.8 98.9h.01M194.1 96.9h.01M197.2 98.9h.01M216 131.6h.01M220.2 123.9h.01M216 120.2h.01M236.5 142.1h.01M227.2 134.5h.01M227.8 123.8h.01M226.8 132.9h.01M227 130.2h.01M222 134.5h.01M222.7 131.4h.01M206.6 132.5h.01M214.5 131.6h.01M223.7 151.5h.01M208.5 130.6h.01M239.6 137.7h.01M219.1 130.3h.01M216.7 147.7h.01M214.6 142.7h.01M215.8 143.3h.01M258.9 102.7h.01M252.4 96.3h.01M253.8 86.5h.01M251.9 83.7h.01M254.3 91.1h.01M249.3 109.7h.01M260.5 111h.01M245.3 109.2h.01M247.2 108.4h.01M245.6 106.9h.01M246.1 155.5h.01M248 148.6h.01M248.7 155.4h.01M248.5 156.5h.01M245.7 152.3h.01M149.2 173.2h.01M149.5 175.6h.01M162.8 146.2h.01M155.7 170.2h.01M150.1 174.9h.01M148.4 169.7h.01M154.7 171.8h.01M149.3 174.3h.01M160.1 155.8h.01M155.6 161.8h.01M162.1 187.6h.01M160.6 188h.01M166.8 185.8h.01M183.4 208.6h.01M187.8 180.5h.01M170.2 202.3h.01M193.8 204.6h.01M189.1 236.5h.01M188.9 212.4h.01M195.6 222.8h.01M178.1 218.5h.01M191.4 212.9h.01M181.9 204.1h.01M189.3 213h.01M180.8 211.3h.01M197.5 194.3h.01M195.2 187.4h.01M194.3 197.1h.01M197.6 199h.01M195.6 214.8h.01M188.1 187h.01M195.2 230.4h.01M194.6 212.2h.01M194.8 189.1h.01M183.1 224.1h.01M180.1 189.6h.01M194.3 189.4h.01M196.4 223.7h.01M181.5 207.4h.01M192.8 215.6h.01M180.6 178h.01M230.7 239.5h.01M244.5 228.6h.01M227.1 241.4h.01M240.6 234.8h.01M246.2 227.8h.01M226.3 233.9h.01M240.9 229.5h.01M242.6 221.6h.01M241 222.8h.01M253.6 236.1h.01M2.9 18.2h.01M-0.3 16.7h.01M9.5 19.2h.01M0.5 15.4h.01M2.1 57.3h.01" stroke-width="2.6"/><path d="M79.2 30.1h.01M78.4 43h.01M76.4 41.6h.01M78.5 36.7h.01M65.2 24h.01M76.2 28.8h.01M87.6 42.2h.01M79.5 39.6h.01M83.1 45.8h.01M69.3 11.8h.01M63 17.3h.01M63.7 17.2h.01M69.6 19.7h.01M71.4 27.7h.01M88.4 10h.01M88.7 10.5h.01M92.8 25.5h.01M89.9 13.7h.01M91.9 24.1h.01M84 10.3h.01M87.8 3.7h.01M89.9 8.2h.01M92.8 30.8h.01M96.7 28.2h.01M30.2 69.1h.01M27.3 64.4h.01M50.7 62.5h.01M44 70.2h.01M37.2 71.5h.01M30.9 70.2h.01M55.4 61.2h.01M41 76.6h.01M26.9 71.3h.01M36.5 78.3h.01M55.5 62.4h.01M61 48h.01M34.2 65.4h.01M41.8 62.4h.01M39.1 72.4h.01M40.9 54.7h.01M122.4 26h.01M136.3 41.9h.01M109.7 22.3h.01M119.4 25.5h.01M123.6 33.6h.01M115.3 22.8h.01M132.9 33.4h.01M126.1 35.9h.01M122.3 24.7h.01M105.3 16.6h.01M121 20.2h.01M114.3 15.1h.01M119.3 36h.01M114.7 18.3h.01M113.9 13.7h.01M101.7 15.1h.01M109 21.5h.01M118.9 20.4h.01M125.5 37.8h.01M102.2 32.4h.01M102.5 31.8h.01M172.4 21.7h.01M164.4 20.2h.01M190 31.9h.01M183.4 43h.01M185.8 30.5h.01M193.2 37.6h.01M187 5.9h.01M192.2 6.2h.01M195.8 7.6h.01M241.7 26.3h.01M234.2 44.2h.01M225.1 35.5h.01M239.4 37.4h.01M222.1 30.6h.01M236.1 33.6h.01M224.7 32.9h.01M228.8 32.2h.01M250 24.3h.01M244.4 25.4h.01M228.9 31.3h.01M245 29.1h.01M239.8 10h.01M254.8 14.2h.01M250.8 9.1h.01M255 51.3h.01M251.5 36.4h.01M248.1 6.2h.01M243.2 8.7h.01M252.7 52.8h.01M263.7 40.6h.01M256.7 39.4h.01M253.4 45.6h.01M251.6 54.1h.01M253.1 48.1h.01M252.8 25.8h.01M252.3 35.7h.01M252.1 26.9h.01M235.3 6.2h.01M253.4 59.9h.01M228.9 19.7h.01M156.3 89.3h.01M159.3 72.5h.01M163.3 97h.01M151.7 79.2h.01M162.8 73.5h.01M157.4 78.1h.01M136.2 51.4h.01M161.1 93.9h.01M124.4 61.1h.01M158.2 66.5h.01M163.2 80.9h.01M162.6 77.3h.01M145.1 50h.01M155.8 86.4h.01M162.5 86.9h.01M159.4 81.9h.01M147 51h.01M161.9 80.4h.01M167.7 91.7h.01M156 86.3h.01M149 81h.01M146 77h.01M156.5 55.1h.01M155.1 59.1h.01M163.6 75.6h.01M147.3 80.7h.01M134.5 58.9h.01M154.4 77.6h.01M127.7 75.8h.01M176.5 73.6h.01M183.7 63h.01M178.4 74.4h.01M200.7 67.2h.01M181 64.8h.01M182.7 67.6h.01M205 64h.01M203.8 71.3h.01M206.5 63.7h.01M190.9 76.1h.01M177.1 60.1h.01M208.3 63.1h.01M193.7 67.7h.01M185.5 67.3h.01M204.8 70.2h.01M199.9 72h.01M186.9 67.3h.01M183 66.4h.01M181.2 66.6h.01M182.6 65.1h.01M185.4 66.3h.01M204.9 72.1h.01M82 127.6h.01M96.3 104.5h.01M101.3 97.6h.01M89.8 111.3h.01M100.6 89h.01M100.8 85.7h.01M108.6 84.3h.01M124.7 57.3h.01M65.9 127.6h.01M122.7 62.2h.01M113.4 73.4h.01M108.5 84.9h.01M116.7 63.1h.01M69.7 133.5h.01M135.2 59.5h.01M111.1 73.3h.01M122.8 57.7h.01M70 126.3h.01M109.1 75.2h.01M85.1 113.4h.01M127 51h.01M85.1 120h.01M100.6 90.8h.01M79.1 109.1h.01M106.9 100.1h.01M92.7 99h.01M104.1 98.3h.01M91.5 98.6h.01M96.1 99.9h.01M107 97.4h.01M99.5 99.4h.01M100.6 102.1h.01M108.7 98.7h.01M90.8 99.7h.01M109.8 100.6h.01M94.3 100.3h.01M108.8 98.5h.01M100.4 98.4h.01M103.3 96.8h.01M105 99h.01M93.5 96.8h.01M103.6 100.3h.01M109.5 98.3h.01M69.6 96.8h.01M76 92.6h.01M75.9 97.9h.01M77.1 99.7h.01M69.5 92.6h.01M69.2 96h.01M72.4 97.7h.01M66.8 99.6h.01M63.5 93.7h.01M78 95.6h.01M69.5 135.1h.01M63.5 128.7h.01M71.9 132.6h.01M130.1 117.4h.01M127 122.7h.01M132.6 126.6h.01M124.8 127.1h.01M125.9 143.7h.01M129.8 119.4h.01M124.9 116.8h.01M126.6 109.3h.01M124.2 125.8h.01M129.8 115.5h.01M120.1 124.1h.01M126.8 127.7h.01M137.6 136.9h.01M127.9 108h.01M133.6 131.7h.01M119.6 130.9h.01M127.2 108.5h.01M143.1 140.7h.01M139.7 127.9h.01M124 129.9h.01M124.4 133.6h.01M132.1 127.6h.01M125.8 124.5h.01M145.8 124.6h.01M126.2 138.4h.01M130.1 127h.01M126.2 130h.01M136.4 130.5h.01M127.7 118.6h.01M131.8 132.1h.01M124.2 118.9h.01M129 128h.01M125 123.7h.01M126 118.7h.01M151.9 109.4h.01M157 104h.01M142.6 104.8h.01M149 107.9h.01M154 127.1h.01M150.4 127.2h.01M-1 102.6h.01M11.6 104.8h.01M14.4 114h.01M12.6 106.5h.01M27.7 107.7h.01M0.6 102.8h.01M13.6 114.5h.01M5.7 98.2h.01M22.1 102.1h.01M12.3 86.8h.01M27.2 89.4h.01M30.1 93.1h.01M15.1 143.6h.01M10.7 152.8h.01M14.7 142.9h.01M10.9 135.1h.01M14.3 147.3h.01M12.1 144.3h.01M19.6 167.9h.01M11.3 151.1h.01M14.8 158h.01M12 142.9h.01M16.8 151.6h.01M11.4 166.2h.01M10.3 150.2h.01M7.3 154.8h.01M17 135.1h.01M13.5 147.5h.01M16.5 141.2h.01M21.4 138.9h.01M13.1 146.9h.01M5.2 175.8h.01M3.7 182.1h.01M22.1 211.6h.01M11.5 209.6h.01M9.5 215.5h.01M17.5 211.4h.01M9.4 215.2h.01M14.3 212.5h.01M10.2 217.5h.01M7.6 216.1h.01M19.7 206.3h.01M10.8 213.9h.01M14.3 204.7h.01M7 223.9h.01M16.7 216.6h.01M3.9 207h.01M18.2 207.2h.01M0.2 217.4h.01M3.9 213h.01M50.6 235.5h.01M52.7 242.4h.01M42.5 237.5h.01M49.4 236.7h.01M56.4 242.7h.01M51.7 187.8h.01M58 190.3h.01M68.4 194.2h.01M74.1 189.1h.01M78.3 195.4h.01M72.8 187.5h.01M70 189.6h.01M71.2 191.1h.01M68.4 186.6h.01M74.6 184.1h.01M85 180h.01M90.7 183.2h.01M70.1 209h.01M89.2 226.7h.01M97.6 208.3h.01M101.3 204.7h.01M96.5 206.4h.01M95.9 205.4h.01M99 204.5h.01M197.9 103h.01M194.6 97.6h.01M196.4 99h.01M192 93.2h.01M196.1 100.8h.01M191.3 96.7h.01M220.8 127.1h.01M217.8 125.9h.01M220 123h.01M206.4 133h.01M211.6 109.4h.01M231.7 135.4h.01M209.8 131.2h.01M209.1 122.8h.01M209.9 121.7h.01M214 128.8h.01M236.7 138.1h.01M217.4 130h.01M215 125.3h.01M220.7 127.3h.01M216.7 125.4h.01M227.7 149.6h.01M228.8 138.9h.01M220.7 142.2h.01M207.5 136.8h.01M209 142.8h.01M255 91.4h.01M253.6 86.8h.01M252.4 85.8h.01M259.1 92.7h.01M253.1 86.4h.01M254.4 94.8h.01M254.8 86.3h.01M252 115.2h.01M249.7 112.9h.01M245.5 108.1h.01M244 153.4h.01M256.4 167.6h.01M247.3 152.7h.01M242.5 153.3h.01M164.4 139.6h.01M155.4 164.2h.01M164.8 134.9h.01M167.1 136.2h.01M192.5 221.8h.01M178.8 215.1h.01M180.2 206.9h.01M182.2 209h.01M184 222.3h.01M193.3 183.8h.01M186.7 190.6h.01M189.8 220h.01M187.3 217.4h.01M181.9 206.6h.01M175.9 214.7h.01M179.6 179.4h.01M192.3 197.1h.01M186.3 198.6h.01M191.6 230.2h.01M199.3 220.8h.01M194.3 189.3h.01M193.5 210.7h.01M183.1 235.9h.01M187.6 201.5h.01M191.8 180.9h.01M188.7 220.6h.01M192.9 224.3h.01M181.5 225.6h.01M175 197.7h.01M175.2 205.8h.01M181.4 195.6h.01M189.5 232.6h.01M186.9 227.4h.01M249.7 232.1h.01M231 237.7h.01M238.9 225.8h.01M227 234.1h.01M227.4 236.6h.01M227.1 239.5h.01M249.3 230.1h.01M233.6 246h.01M1.2 12.6h.01M2.6 13.6h.01M-0.1 19.6h.01M2 56.2h.01" stroke-width="3.1"/><path d="M79.9 44.1h.01M71.9 23.5h.01M76.5 52h.01M68 22.4h.01M75.3 22.4h.01M69.3 21h.01M71.8 19h.01M71.5 33.2h.01M77.2 48.3h.01M67.9 15.8h.01M78.3 31.6h.01M70.8 27.7h.01M63.6 21.4h.01M72.1 9.4h.01M60.3 18.1h.01M71.1 35.5h.01M89.9 10.9h.01M92.9 20.7h.01M92.4 17.7h.01M88 16.8h.01M92.6 13.1h.01M96.7 18.3h.01M89.2 20h.01M93.3 14.3h.01M34.4 66.1h.01M48.4 75.7h.01M51.1 63.3h.01M32 69.4h.01M38.6 76.3h.01M31.5 76.6h.01M53.9 62.8h.01M48 78.1h.01M57 63.7h.01M38.3 60h.01M39.9 64.2h.01M30.3 59.7h.01M42.6 63.1h.01M27.1 78.6h.01M31.5 70.4h.01M47.8 65.2h.01M48.8 57.6h.01M52.3 62.5h.01M54.7 68.7h.01M37.1 72.9h.01M60.5 46h.01M46.5 53.4h.01M46.7 58.4h.01M16.9 61.4h.01M50.4 59h.01M22.9 72.7h.01M52.5 54.6h.01M65 61.2h.01M59.3 58h.01M59.6 49.4h.01M64.5 55.1h.01M47.5 55.4h.01M39.1 63h.01M36.8 79.6h.01M44.1 73.8h.01M40.5 68.4h.01M44.6 66.7h.01M117 31.7h.01M117.2 25h.01M115.6 21.6h.01M124.8 38.2h.01M127.7 37.9h.01M124.2 29.2h.01M110.8 30.4h.01M117 23.6h.01M122.7 25.2h.01M126.2 41.6h.01M110.9 18.4h.01M105.6 18.5h.01M126.4 24.1h.01M133.6 39.7h.01M117.5 22.2h.01M108.8 22.9h.01M135.4 33.2h.01M110.2 12.3h.01M116.1 24.4h.01M100 14.9h.01M120.8 24.2h.01M122.3 23.1h.01M131.4 32.9h.01M108 21.4h.01M115.3 26.6h.01M125.4 25.9h.01M121.1 30.3h.01M122.3 18.8h.01M104.7 18h.01M107 18.3h.01M105.1 32.1h.01M109.2 33.7h.01M162.2 19.8h.01M160.6 17.5h.01M176.1 15.9h.01M159 18.4h.01M170.5 32.7h.01M174.9 37.5h.01M191.2 29.5h.01M170.9 32.7h.01M185.4 33.1h.01M190.1 38.2h.01M184.2 33h.01M173.6 33.8h.01M180.2 34.3h.01M184.2 42.9h.01M197.3 15.1h.01M190.6 4h.01M195.4 11.5h.01M190.9 6.9h.01M191.8 4.4h.01M194.9 6.1h.01M185.3 2.6h.01M189.2 8.6h.01M192.3 2.6h.01M183.1 1.9h.01M202 17.9h.01M241.2 31.2h.01M218.9 36.5h.01M220.4 33.3h.01M227.3 35.8h.01M240.1 31.3h.01M231.9 34.3h.01M221.3 34h.01M231.2 33.7h.01M248.4 14.4h.01M254 41.9h.01M244.5 13.2h.01M253.8 25.4h.01M253.3 53.5h.01M255.1 19.9h.01M252.3 36.1h.01M247.9 14.4h.01M260.2 31.7h.01M243.1 8.8h.01M247.7 8.5h.01M257.4 55.1h.01M245.1 11.2h.01M259.2 50.8h.01M244.3 8.9h.01M253.9 39.4h.01M258 37.7h.01M256.5 13.3h.01M250.5 3.8h.01M252.1 44.4h.01M152.1 83.5h.01M142.9 90.4h.01M143.9 58.2h.01M148.7 54.8h.01M153.1 68.4h.01M148.6 91h.01M148.7 81.2h.01M147.2 68.1h.01M155.3 67.2h.01M165.8 78h.01M150.3 66.9h.01M160.9 66.1h.01M144.7 48.1h.01M149.3 58.1h.01M157.5 93.2h.01M139.2 67.7h.01M162.7 74.8h.01M158.6 80.7h.01M133.4 48.2h.01M147.3 59.4h.01M149.4 53.5h.01M151.8 84.8h.01M167.3 88.4h.01M159.6 71.5h.01M146.3 73.7h.01M152.7 94.8h.01M153.5 100.7h.01M164.6 82.1h.01M150.3 89.8h.01M151.3 73.3h.01M153.6 81.4h.01M152.4 78.2h.01M149.6 67.7h.01M152.6 48.8h.01M193.5 72h.01M187.1 67.2h.01M187.9 63.4h.01M203.3 69.8h.01M180.3 71.4h.01M182.5 62.9h.01M181.8 53.5h.01M199.9 61.8h.01M176.2 60.1h.01M187.5 69.5h.01M191.6 70h.01M185.9 64.4h.01M200.6 71.1h.01M185.7 72.1h.01M188.1 66.6h.01M183.6 66.5h.01M200.3 74.6h.01M190.6 75.5h.01M176.1 60.2h.01M195 71.5h.01M192.4 68.5h.01M185.6 69.1h.01M205 70.8h.01M194.5 68.9h.01M174.6 72.2h.01M196.6 77.9h.01M178.8 53.6h.01M185.9 53.6h.01M103.4 92.7h.01M113.3 69.4h.01M114.7 82.6h.01M100.4 91.2h.01M124 69.5h.01M71.7 133.1h.01M85.7 114.9h.01M79 127.6h.01M95.3 111.3h.01M95.9 102.1h.01M83.4 124.7h.01M130.1 52.4h.01M72.6 122.4h.01M120.8 63.6h.01M75.9 132.1h.01M115.7 83h.01M109.1 90.4h.01M103.7 97.5h.01M101.9 93.8h.01M76.7 125.5h.01M72.2 133.8h.01M123 65.4h.01M91.9 110.4h.01M121.8 71.1h.01M119.8 74h.01M68.1 135.6h.01M109.8 77.3h.01M86.1 107.1h.01M108.9 76.5h.01M89.8 109.6h.01M120.5 70.7h.01M98.4 98.4h.01M89.2 99.5h.01M110.9 100.7h.01M96.9 99.8h.01M96.8 98.2h.01M92.9 96h.01M95.8 100.1h.01M94.3 99.7h.01M106.7 98.8h.01M69.3 100.1h.01M72 95.7h.01M75.5 96.3h.01M69.8 101.4h.01M71 98.3h.01M65.1 98.5h.01M79.9 98.4h.01M69.6 95h.01M79.8 99.8h.01M80.1 104.3h.01M72.1 103h.01M80.6 100h.01M80 97.3h.01M78.4 99.9h.01M74.8 134.1h.01M54 116.6h.01M54.1 121h.01M78.7 112.6h.01M80.5 103.7h.01M120.1 131.1h.01M132.9 113h.01M121.8 128.9h.01M130.8 120.2h.01M127.2 122.8h.01M123.3 132.4h.01M131.3 120.1h.01M127.1 119.8h.01M131.3 140.8h.01M124.1 131.1h.01M124.7 141.6h.01M140.1 116.3h.01M126.5 130h.01M127.2 129.8h.01M129.8 125.6h.01M127.1 118.9h.01M154.4 107.5h.01M147.2 106.6h.01M153.8 106.7h.01M143.6 109.7h.01M148.3 129.7h.01M4.1 98.4h.01M16.6 110.5h.01M9.1 102.9h.01M4.5 104.9h.01M6.8 111.8h.01M2.4 102.8h.01M15 110h.01M-0.6 104.5h.01M21.8 107.4h.01M0.2 103.1h.01M8.5 112.2h.01M24.5 104.4h.01M3.3 102.7h.01M-0.6 106.6h.01M8.9 106.5h.01M17.9 116.9h.01M6.2 100.2h.01M11.4 108.2h.01M17.4 84.8h.01M13.8 89.1h.01M10 91.3h.01M28.8 88.9h.01M31 87.7h.01M14.9 138.3h.01M8.7 154.7h.01M14 157.9h.01M8.4 139.1h.01M6.3 137h.01M16.1 165.9h.01M9.3 160.1h.01M13.5 174h.01M8.5 165.9h.01M16.6 136.6h.01M10.5 161.5h.01M18.4 140.2h.01M19.1 138.8h.01M20 145.9h.01M12.2 155h.01M13.9 172h.01M12.5 168.6h.01M10.7 146.3h.01M20.3 172.9h.01M13.9 167.4h.01M16.7 161.9h.01M2 166.5h.01M13.3 187.4h.01M11.8 187.4h.01M11.6 179.9h.01M12.1 189.2h.01M1.3 190.6h.01M7.5 181.6h.01M6.7 182.9h.01M12.3 190.7h.01M10.4 190.2h.01M13.2 195.5h.01M20.9 211.5h.01M17.4 222.2h.01M5.5 203.5h.01M7.7 215.6h.01M3.5 214.2h.01M8.4 215.3h.01M15 215.6h.01M17.2 212.5h.01M2.4 211h.01M13.4 206.5h.01M10.1 211.3h.01M16 214.7h.01M13.1 217.1h.01M7.2 214.8h.01M14.8 213.3h.01M17.6 215.1h.01M11.1 215.8h.01M13.4 218.8h.01M19 218.2h.01M12.4 209.3h.01M53.3 238.9h.01M55.2 242.7h.01M51.7 239.8h.01M45.4 236.9h.01M50.1 237.2h.01M48.6 240.6h.01M49.2 242.6h.01M21.5 228.9h.01M56.8 193.8h.01M60.9 193.6h.01M74.3 182.3h.01M70.6 190.2h.01M72.7 198.7h.01M70.8 196.3h.01M74.3 193.5h.01M68.7 188.2h.01M70 180.4h.01M76.4 197.7h.01M69.8 192.1h.01M63.9 187.3h.01M81.8 172.3h.01M83 174.9h.01M88.8 182.9h.01M85.5 180.4h.01M69 205.7h.01M69.5 208.5h.01M74.7 209.5h.01M71.8 215.1h.01M69 212.6h.01M81.3 221h.01M84.4 220.8h.01M84.2 225.9h.01M96.7 205.3h.01M100.2 205h.01M101.1 203.9h.01M98.8 202.8h.01M103.7 202.6h.01M106.9 199.7h.01M99.2 207.6h.01M100.7 205h.01M107.8 199.6h.01M121.6 203.8h.01M122.5 205.6h.01M103.7 212.8h.01M107.3 223.5h.01M114.4 225.3h.01M119.8 225.3h.01M130.5 221.7h.01M192.6 95.9h.01M221.4 129.9h.01M221.8 136.2h.01M212.5 126.3h.01M200.4 122h.01M210.1 133.8h.01M222.2 147h.01M206.2 131.9h.01M228.8 143.6h.01M238 135h.01M226.7 125.1h.01M224.9 129.5h.01M229.7 143.9h.01M195.8 119.4h.01M226 131.4h.01M227.1 134.6h.01M208.2 124.7h.01M226.3 136.5h.01M223.9 141.4h.01M217.4 120.5h.01M214.4 136.3h.01M214.8 129.7h.01M231.2 133.4h.01M221.3 134.7h.01M227.5 136.6h.01M217.9 120.4h.01M231.7 139.2h.01M200.4 125.6h.01M229.7 125.2h.01M213.7 134.5h.01M224.9 152.4h.01M226.6 139.7h.01M212.7 133.2h.01M233.9 138.4h.01M214.8 126.6h.01M208.5 130.9h.01M222.5 125.7h.01M221.9 122.8h.01M209.9 140.5h.01M206.7 145.4h.01M209.3 137.1h.01M200.2 133.7h.01M215.1 145h.01M201.3 134.8h.01M211.5 141.6h.01M210.8 143.7h.01M205.2 138.6h.01M256.7 92.1h.01M252.6 84.5h.01M253.9 88.2h.01M251.5 93.6h.01M249.4 84.4h.01M250.1 95.6h.01M249.6 79.9h.01M251.6 105.3h.01M245.4 106h.01M250.7 108h.01M246.3 110.2h.01M245.8 154.9h.01M252.7 150.1h.01M249.8 161.6h.01M165.2 142.7h.01M156.7 156.7h.01M142.8 179h.01M151.7 171.3h.01M156.5 159.1h.01M160.2 155.6h.01M148.7 172.5h.01M164.7 139.2h.01M161.5 142.5h.01M148.9 176.1h.01M151.2 162.6h.01M143 196.7h.01M164 190.6h.01M164.3 185.8h.01M164.3 186.6h.01M193 237.4h.01M186.2 191.8h.01M186.6 221h.01M174.6 198.6h.01M181.8 196.8h.01M182.7 208.6h.01M194.1 178.9h.01M184.6 241.6h.01M197 178.7h.01M181.5 227.4h.01M195.6 228.6h.01M185.8 197.9h.01M188.5 228.9h.01M204.9 185.9h.01M186.6 216.1h.01M190.2 222.9h.01M197 217.4h.01M190.6 211h.01M190.3 211.6h.01M197.2 203.1h.01M186.4 185.4h.01M169.6 202.1h.01M190.9 226.9h.01M190.5 219.1h.01M186.4 215.2h.01M192.8 180.1h.01M194.5 188.5h.01M192.1 187.4h.01M183.4 214.9h.01M186.9 174.1h.01M192.4 219.1h.01M191.6 193.6h.01M174.3 200.1h.01M185.1 212h.01M195.5 179.8h.01M181 197.5h.01M177.7 202.1h.01M178 212.8h.01M200.3 186.8h.01M183.6 223.3h.01M181.1 194.1h.01M179.5 203.3h.01M186.5 181.8h.01M193 210.3h.01M188.7 196h.01M195.5 203.8h.01M197.4 217h.01M195.2 185h.01M244.1 229.8h.01M237.3 232.1h.01M255.2 229h.01M227.4 237.1h.01M245.6 225h.01M244.9 227.7h.01M255.9 230.9h.01M237 235h.01M226.9 241.3h.01M240.6 228.5h.01M242.4 230.8h.01M237.9 230.6h.01M231.5 237.5h.01M223.9 240.3h.01M230.6 243.2h.01M100.1 137.7h.01M107.3 141.2h.01M103.7 148.4h.01M114.4 146.6h.01M178.8 134.1h.01M178.8 146.6h.01M0.7 14.2h.01M2.3 19.1h.01M3.2 55.4h.01M0.8 53.5h.01" stroke-width="3.6"/><path d="M78.3 25.5h.01M71.3 35.2h.01M80.3 36.8h.01M81.8 40.1h.01M66.4 16.4h.01M83.5 42h.01M62.1 20h.01M69 16.3h.01M74.2 38.1h.01M69.3 18.5h.01M85.3 41.2h.01M91 19.8h.01M93.6 17.8h.01M83.5 2.4h.01M32 69.3h.01M47.3 59.3h.01M28.9 68.4h.01M24.3 69.9h.01M48 69.5h.01M37.7 69.5h.01M22.2 60.3h.01M61 50.8h.01M54.7 47.7h.01M43.2 77.8h.01M48.3 73.3h.01M32.1 66.5h.01M24.5 74.7h.01M56.2 61.7h.01M58.3 60.7h.01M40.6 69.9h.01M49.8 60.7h.01M37.8 59h.01M30.7 68.2h.01M48 64.1h.01M115.3 38.5h.01M105.9 31.5h.01M121.1 20.6h.01M132.7 34.3h.01M138.7 33.2h.01M121.8 33.2h.01M113 17.7h.01M105.4 15.6h.01M121.3 23.9h.01M120.1 25.1h.01M130.2 31.9h.01M110.8 25.5h.01M107.6 21.7h.01M131.6 37.7h.01M116.7 25.7h.01M124.7 30.8h.01M121 43.7h.01M121.5 36.1h.01M110.1 25.4h.01M165.6 21.9h.01M168.3 18.3h.01M170.9 21.1h.01M170.4 33.6h.01M188.5 38.8h.01M175.6 35.4h.01M195.4 14.1h.01M183.6 3h.01M195.5 12.5h.01M192.2 9.3h.01M194.3 10.5h.01M188.7 6.3h.01M231.5 30.2h.01M236.3 33.1h.01M234.2 36.4h.01M234.8 27.2h.01M235.6 36.6h.01M255.7 18.2h.01M252.1 13.2h.01M253.5 52.5h.01M252.3 39.8h.01M256.2 28.9h.01M255.3 13.5h.01M250.5 24.6h.01M251 54.3h.01M253.6 22h.01M261.4 23h.01M258.8 36.9h.01M255.3 23.7h.01M256.6 48h.01M253.5 43.5h.01M247.4 6.4h.01M255.8 40.8h.01M254.6 31h.01M257.4 34.9h.01M258.9 45.6h.01M246.9 15h.01M152.1 90.6h.01M139.6 57.9h.01M139.5 56.4h.01M155.5 54.9h.01M158.4 74.7h.01M134.7 52.8h.01M146.3 66.6h.01M151.7 53.1h.01M146.1 59.4h.01M157.4 64.8h.01M155.8 57.5h.01M154.8 77.4h.01M143.5 66.3h.01M158.3 72h.01M146 71.1h.01M164.5 79.9h.01M153.8 55.9h.01M159.6 74.8h.01M143 65.8h.01M150.4 96.7h.01M161.9 82.9h.01M157.2 77.1h.01M132.9 52.8h.01M135.2 50.7h.01M145.2 84.2h.01M158.4 78.3h.01M149.9 52.8h.01M158 72.2h.01M169.1 74.9h.01M150.1 79.5h.01M127.1 72.8h.01M130.3 84.6h.01M129.8 76.9h.01M126.5 77.8h.01M126.9 81.2h.01M188.1 62.1h.01M177.6 61.3h.01M200.3 67.9h.01M184.1 71.7h.01M185.5 67h.01M184.7 64.4h.01M196.3 70.6h.01M185.2 62.8h.01M183.2 66.8h.01M187.4 63.2h.01M203.9 69.2h.01M193.7 65.2h.01M176.2 65.3h.01M177 56.8h.01M200.5 70.7h.01M185.4 69.3h.01M90.1 98.7h.01M81.3 125.6h.01M89.1 112.6h.01M99.8 92.1h.01M93.3 109.4h.01M82.3 111.7h.01M63.6 137.5h.01M109.5 94.8h.01M118.1 73.3h.01M64 141.8h.01M117.3 66.4h.01M77.4 117.7h.01M130.9 60.1h.01M98.1 92.7h.01M105.3 86.4h.01M103.4 82.3h.01M104.1 98.8h.01M95.6 96.4h.01M99.1 92.2h.01M92 101.8h.01M121.4 72.2h.01M82.6 124.5h.01M129.6 61.6h.01M107.9 81.5h.01M89.4 95.1h.01M100.5 100.2h.01M85.1 108.1h.01M96.2 99.7h.01M93.9 98.4h.01M101.5 101.6h.01M101.4 97h.01M66.4 104.3h.01M70.6 94.4h.01M77.2 100.5h.01M71.6 100.7h.01M69.4 95.1h.01M69.1 100.2h.01M80.3 94.5h.01M65.1 133.1h.01M61.3 123.2h.01M58.9 122.5h.01M65.4 134.2h.01M76 134h.01M52.5 127.3h.01M65.2 126.7h.01M59.1 117.3h.01M76.2 130.8h.01M58.9 116.6h.01M132.6 135.1h.01M125 126.1h.01M140.4 128.8h.01M115.2 113.6h.01M133.3 115.7h.01M119.7 128.2h.01M142.2 137.6h.01M140 133.5h.01M122.1 117.8h.01M120.2 122.9h.01M123.4 139.4h.01M121 122.8h.01M124.1 106.9h.01M130.3 116.4h.01M134.9 139.5h.01M122.8 130.5h.01M135.4 118.9h.01M147.5 106.4h.01M149.2 105.7h.01M154.1 126.8h.01M-2.7 101h.01M1.2 105.8h.01M20.2 108.8h.01M6.6 109.3h.01M15.8 107.4h.01M11.5 110.3h.01M4.7 106.3h.01M16.7 105.8h.01M19.9 103.8h.01M20.4 88h.01M10 88.7h.01M14.4 153.6h.01M15.4 146.6h.01M17.1 132.1h.01M14 151.4h.01M7.9 149.9h.01M18.7 161.2h.01M10.4 148.1h.01M7.6 140.8h.01M15.7 131.7h.01M13.6 134.6h.01M13.9 139.3h.01M13.2 147.7h.01M8.9 128.3h.01M4.8 166.1h.01M9.2 196h.01M4.8 205.2h.01M8.6 213.8h.01M18.4 205.9h.01M-3.7 220.9h.01M16.8 213.6h.01M12.4 217h.01M14.8 211h.01M18.1 206.8h.01M3.6 211.9h.01M3.8 215.3h.01M12.9 208.7h.01M42.1 234.8h.01M48.7 242h.01M43.5 240.6h.01M53.5 242.6h.01M51.3 239.8h.01M52.8 242.1h.01M48.8 238.8h.01M43.2 240.5h.01M56.1 190.1h.01M54.9 192.1h.01M76.7 193.3h.01M67.5 197.3h.01M68.6 193.4h.01M72.5 186.7h.01M67.5 187.4h.01M66.5 186.2h.01M83.8 175.1h.01M87.7 181.9h.01M83.9 176.2h.01M88.9 177h.01M77.2 212.3h.01M75.5 211.5h.01M73.6 210.1h.01M75.6 208h.01M78.9 213.5h.01M101.4 199.2h.01M106 200.4h.01M200.4 96.8h.01M209.2 122.2h.01M218.9 146.3h.01M229.1 147.7h.01M210.7 120.2h.01M229.3 132.7h.01M211.4 127.3h.01M216 126.7h.01M213.7 129.7h.01M226.9 148.8h.01M233.2 143.2h.01M227.9 130.6h.01M240.3 133.7h.01M210.5 132.9h.01M206.9 121.2h.01M205.4 121.7h.01M208.4 120.2h.01M216.9 120.3h.01M223.6 127.6h.01M212.4 142.3h.01M254.4 90.2h.01M250.5 85.1h.01M251.5 84.1h.01M258 93.9h.01M248 88h.01M254.1 97.6h.01M252.2 112.6h.01M247.9 167.2h.01M243.4 156.7h.01M245.1 169.8h.01M162.3 145.6h.01M151.8 158.8h.01M164.2 142.4h.01M148.5 172.1h.01M163.8 143.8h.01M157.1 155.5h.01M150.2 171.6h.01M165.6 141h.01M152.1 173.2h.01M157.3 157.3h.01M164.5 155.6h.01M186.3 199.9h.01M190.6 232.1h.01M195.6 185.7h.01M194.8 190h.01M186.5 231.5h.01M186.4 220.9h.01M198.2 192.5h.01M172 201.6h.01M185.5 238.5h.01M189.6 232.2h.01M178.8 201.2h.01M177.7 204.4h.01M188.1 229.1h.01M180.7 235.8h.01M193.3 183.2h.01M190.2 220.7h.01M193.7 185.6h.01M194 237.8h.01M185.5 221.2h.01M185.5 232.3h.01M186.7 236.2h.01M176 211.6h.01M199.8 222.4h.01M195.7 223.4h.01M187.5 239.5h.01M244 230.5h.01M247.6 231.2h.01M243 233.1h.01M238.4 223.3h.01M4.4 20.8h.01M2.8 18h.01" stroke-width="4.4"/><path d="M132.3 12.5h.01M148.4 21.5h.01M145.7 24.1h.01" stroke-width="5.4"/><path d="M72.4 189.5h.01M149.3 185.1h.01" stroke-width="9"/></g></svg>
<svg x="913" y="60" width="257.3" height="251" viewBox="0 0 257 250.9" preserveAspectRatio="none" overflow="hidden"><rect width="257" height="250.9" fill="#000"/><g filter="url(#fHaze)"><rect width="257" height="250.9" fill="#000" fill-opacity="0"/><path d="M8.9 23.2C8.6 19 10.1 13.7 12.5 10.7C14.8 7.7 19.3 5.6 23.2 5.3C27 5 32.4 6.5 35.6 8.9C38.9 11.3 42.1 15.7 42.7 19.6C43.3 23.4 41 28.2 39.2 32.1C37.4 35.9 34.7 41.1 32.1 42.7C29.4 44.4 26.1 43 23.2 41.9C20.2 40.7 16.6 38.7 14.2 35.6C11.9 32.5 9.2 27.3 8.9 23.2Z" fill="#11b811" fill-opacity="0.31"/><path d="M48.1 3.6C50.2 0.9 56.1 -0.3 60.6 0C65 0.3 72.1 3 74.8 5.3C77.5 7.7 77.5 11 76.6 14.2C75.7 17.5 72.1 22.3 69.5 24.9C66.8 27.6 63.2 30.3 60.6 30.3C57.9 30.3 55.5 27.3 53.4 24.9C51.4 22.6 49 19.6 48.1 16C47.2 12.5 46 6.2 48.1 3.6Z" fill="#11b811" fill-opacity="0.31"/><path d="M106.9 42.7C104.8 40.7 104.5 33.2 105.1 28.5C105.7 23.7 107.7 18.1 110.4 14.2C113.1 10.4 117.2 6.8 121.1 5.3C125 3.9 129.7 4.2 133.6 5.3C137.4 6.5 141.6 9.8 144.3 12.5C146.9 15.1 148.4 18.1 149.6 21.4C150.8 24.6 153.2 28.5 151.4 32.1C149.6 35.6 144.6 41.3 138.9 42.7C133.3 44.2 122.9 41 117.5 41C112.2 41 108.9 44.8 106.9 42.7Z" fill="#11b811" fill-opacity="0.31"/><path d="M112.2 49.9C112.5 46.3 114.9 42.9 117.5 41C120.2 39 124.7 38 128.2 38.3C131.8 38.6 136.2 40.5 138.9 42.7C141.6 45 143.7 48.4 144.3 51.6C144.9 54.9 144 59.4 142.5 62.3C141 65.3 138.3 68.3 135.4 69.5C132.4 70.6 127.9 70.6 124.7 69.5C121.4 68.3 117.8 65.6 115.8 62.3C113.7 59.1 111.9 53.4 112.2 49.9Z" fill="#11b811" fill-opacity="0.31"/><path d="M76.6 71.2C76.9 68.3 77.8 63.2 80.1 60.6C82.5 57.9 87.3 55.8 90.8 55.2C94.4 54.6 98.5 55.2 101.5 57C104.5 58.8 107.3 62.6 108.6 65.9C110 69.2 110.1 73.3 109.5 76.6C108.9 79.8 107.6 83.4 105.1 85.5C102.6 87.6 98 89 94.4 89C90.8 89 86.4 87.3 83.7 85.5C81 83.7 79.5 80.7 78.4 78.4C77.2 76 76.3 74.2 76.6 71.2Z" fill="#11b811" fill-opacity="0.31"/><path d="M0 71.2C2.4 65 9.5 68.3 14.2 69.5C19 70.6 24.6 74.5 28.5 78.4C32.4 82.2 36.8 87.9 37.4 92.6C38 97.4 35.6 103.9 32.1 106.9C28.5 109.8 21.4 110.4 16 110.4C10.7 110.4 2.7 113.4 0 106.9C-2.7 100.3 -2.4 77.5 0 71.2Z" fill="#11b811" fill-opacity="1.0"/><path d="M5.3 80.1C8.6 76.9 19 77.5 23.2 80.1C27.3 82.8 31.5 92 30.3 96.2C29.1 100.3 20.5 104.5 16 105.1C11.6 105.7 5.3 103.9 3.6 99.7C1.8 95.6 2.1 83.4 5.3 80.1Z" fill="#11b811" fill-opacity="1.0"/><path d="M35.6 83.7C38 80.7 48.7 79.3 51.6 81.9C54.6 84.6 54.3 95.3 53.4 99.7C52.5 104.2 49 108.6 46.3 108.6C43.6 108.6 39.2 103.9 37.4 99.7C35.6 95.6 33.2 86.7 35.6 83.7Z" fill="#11b811" fill-opacity="0.37"/><path d="M21.4 115.8C22 112.5 24 110.1 26.7 108.6C29.4 107.2 34.1 106.6 37.4 106.9C40.7 107.2 43.9 108 46.3 110.4C48.7 112.8 51.4 117.5 51.6 121.1C51.9 124.7 50.2 128.5 48.1 131.8C46 135.1 42.1 139.8 39.2 140.7C36.2 141.6 32.9 139.2 30.3 137.1C27.6 135.1 24.6 131.8 23.2 128.2C21.7 124.7 20.8 119 21.4 115.8Z" fill="#11b811" fill-opacity="0.43"/><path d="M51.6 108.6C51.9 104.8 55.5 101.8 58.8 99.7C62 97.7 67.1 96.5 71.2 96.2C75.4 95.9 80.1 96.5 83.7 98C87.3 99.4 90.8 102.4 92.6 105.1C94.4 107.7 95 110.7 94.4 114C93.8 117.2 91.7 122 89 124.7C86.4 127.3 81.9 129.1 78.4 130C74.8 130.9 71.2 131.2 67.7 130C64.1 128.8 59.7 126.4 57 122.9C54.3 119.3 51.4 112.5 51.6 108.6Z" fill="#11b811" fill-opacity="0.31"/><path d="M96.2 103.3C96.8 100.3 100.3 95.3 103.3 92.6C106.3 89.9 110.4 87.6 114 87.3C117.5 87 121.7 88.8 124.7 90.8C127.6 92.9 130 96.8 131.8 99.7C133.6 102.7 135.9 106 135.4 108.6C134.8 111.3 131.2 114 128.2 115.8C125.3 117.5 121.1 119.3 117.5 119.3C114 119.3 109.8 117.2 106.9 115.8C103.9 114.3 101.5 112.5 99.7 110.4C98 108.3 95.6 106.3 96.2 103.3Z" fill="#11b811" fill-opacity="0.31"/><path d="M138.9 92.6C139.8 89.9 142.8 87 146 85.5C149.3 84 154.6 83.4 158.5 83.7C162.4 84 166.8 85.5 169.2 87.3C171.6 89 173 91.7 172.8 94.4C172.5 97.1 169.8 100.9 167.4 103.3C165 105.7 161.8 108 158.5 108.6C155.2 109.2 150.8 108 147.8 106.9C144.9 105.7 142.2 103.9 140.7 101.5C139.2 99.1 138 95.3 138.9 92.6Z" fill="#11b811" fill-opacity="0.31"/><path d="M151.4 114C153.2 111.3 157 110.1 160.3 108.6C163.6 107.2 167.7 105.1 171 105.1C174.2 105.1 178.4 106 179.9 108.6C181.4 111.3 180.5 116.9 179.9 121.1C179.3 125.3 178.4 130 176.3 133.6C174.2 137.1 170.7 140.7 167.4 142.5C164.1 144.3 159.4 145.4 156.7 144.3C154.1 143.1 152.6 138.6 151.4 135.4C150.2 132.1 149.6 128.2 149.6 124.7C149.6 121.1 149.6 116.7 151.4 114Z" fill="#11b811" fill-opacity="0.31"/><path d="M117.5 147.8C118.1 144 120.2 139.8 122.9 137.1C125.6 134.5 130 132.1 133.6 131.8C137.1 131.5 141.3 133.3 144.3 135.4C147.2 137.4 149.9 141.3 151.4 144.3C152.9 147.2 153.8 150.2 153.2 153.2C152.6 156.1 150.2 159.7 147.8 162.1C145.4 164.4 142.2 166.5 138.9 167.4C135.6 168.3 131.5 168.6 128.2 167.4C125 166.2 121.1 163.6 119.3 160.3C117.5 157 116.9 151.7 117.5 147.8Z" fill="#11b811" fill-opacity="0.31"/><path d="M67.7 154.9C68.3 152.3 70.1 149.6 73 147.8C76 146 81 144.9 85.5 144.3C89.9 143.7 95.6 143.4 99.7 144.3C103.9 145.1 108.3 147.2 110.4 149.6C112.5 152 112.8 155.2 112.2 158.5C111.6 161.8 109.2 166.2 106.9 169.2C104.5 172.2 101.5 174.8 98 176.3C94.4 177.8 89.3 178.7 85.5 178.1C81.6 177.5 77.5 175.1 74.8 172.8C72.1 170.4 70.6 166.8 69.5 163.8C68.3 160.9 67.1 157.6 67.7 154.9Z" fill="#11b811" fill-opacity="0.31"/><path d="M147.8 171C148.4 167.7 151.1 162.1 153.2 158.5C155.2 154.9 157.6 151.7 160.3 149.6C163 147.5 166.5 144.9 169.2 146C171.9 147.2 174.4 152.9 176.3 156.7C178.2 160.6 180.5 165.3 180.8 169.2C181.1 173 180.3 177.2 178.1 179.9C175.9 182.5 171 184.6 167.4 185.2C163.8 185.8 159.7 184.6 156.7 183.4C153.8 182.2 151.1 180.2 149.6 178.1C148.1 176 147.2 174.2 147.8 171Z" fill="#11b811" fill-opacity="0.31"/><path d="M210.2 115.8C210.2 111.9 211.6 108 213.7 105.1C215.8 102.1 219.6 98.5 222.6 98C225.6 97.4 228.9 99.4 231.5 101.5C234.2 103.6 237.5 107.2 238.6 110.4C239.8 113.7 239.8 117.8 238.6 121.1C237.5 124.4 234.5 127.6 231.5 130C228.6 132.4 223.8 135.6 220.8 135.4C217.9 135.1 215.5 131.5 213.7 128.2C211.9 125 210.2 119.6 210.2 115.8Z" fill="#11b811" fill-opacity="0.31"/><path d="M199.5 158.5C199.5 154.6 204.8 151.4 208.4 147.8C211.9 144.3 217.3 137.7 220.8 137.1C224.4 136.5 226.8 141.6 229.7 144.3C232.7 146.9 236.3 150.5 238.6 153.2C241 155.8 244 157.3 244 160.3C244 163.3 241 168.3 238.6 171C236.3 173.6 233 175.1 229.7 176.3C226.5 177.5 222.6 179 219.1 178.1C215.5 177.2 211.6 174.2 208.4 171C205.1 167.7 199.5 162.4 199.5 158.5Z" fill="#11b811" fill-opacity="0.31"/><path d="M160.3 46.3C160.9 43.3 165.6 38.6 171 35.6C176.3 32.7 184.3 29.1 192.3 28.5C200.4 27.9 211.3 29.1 219.1 32.1C226.8 35 234.2 42.1 238.6 46.3C243.1 50.5 247 55.8 245.8 57C244.6 58.2 237.5 55.5 231.5 53.4C225.6 51.4 217.6 46 210.2 44.5C202.7 43 194.1 43 187 44.5C179.9 46 171.9 53.1 167.4 53.4C163 53.7 159.7 49.3 160.3 46.3Z" fill="#11b811" fill-opacity="0.95"/><path d="M165.6 55.2C165.6 53.1 169.8 51.1 172.8 49.9C175.7 48.7 180.5 47.8 183.4 48.1C186.4 48.4 189.1 49.9 190.6 51.6C192 53.4 193.5 57 192.3 58.8C191.2 60.6 186.7 61.7 183.4 62.3C180.2 62.9 175.7 63.5 172.8 62.3C169.8 61.1 165.6 57.3 165.6 55.2Z" fill="#11b811" fill-opacity="0.31"/><path d="M201.2 53.4C202.4 51.1 206.6 47.5 210.2 46.3C213.7 45.1 218.8 45.4 222.6 46.3C226.5 47.2 230.3 49.6 233.3 51.6C236.3 53.7 240.1 56.4 240.4 58.8C240.7 61.1 238.1 63.8 235.1 65.9C232.1 68 226.8 70.9 222.6 71.2C218.5 71.5 213.4 69.5 210.2 67.7C206.9 65.9 204.5 62.9 203 60.6C201.5 58.2 200.1 55.8 201.2 53.4Z" fill="#11b811" fill-opacity="0.31"/><path d="M179.9 89C180.2 86.4 182.5 82.5 185.2 80.1C187.9 77.8 191.7 75.7 195.9 74.8C200.1 73.9 206 74.2 210.2 74.8C214.3 75.4 218.5 76.3 220.8 78.4C223.2 80.4 225 84.3 224.4 87.3C223.8 90.2 220.5 93.8 217.3 96.2C214 98.5 209 100.6 204.8 101.5C200.7 102.4 195.9 102.4 192.3 101.5C188.8 100.6 185.5 98.2 183.4 96.2C181.4 94.1 179.6 91.7 179.9 89Z" fill="#11b811" fill-opacity="0.31"/><path d="M153.2 3.6C156.1 0.6 165.3 -3 169.2 0C173 3 174.8 15.7 176.3 21.4C177.8 27 180.8 32.1 178.1 33.8C175.4 35.6 164.7 34.7 160.3 32.1C155.8 29.4 152.6 22.6 151.4 17.8C150.2 13.1 150.2 6.5 153.2 3.6Z" fill="#11b811" fill-opacity="0.22"/><path d="M183.4 7.1C184.9 4.5 193.5 3.3 195.9 5.3C198.3 7.4 199.2 16.9 197.7 19.6C196.2 22.3 189.4 23.4 187 21.4C184.6 19.3 182 9.8 183.4 7.1Z" fill="#11b811" fill-opacity="0.25"/><path d="M156.7 78.4C157.3 75.4 161.5 68.9 167.4 65.9C173.3 62.9 186.7 59.4 192.3 60.6C198 61.7 202.4 69.8 201.2 73C200.1 76.3 189.1 76.9 185.2 80.1C181.4 83.4 181.7 92 178.1 92.6C174.5 93.2 167.4 86.1 163.8 83.7C160.3 81.3 156.1 81.3 156.7 78.4Z" fill="#11b811" fill-opacity="0.28"/><path d="M245.8 0C247.5 -1.5 255.1 -2.7 257 0C258.9 2.7 257.7 13.5 257 16C256.3 18.6 254.6 16.3 252.9 15.1C251.2 14 247.8 11.4 246.7 8.9C245.5 6.4 244 1.5 245.8 0Z" fill="#11b811" fill-opacity="0.31"/><path d="M257 51.6C255.7 48.1 250.9 57.3 249.3 60.6C247.8 63.8 247.3 68 247.6 71.2C247.8 74.5 249.5 78.4 251.1 80.1C252.7 81.9 256 86.7 257 81.9C258 77.2 258.3 55.2 257 51.6Z" fill="#11b811" fill-opacity="0.31"/><path d="M240.4 153.2C242.6 149.9 254.2 145.4 257 151.4C259.8 157.3 258.3 182.8 257 188.8C255.7 194.7 251.5 190 249.3 187C247.2 184 245.5 176.6 244 171C242.5 165.3 238.3 156.4 240.4 153.2Z" fill="#11b811" fill-opacity="1.0"/><path d="M228 206.6C228.6 203.6 230.9 198.9 233.3 195.9C235.7 192.9 239.2 190.3 242.2 188.8C245.2 187.3 248.7 186.1 251.1 187C253.5 187.9 255.9 191.2 256.5 194.1C257 197.1 256.2 201.5 254.7 204.8C253.2 208.1 250.5 211.6 247.6 213.7C244.6 215.8 239.8 217.3 236.9 217.3C233.9 217.3 231.2 215.5 229.7 213.7C228.3 211.9 227.4 209.6 228 206.6Z" fill="#11b811" fill-opacity="0.37"/><path d="M3.6 219.1C3.3 214.9 5.3 209.9 7.1 206.6C8.9 203.3 11.3 200.7 14.2 199.5C17.2 198.3 21.7 198.3 24.9 199.5C28.2 200.7 31.8 203.6 33.8 206.6C35.9 209.6 37.1 213.7 37.4 217.3C37.7 220.8 37.1 224.7 35.6 228C34.1 231.2 31.5 235.1 28.5 236.9C25.5 238.6 21.1 239.5 17.8 238.6C14.5 237.8 11.3 234.8 8.9 231.5C6.5 228.3 3.9 223.2 3.6 219.1Z" fill="#11b811" fill-opacity="0.31"/><path d="M21.4 190.6C22.3 188.5 27 186.3 30.3 185.2C33.5 184.2 37.4 183.7 41 184.3C44.5 184.9 48.7 186.6 51.6 188.8C54.6 191 57.3 194.4 58.8 197.7C60.3 200.9 61.4 206 60.6 208.4C59.7 210.7 56.4 211.3 53.4 211.9C50.5 212.5 46 212.8 42.7 211.9C39.5 211 36.8 209 33.8 206.6C30.9 204.2 27 200.4 24.9 197.7C22.9 195 20.5 192.6 21.4 190.6Z" fill="#11b811" fill-opacity="0.31"/><path d="M33.8 236.9C33.5 232.7 34.7 228 35.6 224.4C36.5 220.8 37.4 217.3 39.2 215.5C41 213.7 43.9 212.8 46.3 213.7C48.7 214.6 51.9 217.9 53.4 220.8C54.9 223.8 55.2 227.7 55.2 231.5C55.2 235.4 54.6 241 53.4 244C52.2 247 50.8 248.4 48.1 249.3C45.4 250.2 39.8 251.4 37.4 249.3C35 247.3 34.1 241 33.8 236.9Z" fill="#11b811" fill-opacity="0.31"/><path d="M101.5 242.2C99.7 239.2 104.2 232.1 106.9 228C109.5 223.8 113.7 219.9 117.5 217.3C121.4 214.6 125.9 213 130 211.9C134.2 210.9 140.1 209.3 142.5 211C144.9 212.8 144.6 218.6 144.3 222.6C144 226.6 142.8 231.8 140.7 235.1C138.6 238.3 135.6 240.4 131.8 242.2C127.9 244 122.6 245.8 117.5 245.8C112.5 245.8 103.3 245.2 101.5 242.2Z" fill="#11b811" fill-opacity="0.31"/><path d="M144.3 211.9C145.6 208.7 148.4 204.8 151.4 203C154.3 201.2 158.8 200.7 162.1 201.2C165.3 201.8 168.9 203.9 171 206.6C173 209.3 174.5 213.4 174.5 217.3C174.5 221.1 173 226.2 171 229.7C168.9 233.3 165.3 236.9 162.1 238.6C158.8 240.4 154.3 241.3 151.4 240.4C148.4 239.5 145.6 236.3 144.3 233.3C142.9 230.3 143.4 226.2 143.4 222.6C143.4 219.1 142.9 215.2 144.3 211.9Z" fill="#11b811" fill-opacity="0.37"/><path d="M176.3 219.1C177.8 215.8 180.5 212.1 183.4 210.2C186.4 208.2 190.9 207.2 194.1 207.5C197.4 207.8 200.9 209.4 203 211.9C205.1 214.5 206.6 218.8 206.6 222.6C206.6 226.5 205.1 231.2 203 235.1C200.9 238.9 197.4 243.4 194.1 245.8C190.9 248.1 186.4 249.9 183.4 249.3C180.5 248.7 177.8 245.5 176.3 242.2C174.8 238.9 174.5 233.6 174.5 229.7C174.5 225.9 174.8 222.3 176.3 219.1Z" fill="#11b811" fill-opacity="0.31"/><path d="M101.5 250.9C90.5 249.8 105.7 245.6 114 244C122.3 242.4 140.4 240.6 151.4 241.3C162.4 242.1 175.1 246.8 179.9 248.4C184.6 250 192.9 250.5 179.9 250.9C166.8 251.4 112.5 252.1 101.5 250.9Z" fill="#11b811" fill-opacity="0.5"/><path d="M206.6 195.9C208.1 189.4 209.9 187.9 213.7 192.3C217.6 196.8 226.6 212.9 229.7 222.6C232.9 232.4 237.5 246.2 232.4 250.9C227.4 255.7 204.1 254.2 199.5 250.9C194.9 247.7 203.6 240.7 204.8 231.5C206 222.4 205.1 202.4 206.6 195.9Z" fill="#11b811" fill-opacity="0.28"/><path d="M0 138.9C1.5 134.5 6.4 138.9 8.9 140.7C11.4 142.5 14.5 146.3 15.1 149.6C15.7 152.9 14.1 157.6 12.5 160.3C10.8 163 7.4 164.4 5.3 165.6C3.3 166.8 0.9 171.9 0 167.4C-0.9 163 -1.5 143.4 0 138.9Z" fill="#11b811" fill-opacity="0.31"/><path d="M0 3.6C0.9 0.3 4 8.9 5.3 12.5C6.7 16 8.9 21.7 8 24.9C7.1 28.2 1.3 35.6 0 32.1C-1.3 28.5 -0.9 6.8 0 3.6Z" fill="#11b811" fill-opacity="0.37"/></g><g filter="url(#fGlow)" fill="none" stroke-linecap="round" stroke-linejoin="round"><rect width="257" height="250.9" fill="#000" fill-opacity="0" stroke="none"/><path d="M8.9 23.2C8.6 19 10.1 13.7 12.5 10.7C14.8 7.7 19.3 5.6 23.2 5.3C27 5 32.4 6.5 35.6 8.9C38.9 11.3 42.1 15.7 42.7 19.6C43.3 23.4 41 28.2 39.2 32.1C37.4 35.9 34.7 41.1 32.1 42.7C29.4 44.4 26.1 43 23.2 41.9C20.2 40.7 16.6 38.7 14.2 35.6C11.9 32.5 9.2 27.3 8.9 23.2Z" stroke="#10b410" stroke-width="4.1"/><path d="M48.1 3.6C50.2 0.9 56.1 -0.3 60.6 0C65 0.3 72.1 3 74.8 5.3C77.5 7.7 77.5 11 76.6 14.2C75.7 17.5 72.1 22.3 69.5 24.9C66.8 27.6 63.2 30.3 60.6 30.3C57.9 30.3 55.5 27.3 53.4 24.9C51.4 22.6 49 19.6 48.1 16C47.2 12.5 46 6.2 48.1 3.6Z" stroke="#10b410" stroke-width="4.1"/><path d="M39.2 44.5C41.3 45.1 47.8 47.8 51.6 48.1C55.5 48.4 60.3 47.5 62.3 46.3C64.4 45.1 63.8 41.9 64.1 41" stroke="#10b410" stroke-width="2.3"/><path d="M106.9 42.7C106.6 40.4 104.5 33.2 105.1 28.5C105.7 23.7 107.7 18.1 110.4 14.2C113.1 10.4 117.2 6.8 121.1 5.3C125 3.9 129.7 4.2 133.6 5.3C137.4 6.5 141.6 9.8 144.3 12.5C146.9 15.1 148.4 18.1 149.6 21.4C150.8 24.6 151.1 30.3 151.4 32.1" stroke="#10b410" stroke-width="4.1"/><path d="M112.2 49.9C112.5 46.3 114.9 42.9 117.5 41C120.2 39 124.7 38 128.2 38.3C131.8 38.6 136.2 40.5 138.9 42.7C141.6 45 143.7 48.4 144.3 51.6C144.9 54.9 144 59.4 142.5 62.3C141 65.3 138.3 68.3 135.4 69.5C132.4 70.6 127.9 70.6 124.7 69.5C121.4 68.3 117.8 65.6 115.8 62.3C113.7 59.1 111.9 53.4 112.2 49.9Z" stroke="#10b410" stroke-width="4.7"/><path d="M76.6 71.2C76.9 68.3 77.8 63.2 80.1 60.6C82.5 57.9 87.3 55.8 90.8 55.2C94.4 54.6 98.5 55.2 101.5 57C104.5 58.8 107.3 62.6 108.6 65.9C110 69.2 110.1 73.3 109.5 76.6C108.9 79.8 107.6 83.4 105.1 85.5C102.6 87.6 98 89 94.4 89C90.8 89 86.4 87.3 83.7 85.5C81 83.7 79.5 80.7 78.4 78.4C77.2 76 76.3 74.2 76.6 71.2Z" stroke="#10b410" stroke-width="4.7"/><path d="M0 67.7C1.8 67.2 7.1 64.7 10.7 65C14.2 65.3 18.1 67.2 21.4 69.5C24.6 71.7 27.9 75.1 30.3 78.4C32.7 81.6 33.8 85.5 35.6 89C37.4 92.6 39.2 96.8 41 99.7C42.7 102.7 45.4 105.7 46.3 106.9" stroke="#10b410" stroke-width="4"/><path d="M7.1 83.7C8.6 84.6 12.8 87.6 16 89C19.3 90.5 24.9 92 26.7 92.6" stroke="#10b410" stroke-width="9"/><path d="M10.7 99.7C12.2 99.1 17.2 98.5 19.6 96.2C22 93.8 24 87.3 24.9 85.5" stroke="#10b410" stroke-width="9"/><path d="M3.6 92.6L14.2 96.2" stroke="#10b410" stroke-width="9"/><path d="M21.4 115.8C22 112.5 24 110.1 26.7 108.6C29.4 107.2 34.1 106.6 37.4 106.9C40.7 107.2 43.9 108 46.3 110.4C48.7 112.8 51.4 117.5 51.6 121.1C51.9 124.7 50.2 128.5 48.1 131.8C46 135.1 42.1 139.8 39.2 140.7C36.2 141.6 32.9 139.2 30.3 137.1C27.6 135.1 24.6 131.8 23.2 128.2C21.7 124.7 20.8 119 21.4 115.8Z" stroke="#10b410" stroke-width="4.3"/><path d="M51.6 108.6C51.9 104.8 55.5 101.8 58.8 99.7C62 97.7 67.1 96.5 71.2 96.2C75.4 95.9 80.1 96.5 83.7 98C87.3 99.4 90.8 102.4 92.6 105.1C94.4 107.7 95 110.7 94.4 114C93.8 117.2 91.7 122 89 124.7C86.4 127.3 81.9 129.1 78.4 130C74.8 130.9 71.2 131.2 67.7 130C64.1 128.8 59.7 126.4 57 122.9C54.3 119.3 51.4 112.5 51.6 108.6Z" stroke="#10b410" stroke-width="4.7"/><path d="M96.2 103.3C96.8 100.3 100.3 95.3 103.3 92.6C106.3 89.9 110.4 87.6 114 87.3C117.5 87 121.7 88.8 124.7 90.8C127.6 92.9 130 96.8 131.8 99.7C133.6 102.7 135.9 106 135.4 108.6C134.8 111.3 131.2 114 128.2 115.8C125.3 117.5 121.1 119.3 117.5 119.3C114 119.3 109.8 117.2 106.9 115.8C103.9 114.3 101.5 112.5 99.7 110.4C98 108.3 95.6 106.3 96.2 103.3Z" stroke="#10b410" stroke-width="4.3"/><path d="M138.9 92.6C139.8 89.9 142.8 87 146 85.5C149.3 84 154.6 83.4 158.5 83.7C162.4 84 166.8 85.5 169.2 87.3C171.6 89 173 91.7 172.8 94.4C172.5 97.1 169.8 100.9 167.4 103.3C165 105.7 161.8 108 158.5 108.6C155.2 109.2 150.8 108 147.8 106.9C144.9 105.7 142.2 103.9 140.7 101.5C139.2 99.1 138 95.3 138.9 92.6Z" stroke="#10b410" stroke-width="4.7"/><path d="M151.4 114C153.2 111.3 157 110.1 160.3 108.6C163.6 107.2 167.7 105.1 171 105.1C174.2 105.1 178.4 106 179.9 108.6C181.4 111.3 180.5 116.9 179.9 121.1C179.3 125.3 178.4 130 176.3 133.6C174.2 137.1 170.7 140.7 167.4 142.5C164.1 144.3 159.4 145.4 156.7 144.3C154.1 143.1 152.6 138.6 151.4 135.4C150.2 132.1 149.6 128.2 149.6 124.7C149.6 121.1 149.6 116.7 151.4 114Z" stroke="#10b410" stroke-width="4"/><path d="M117.5 147.8C118.1 144 120.2 139.8 122.9 137.1C125.6 134.5 130 132.1 133.6 131.8C137.1 131.5 141.3 133.3 144.3 135.4C147.2 137.4 149.9 141.3 151.4 144.3C152.9 147.2 153.8 150.2 153.2 153.2C152.6 156.1 150.2 159.7 147.8 162.1C145.4 164.4 142.2 166.5 138.9 167.4C135.6 168.3 131.5 168.6 128.2 167.4C125 166.2 121.1 163.6 119.3 160.3C117.5 157 116.9 151.7 117.5 147.8Z" stroke="#10b410" stroke-width="4.7"/><path d="M67.7 154.9C68.3 152.3 70.1 149.6 73 147.8C76 146 81 144.9 85.5 144.3C89.9 143.7 95.6 143.4 99.7 144.3C103.9 145.1 108.3 147.2 110.4 149.6C112.5 152 112.8 155.2 112.2 158.5C111.6 161.8 109.2 166.2 106.9 169.2C104.5 172.2 101.5 174.8 98 176.3C94.4 177.8 89.3 178.7 85.5 178.1C81.6 177.5 77.5 175.1 74.8 172.8C72.1 170.4 70.6 166.8 69.5 163.8C68.3 160.9 67.1 157.6 67.7 154.9Z" stroke="#10b410" stroke-width="4.1"/><path d="M147.8 171C148.4 167.7 151.1 162.1 153.2 158.5C155.2 154.9 157.6 151.7 160.3 149.6C163 147.5 166.5 144.9 169.2 146C171.9 147.2 174.4 152.9 176.3 156.7C178.2 160.6 180.5 165.3 180.8 169.2C181.1 173 180.3 177.2 178.1 179.9C175.9 182.5 171 184.6 167.4 185.2C163.8 185.8 159.7 184.6 156.7 183.4C153.8 182.2 151.1 180.2 149.6 178.1C148.1 176 147.2 174.2 147.8 171Z" stroke="#10b410" stroke-width="4.3"/><path d="M210.2 115.8C210.2 111.9 211.6 108 213.7 105.1C215.8 102.1 219.6 98.5 222.6 98C225.6 97.4 228.9 99.4 231.5 101.5C234.2 103.6 237.5 107.2 238.6 110.4C239.8 113.7 239.8 117.8 238.6 121.1C237.5 124.4 234.5 127.6 231.5 130C228.6 132.4 223.8 135.6 220.8 135.4C217.9 135.1 215.5 131.5 213.7 128.2C211.9 125 210.2 119.6 210.2 115.8Z" stroke="#10b410" stroke-width="4"/><path d="M199.5 158.5C199.5 154.6 204.8 151.4 208.4 147.8C211.9 144.3 217.3 137.7 220.8 137.1C224.4 136.5 226.8 141.6 229.7 144.3C232.7 146.9 236.3 150.5 238.6 153.2C241 155.8 244 157.3 244 160.3C244 163.3 241 168.3 238.6 171C236.3 173.6 233 175.1 229.7 176.3C226.5 177.5 222.6 179 219.1 178.1C215.5 177.2 211.6 174.2 208.4 171C205.1 167.7 199.5 162.4 199.5 158.5Z" stroke="#10b410" stroke-width="4.1"/><path d="M160.3 44.5C161.8 43.3 165.9 39.5 169.2 37.4C172.5 35.3 176 33.5 179.9 32.1C183.7 30.6 188.2 29.1 192.3 28.5C196.5 27.9 200.4 27.9 204.8 28.5C209.3 29.1 214.6 30.3 219.1 32.1C223.5 33.8 228 36.5 231.5 39.2C235.1 41.9 237.8 45.4 240.4 48.1C243.1 50.8 246.4 54 247.6 55.2" stroke="#10b410" stroke-width="5"/><path d="M165.6 55.2C165.6 53.1 169.8 51.1 172.8 49.9C175.7 48.7 180.5 47.8 183.4 48.1C186.4 48.4 189.1 49.9 190.6 51.6C192 53.4 193.5 57 192.3 58.8C191.2 60.6 186.7 61.7 183.4 62.3C180.2 62.9 175.7 63.5 172.8 62.3C169.8 61.1 165.6 57.3 165.6 55.2Z" stroke="#10b410" stroke-width="4"/><path d="M201.2 53.4C202.4 51.1 206.6 47.5 210.2 46.3C213.7 45.1 218.8 45.4 222.6 46.3C226.5 47.2 230.3 49.6 233.3 51.6C236.3 53.7 240.1 56.4 240.4 58.8C240.7 61.1 238.1 63.8 235.1 65.9C232.1 68 226.8 70.9 222.6 71.2C218.5 71.5 213.4 69.5 210.2 67.7C206.9 65.9 204.5 62.9 203 60.6C201.5 58.2 200.1 55.8 201.2 53.4Z" stroke="#10b410" stroke-width="4.3"/><path d="M179.9 89C180.2 86.4 182.5 82.5 185.2 80.1C187.9 77.8 191.7 75.7 195.9 74.8C200.1 73.9 206 74.2 210.2 74.8C214.3 75.4 218.5 76.3 220.8 78.4C223.2 80.4 225 84.3 224.4 87.3C223.8 90.2 220.5 93.8 217.3 96.2C214 98.5 209 100.6 204.8 101.5C200.7 102.4 195.9 102.4 192.3 101.5C188.8 100.6 185.5 98.2 183.4 96.2C181.4 94.1 179.6 91.7 179.9 89Z" stroke="#10b410" stroke-width="4.1"/><path d="M154.9 53.4C156.7 51.9 161.8 47.8 165.6 44.5C169.5 41.3 176 35.6 178.1 33.8" stroke="#10b410" stroke-width="3.6"/><path d="M178.1 33.8C177.5 31.8 175.7 25.8 174.5 21.4C173.3 16.9 171.9 10.7 171 7.1C170.1 3.6 169.5 1.2 169.2 0" stroke="#10b410" stroke-width="2.2"/><path d="M156.7 78.4C158.5 76.6 163.8 70.1 167.4 67.7C171 65.3 176.3 64.7 178.1 64.1" stroke="#10b410" stroke-width="3.6"/><path d="M192.3 58.8C193.2 60.3 196.2 65.3 197.7 67.7C199.2 70.1 200.7 72.1 201.2 73" stroke="#10b410" stroke-width="3.6"/><path d="M257 51.6C255.7 53.1 250.9 57.3 249.3 60.6C247.8 63.8 247.3 68 247.6 71.2C247.8 74.5 249.5 78.4 251.1 80.1C252.7 81.9 256 81.6 257 81.9" stroke="#10b410" stroke-width="4.3"/><path d="M244 0C244.3 1.5 244.3 6.2 245.8 8.9C247.3 11.6 251 14.8 252.9 16C254.8 17.2 256.3 16 257 16" stroke="#10b410" stroke-width="3.6"/><path d="M244 156.7C245.5 157.3 250.8 157.9 252.9 160.3C255 162.7 255.9 169.2 256.5 171" stroke="#10b410" stroke-width="10.8"/><path d="M249.3 178.1L256.5 185.2" stroke="#10b410" stroke-width="9"/><path d="M257 147.8L251.1 154.9" stroke="#10b410" stroke-width="4"/><path d="M228 206.6C228.6 203.6 230.9 198.9 233.3 195.9C235.7 192.9 239.2 190.3 242.2 188.8C245.2 187.3 248.7 186.1 251.1 187C253.5 187.9 255.9 191.2 256.5 194.1C257 197.1 256.2 201.5 254.7 204.8C253.2 208.1 250.5 211.6 247.6 213.7C244.6 215.8 239.8 217.3 236.9 217.3C233.9 217.3 231.2 215.5 229.7 213.7C228.3 211.9 227.4 209.6 228 206.6Z" stroke="#10b410" stroke-width="4.1"/><path d="M3.6 219.1C3.3 214.9 5.3 209.9 7.1 206.6C8.9 203.3 11.3 200.7 14.2 199.5C17.2 198.3 21.7 198.3 24.9 199.5C28.2 200.7 31.8 203.6 33.8 206.6C35.9 209.6 37.1 213.7 37.4 217.3C37.7 220.8 37.1 224.7 35.6 228C34.1 231.2 31.5 235.1 28.5 236.9C25.5 238.6 21.1 239.5 17.8 238.6C14.5 237.8 11.3 234.8 8.9 231.5C6.5 228.3 3.9 223.2 3.6 219.1Z" stroke="#10b410" stroke-width="4.7"/><path d="M21.4 190.6C22.3 188.5 27 186.3 30.3 185.2C33.5 184.2 37.4 183.7 41 184.3C44.5 184.9 48.7 186.6 51.6 188.8C54.6 191 57.3 194.4 58.8 197.7C60.3 200.9 61.4 206 60.6 208.4C59.7 210.7 56.4 211.3 53.4 211.9C50.5 212.5 46 212.8 42.7 211.9C39.5 211 36.8 209 33.8 206.6C30.9 204.2 27 200.4 24.9 197.7C22.9 195 20.5 192.6 21.4 190.6Z" stroke="#10b410" stroke-width="4.5"/><path d="M33.8 236.9C33.5 232.7 34.7 228 35.6 224.4C36.5 220.8 37.4 217.3 39.2 215.5C41 213.7 43.9 212.8 46.3 213.7C48.7 214.6 51.9 217.9 53.4 220.8C54.9 223.8 55.2 227.7 55.2 231.5C55.2 235.4 54.6 241 53.4 244C52.2 247 50.8 248.4 48.1 249.3C45.4 250.2 39.8 251.4 37.4 249.3C35 247.3 34.1 241 33.8 236.9Z" stroke="#10b410" stroke-width="4"/><path d="M101.5 242.2C99.7 239.2 104.2 232.1 106.9 228C109.5 223.8 113.7 219.9 117.5 217.3C121.4 214.6 125.9 213 130 211.9C134.2 210.9 140.1 209.3 142.5 211C144.9 212.8 144.6 218.6 144.3 222.6C144 226.6 142.8 231.8 140.7 235.1C138.6 238.3 135.6 240.4 131.8 242.2C127.9 244 122.6 245.8 117.5 245.8C112.5 245.8 103.3 245.2 101.5 242.2Z" stroke="#10b410" stroke-width="4.3"/><path d="M144.3 211.9C145.6 208.7 148.4 204.8 151.4 203C154.3 201.2 158.8 200.7 162.1 201.2C165.3 201.8 168.9 203.9 171 206.6C173 209.3 174.5 213.4 174.5 217.3C174.5 221.1 173 226.2 171 229.7C168.9 233.3 165.3 236.9 162.1 238.6C158.8 240.4 154.3 241.3 151.4 240.4C148.4 239.5 145.6 236.3 144.3 233.3C142.9 230.3 143.4 226.2 143.4 222.6C143.4 219.1 142.9 215.2 144.3 211.9Z" stroke="#10b410" stroke-width="5"/><path d="M176.3 219.1C177.8 215.8 180.5 212.1 183.4 210.2C186.4 208.2 190.9 207.2 194.1 207.5C197.4 207.8 200.9 209.4 203 211.9C205.1 214.5 206.6 218.8 206.6 222.6C206.6 226.5 205.1 231.2 203 235.1C200.9 238.9 197.4 243.4 194.1 245.8C190.9 248.1 186.4 249.9 183.4 249.3C180.5 248.7 177.8 245.5 176.3 242.2C174.8 238.9 174.5 233.6 174.5 229.7C174.5 225.9 174.8 222.3 176.3 219.1Z" stroke="#10b410" stroke-width="4.7"/><path d="M101.5 249.3C105.4 248.4 116.4 245.2 124.7 244C133 242.8 142.5 241.3 151.4 242.2C160.3 243.1 173.6 248.1 178.1 249.3" stroke="#10b410" stroke-width="5.4"/><path d="M206.6 195.9C207.5 198.3 211.9 205.4 211.9 210.2C211.9 214.9 207.5 222 206.6 224.4" stroke="#10b410" stroke-width="4.7"/><path d="M213.7 192.3C215.2 194.7 219.9 201.5 222.6 206.6C225.3 211.6 228 217.3 229.7 222.6C231.5 228 233 233.9 233.3 238.6C233.6 243.4 231.8 248.9 231.5 250.9" stroke="#10b410" stroke-width="4.7"/><path d="M0 138.9C1.5 139.2 6.4 138.9 8.9 140.7C11.4 142.5 14.5 146.3 15.1 149.6C15.7 152.9 14.1 157.6 12.5 160.3C10.8 163 7.4 164.4 5.3 165.6C3.3 166.8 0.9 167.1 0 167.4" stroke="#10b410" stroke-width="4"/><path d="M0 5.3C0.9 6.8 4.2 11.3 5.3 14.2C6.5 17.2 6.8 21.7 7.1 23.2" stroke="#10b410" stroke-width="3.6"/></g><g filter="url(#fRough)" fill="none" stroke-linecap="round" stroke-linejoin="round"><rect width="257" height="250.9" fill="#000" fill-opacity="0" stroke="none"/><path d="M8.9 23.2C8.6 19 10.1 13.7 12.5 10.7C14.8 7.7 19.3 5.6 23.2 5.3C27 5 32.4 6.5 35.6 8.9C38.9 11.3 42.1 15.7 42.7 19.6C43.3 23.4 41 28.2 39.2 32.1C37.4 35.9 34.7 41.1 32.1 42.7C29.4 44.4 26.1 43 23.2 41.9C20.2 40.7 16.6 38.7 14.2 35.6C11.9 32.5 9.2 27.3 8.9 23.2Z" stroke="#1ff01f" stroke-width="2.3"/><path d="M48.1 3.6C50.2 0.9 56.1 -0.3 60.6 0C65 0.3 72.1 3 74.8 5.3C77.5 7.7 77.5 11 76.6 14.2C75.7 17.5 72.1 22.3 69.5 24.9C66.8 27.6 63.2 30.3 60.6 30.3C57.9 30.3 55.5 27.3 53.4 24.9C51.4 22.6 49 19.6 48.1 16C47.2 12.5 46 6.2 48.1 3.6Z" stroke="#1ff01f" stroke-width="2.3"/><path d="M39.2 44.5C41.3 45.1 47.8 47.8 51.6 48.1C55.5 48.4 60.3 47.5 62.3 46.3C64.4 45.1 63.8 41.9 64.1 41" stroke="#1ff01f" stroke-width="1.3"/><path d="M106.9 42.7C106.6 40.4 104.5 33.2 105.1 28.5C105.7 23.7 107.7 18.1 110.4 14.2C113.1 10.4 117.2 6.8 121.1 5.3C125 3.9 129.7 4.2 133.6 5.3C137.4 6.5 141.6 9.8 144.3 12.5C146.9 15.1 148.4 18.1 149.6 21.4C150.8 24.6 151.1 30.3 151.4 32.1" stroke="#1ff01f" stroke-width="2.3"/><path d="M112.2 49.9C112.5 46.3 114.9 42.9 117.5 41C120.2 39 124.7 38 128.2 38.3C131.8 38.6 136.2 40.5 138.9 42.7C141.6 45 143.7 48.4 144.3 51.6C144.9 54.9 144 59.4 142.5 62.3C141 65.3 138.3 68.3 135.4 69.5C132.4 70.6 127.9 70.6 124.7 69.5C121.4 68.3 117.8 65.6 115.8 62.3C113.7 59.1 111.9 53.4 112.2 49.9Z" stroke="#1ff01f" stroke-width="2.6"/><path d="M76.6 71.2C76.9 68.3 77.8 63.2 80.1 60.6C82.5 57.9 87.3 55.8 90.8 55.2C94.4 54.6 98.5 55.2 101.5 57C104.5 58.8 107.3 62.6 108.6 65.9C110 69.2 110.1 73.3 109.5 76.6C108.9 79.8 107.6 83.4 105.1 85.5C102.6 87.6 98 89 94.4 89C90.8 89 86.4 87.3 83.7 85.5C81 83.7 79.5 80.7 78.4 78.4C77.2 76 76.3 74.2 76.6 71.2Z" stroke="#1ff01f" stroke-width="2.6"/><path d="M0 67.7C1.8 67.2 7.1 64.7 10.7 65C14.2 65.3 18.1 67.2 21.4 69.5C24.6 71.7 27.9 75.1 30.3 78.4C32.7 81.6 33.8 85.5 35.6 89C37.4 92.6 39.2 96.8 41 99.7C42.7 102.7 45.4 105.7 46.3 106.9" stroke="#1ff01f" stroke-width="2.2"/><path d="M7.1 83.7C8.6 84.6 12.8 87.6 16 89C19.3 90.5 24.9 92 26.7 92.6" stroke="#1ff01f" stroke-width="5"/><path d="M10.7 99.7C12.2 99.1 17.2 98.5 19.6 96.2C22 93.8 24 87.3 24.9 85.5" stroke="#1ff01f" stroke-width="5"/><path d="M3.6 92.6L14.2 96.2" stroke="#1ff01f" stroke-width="5"/><path d="M21.4 115.8C22 112.5 24 110.1 26.7 108.6C29.4 107.2 34.1 106.6 37.4 106.9C40.7 107.2 43.9 108 46.3 110.4C48.7 112.8 51.4 117.5 51.6 121.1C51.9 124.7 50.2 128.5 48.1 131.8C46 135.1 42.1 139.8 39.2 140.7C36.2 141.6 32.9 139.2 30.3 137.1C27.6 135.1 24.6 131.8 23.2 128.2C21.7 124.7 20.8 119 21.4 115.8Z" stroke="#1ff01f" stroke-width="2.4"/><path d="M51.6 108.6C51.9 104.8 55.5 101.8 58.8 99.7C62 97.7 67.1 96.5 71.2 96.2C75.4 95.9 80.1 96.5 83.7 98C87.3 99.4 90.8 102.4 92.6 105.1C94.4 107.7 95 110.7 94.4 114C93.8 117.2 91.7 122 89 124.7C86.4 127.3 81.9 129.1 78.4 130C74.8 130.9 71.2 131.2 67.7 130C64.1 128.8 59.7 126.4 57 122.9C54.3 119.3 51.4 112.5 51.6 108.6Z" stroke="#1ff01f" stroke-width="2.6"/><path d="M96.2 103.3C96.8 100.3 100.3 95.3 103.3 92.6C106.3 89.9 110.4 87.6 114 87.3C117.5 87 121.7 88.8 124.7 90.8C127.6 92.9 130 96.8 131.8 99.7C133.6 102.7 135.9 106 135.4 108.6C134.8 111.3 131.2 114 128.2 115.8C125.3 117.5 121.1 119.3 117.5 119.3C114 119.3 109.8 117.2 106.9 115.8C103.9 114.3 101.5 112.5 99.7 110.4C98 108.3 95.6 106.3 96.2 103.3Z" stroke="#1ff01f" stroke-width="2.4"/><path d="M138.9 92.6C139.8 89.9 142.8 87 146 85.5C149.3 84 154.6 83.4 158.5 83.7C162.4 84 166.8 85.5 169.2 87.3C171.6 89 173 91.7 172.8 94.4C172.5 97.1 169.8 100.9 167.4 103.3C165 105.7 161.8 108 158.5 108.6C155.2 109.2 150.8 108 147.8 106.9C144.9 105.7 142.2 103.9 140.7 101.5C139.2 99.1 138 95.3 138.9 92.6Z" stroke="#1ff01f" stroke-width="2.6"/><path d="M151.4 114C153.2 111.3 157 110.1 160.3 108.6C163.6 107.2 167.7 105.1 171 105.1C174.2 105.1 178.4 106 179.9 108.6C181.4 111.3 180.5 116.9 179.9 121.1C179.3 125.3 178.4 130 176.3 133.6C174.2 137.1 170.7 140.7 167.4 142.5C164.1 144.3 159.4 145.4 156.7 144.3C154.1 143.1 152.6 138.6 151.4 135.4C150.2 132.1 149.6 128.2 149.6 124.7C149.6 121.1 149.6 116.7 151.4 114Z" stroke="#1ff01f" stroke-width="2.2"/><path d="M117.5 147.8C118.1 144 120.2 139.8 122.9 137.1C125.6 134.5 130 132.1 133.6 131.8C137.1 131.5 141.3 133.3 144.3 135.4C147.2 137.4 149.9 141.3 151.4 144.3C152.9 147.2 153.8 150.2 153.2 153.2C152.6 156.1 150.2 159.7 147.8 162.1C145.4 164.4 142.2 166.5 138.9 167.4C135.6 168.3 131.5 168.6 128.2 167.4C125 166.2 121.1 163.6 119.3 160.3C117.5 157 116.9 151.7 117.5 147.8Z" stroke="#1ff01f" stroke-width="2.6"/><path d="M67.7 154.9C68.3 152.3 70.1 149.6 73 147.8C76 146 81 144.9 85.5 144.3C89.9 143.7 95.6 143.4 99.7 144.3C103.9 145.1 108.3 147.2 110.4 149.6C112.5 152 112.8 155.2 112.2 158.5C111.6 161.8 109.2 166.2 106.9 169.2C104.5 172.2 101.5 174.8 98 176.3C94.4 177.8 89.3 178.7 85.5 178.1C81.6 177.5 77.5 175.1 74.8 172.8C72.1 170.4 70.6 166.8 69.5 163.8C68.3 160.9 67.1 157.6 67.7 154.9Z" stroke="#1ff01f" stroke-width="2.3"/><path d="M147.8 171C148.4 167.7 151.1 162.1 153.2 158.5C155.2 154.9 157.6 151.7 160.3 149.6C163 147.5 166.5 144.9 169.2 146C171.9 147.2 174.4 152.9 176.3 156.7C178.2 160.6 180.5 165.3 180.8 169.2C181.1 173 180.3 177.2 178.1 179.9C175.9 182.5 171 184.6 167.4 185.2C163.8 185.8 159.7 184.6 156.7 183.4C153.8 182.2 151.1 180.2 149.6 178.1C148.1 176 147.2 174.2 147.8 171Z" stroke="#1ff01f" stroke-width="2.4"/><path d="M210.2 115.8C210.2 111.9 211.6 108 213.7 105.1C215.8 102.1 219.6 98.5 222.6 98C225.6 97.4 228.9 99.4 231.5 101.5C234.2 103.6 237.5 107.2 238.6 110.4C239.8 113.7 239.8 117.8 238.6 121.1C237.5 124.4 234.5 127.6 231.5 130C228.6 132.4 223.8 135.6 220.8 135.4C217.9 135.1 215.5 131.5 213.7 128.2C211.9 125 210.2 119.6 210.2 115.8Z" stroke="#1ff01f" stroke-width="2.2"/><path d="M199.5 158.5C199.5 154.6 204.8 151.4 208.4 147.8C211.9 144.3 217.3 137.7 220.8 137.1C224.4 136.5 226.8 141.6 229.7 144.3C232.7 146.9 236.3 150.5 238.6 153.2C241 155.8 244 157.3 244 160.3C244 163.3 241 168.3 238.6 171C236.3 173.6 233 175.1 229.7 176.3C226.5 177.5 222.6 179 219.1 178.1C215.5 177.2 211.6 174.2 208.4 171C205.1 167.7 199.5 162.4 199.5 158.5Z" stroke="#1ff01f" stroke-width="2.3"/><path d="M160.3 44.5C161.8 43.3 165.9 39.5 169.2 37.4C172.5 35.3 176 33.5 179.9 32.1C183.7 30.6 188.2 29.1 192.3 28.5C196.5 27.9 200.4 27.9 204.8 28.5C209.3 29.1 214.6 30.3 219.1 32.1C223.5 33.8 228 36.5 231.5 39.2C235.1 41.9 237.8 45.4 240.4 48.1C243.1 50.8 246.4 54 247.6 55.2" stroke="#1ff01f" stroke-width="2.8"/><path d="M165.6 55.2C165.6 53.1 169.8 51.1 172.8 49.9C175.7 48.7 180.5 47.8 183.4 48.1C186.4 48.4 189.1 49.9 190.6 51.6C192 53.4 193.5 57 192.3 58.8C191.2 60.6 186.7 61.7 183.4 62.3C180.2 62.9 175.7 63.5 172.8 62.3C169.8 61.1 165.6 57.3 165.6 55.2Z" stroke="#1ff01f" stroke-width="2.2"/><path d="M201.2 53.4C202.4 51.1 206.6 47.5 210.2 46.3C213.7 45.1 218.8 45.4 222.6 46.3C226.5 47.2 230.3 49.6 233.3 51.6C236.3 53.7 240.1 56.4 240.4 58.8C240.7 61.1 238.1 63.8 235.1 65.9C232.1 68 226.8 70.9 222.6 71.2C218.5 71.5 213.4 69.5 210.2 67.7C206.9 65.9 204.5 62.9 203 60.6C201.5 58.2 200.1 55.8 201.2 53.4Z" stroke="#1ff01f" stroke-width="2.4"/><path d="M179.9 89C180.2 86.4 182.5 82.5 185.2 80.1C187.9 77.8 191.7 75.7 195.9 74.8C200.1 73.9 206 74.2 210.2 74.8C214.3 75.4 218.5 76.3 220.8 78.4C223.2 80.4 225 84.3 224.4 87.3C223.8 90.2 220.5 93.8 217.3 96.2C214 98.5 209 100.6 204.8 101.5C200.7 102.4 195.9 102.4 192.3 101.5C188.8 100.6 185.5 98.2 183.4 96.2C181.4 94.1 179.6 91.7 179.9 89Z" stroke="#1ff01f" stroke-width="2.3"/><path d="M154.9 53.4C156.7 51.9 161.8 47.8 165.6 44.5C169.5 41.3 176 35.6 178.1 33.8" stroke="#1ff01f" stroke-width="2"/><path d="M178.1 33.8C177.5 31.8 175.7 25.8 174.5 21.4C173.3 16.9 171.9 10.7 171 7.1C170.1 3.6 169.5 1.2 169.2 0" stroke="#1ff01f" stroke-width="1.2"/><path d="M156.7 78.4C158.5 76.6 163.8 70.1 167.4 67.7C171 65.3 176.3 64.7 178.1 64.1" stroke="#1ff01f" stroke-width="2"/><path d="M192.3 58.8C193.2 60.3 196.2 65.3 197.7 67.7C199.2 70.1 200.7 72.1 201.2 73" stroke="#1ff01f" stroke-width="2"/><path d="M257 51.6C255.7 53.1 250.9 57.3 249.3 60.6C247.8 63.8 247.3 68 247.6 71.2C247.8 74.5 249.5 78.4 251.1 80.1C252.7 81.9 256 81.6 257 81.9" stroke="#1ff01f" stroke-width="2.4"/><path d="M244 0C244.3 1.5 244.3 6.2 245.8 8.9C247.3 11.6 251 14.8 252.9 16C254.8 17.2 256.3 16 257 16" stroke="#1ff01f" stroke-width="2"/><path d="M244 156.7C245.5 157.3 250.8 157.9 252.9 160.3C255 162.7 255.9 169.2 256.5 171" stroke="#1ff01f" stroke-width="6"/><path d="M249.3 178.1L256.5 185.2" stroke="#1ff01f" stroke-width="5"/><path d="M257 147.8L251.1 154.9" stroke="#1ff01f" stroke-width="2.2"/><path d="M228 206.6C228.6 203.6 230.9 198.9 233.3 195.9C235.7 192.9 239.2 190.3 242.2 188.8C245.2 187.3 248.7 186.1 251.1 187C253.5 187.9 255.9 191.2 256.5 194.1C257 197.1 256.2 201.5 254.7 204.8C253.2 208.1 250.5 211.6 247.6 213.7C244.6 215.8 239.8 217.3 236.9 217.3C233.9 217.3 231.2 215.5 229.7 213.7C228.3 211.9 227.4 209.6 228 206.6Z" stroke="#1ff01f" stroke-width="2.3"/><path d="M3.6 219.1C3.3 214.9 5.3 209.9 7.1 206.6C8.9 203.3 11.3 200.7 14.2 199.5C17.2 198.3 21.7 198.3 24.9 199.5C28.2 200.7 31.8 203.6 33.8 206.6C35.9 209.6 37.1 213.7 37.4 217.3C37.7 220.8 37.1 224.7 35.6 228C34.1 231.2 31.5 235.1 28.5 236.9C25.5 238.6 21.1 239.5 17.8 238.6C14.5 237.8 11.3 234.8 8.9 231.5C6.5 228.3 3.9 223.2 3.6 219.1Z" stroke="#1ff01f" stroke-width="2.6"/><path d="M21.4 190.6C22.3 188.5 27 186.3 30.3 185.2C33.5 184.2 37.4 183.7 41 184.3C44.5 184.9 48.7 186.6 51.6 188.8C54.6 191 57.3 194.4 58.8 197.7C60.3 200.9 61.4 206 60.6 208.4C59.7 210.7 56.4 211.3 53.4 211.9C50.5 212.5 46 212.8 42.7 211.9C39.5 211 36.8 209 33.8 206.6C30.9 204.2 27 200.4 24.9 197.7C22.9 195 20.5 192.6 21.4 190.6Z" stroke="#1ff01f" stroke-width="2.5"/><path d="M33.8 236.9C33.5 232.7 34.7 228 35.6 224.4C36.5 220.8 37.4 217.3 39.2 215.5C41 213.7 43.9 212.8 46.3 213.7C48.7 214.6 51.9 217.9 53.4 220.8C54.9 223.8 55.2 227.7 55.2 231.5C55.2 235.4 54.6 241 53.4 244C52.2 247 50.8 248.4 48.1 249.3C45.4 250.2 39.8 251.4 37.4 249.3C35 247.3 34.1 241 33.8 236.9Z" stroke="#1ff01f" stroke-width="2.2"/><path d="M101.5 242.2C99.7 239.2 104.2 232.1 106.9 228C109.5 223.8 113.7 219.9 117.5 217.3C121.4 214.6 125.9 213 130 211.9C134.2 210.9 140.1 209.3 142.5 211C144.9 212.8 144.6 218.6 144.3 222.6C144 226.6 142.8 231.8 140.7 235.1C138.6 238.3 135.6 240.4 131.8 242.2C127.9 244 122.6 245.8 117.5 245.8C112.5 245.8 103.3 245.2 101.5 242.2Z" stroke="#1ff01f" stroke-width="2.4"/><path d="M144.3 211.9C145.6 208.7 148.4 204.8 151.4 203C154.3 201.2 158.8 200.7 162.1 201.2C165.3 201.8 168.9 203.9 171 206.6C173 209.3 174.5 213.4 174.5 217.3C174.5 221.1 173 226.2 171 229.7C168.9 233.3 165.3 236.9 162.1 238.6C158.8 240.4 154.3 241.3 151.4 240.4C148.4 239.5 145.6 236.3 144.3 233.3C142.9 230.3 143.4 226.2 143.4 222.6C143.4 219.1 142.9 215.2 144.3 211.9Z" stroke="#1ff01f" stroke-width="2.8"/><path d="M176.3 219.1C177.8 215.8 180.5 212.1 183.4 210.2C186.4 208.2 190.9 207.2 194.1 207.5C197.4 207.8 200.9 209.4 203 211.9C205.1 214.5 206.6 218.8 206.6 222.6C206.6 226.5 205.1 231.2 203 235.1C200.9 238.9 197.4 243.4 194.1 245.8C190.9 248.1 186.4 249.9 183.4 249.3C180.5 248.7 177.8 245.5 176.3 242.2C174.8 238.9 174.5 233.6 174.5 229.7C174.5 225.9 174.8 222.3 176.3 219.1Z" stroke="#1ff01f" stroke-width="2.6"/><path d="M101.5 249.3C105.4 248.4 116.4 245.2 124.7 244C133 242.8 142.5 241.3 151.4 242.2C160.3 243.1 173.6 248.1 178.1 249.3" stroke="#1ff01f" stroke-width="3"/><path d="M206.6 195.9C207.5 198.3 211.9 205.4 211.9 210.2C211.9 214.9 207.5 222 206.6 224.4" stroke="#1ff01f" stroke-width="2.6"/><path d="M213.7 192.3C215.2 194.7 219.9 201.5 222.6 206.6C225.3 211.6 228 217.3 229.7 222.6C231.5 228 233 233.9 233.3 238.6C233.6 243.4 231.8 248.9 231.5 250.9" stroke="#1ff01f" stroke-width="2.6"/><path d="M0 138.9C1.5 139.2 6.4 138.9 8.9 140.7C11.4 142.5 14.5 146.3 15.1 149.6C15.7 152.9 14.1 157.6 12.5 160.3C10.8 163 7.4 164.4 5.3 165.6C3.3 166.8 0.9 167.1 0 167.4" stroke="#1ff01f" stroke-width="2.2"/><path d="M0 5.3C0.9 6.8 4.2 11.3 5.3 14.2C6.5 17.2 6.8 21.7 7.1 23.2" stroke="#1ff01f" stroke-width="2"/></g><g filter="url(#fBlob)"><rect width="257" height="250.9" fill="#000" fill-opacity="0"/><circle cx="15.1" cy="91.7" r="7.5" fill="#1ff01f"/><circle cx="23.2" cy="83.7" r="4.5" fill="#1ff01f"/><circle cx="9.8" cy="101.5" r="4" fill="#1ff01f"/><circle cx="26.7" cy="97.1" r="3.6" fill="#1ff01f"/><circle cx="97.1" cy="154.9" r="3.6" fill="#1ff01f"/><circle cx="250.2" cy="161.2" r="5.5" fill="#1ff01f"/><circle cx="253.8" cy="180.8" r="4.2" fill="#1ff01f"/></g></svg>
<svg x="1179" y="60" width="255.3" height="251" viewBox="0 0 256 251" preserveAspectRatio="none" overflow="hidden"><rect width="256" height="251" fill="#000"/><g filter="url(#fHaze)"><rect width="256" height="251" fill="#000" fill-opacity="0"/><path d="M3.5 58.5C4.1 55 6.2 51.7 8.9 49.7C11.5 47.6 15.7 46.4 19.5 46.1C23.4 45.8 28.1 46.4 31.9 47.9C35.8 49.4 39.9 52 42.6 55C45.2 58 47.3 62.1 47.9 65.6C48.5 69.2 47.9 73.3 46.1 76.3C44.3 79.2 40.8 81.6 37.3 83.4C33.7 85.2 29 87.2 24.8 86.9C20.7 86.6 15.7 84.3 12.4 81.6C9.2 78.9 6.8 74.8 5.3 71C3.8 67.1 3 62.1 3.5 58.5Z" fill="#12c012" fill-opacity="0.43"/><path d="M33.7 99.3C34.4 97 36.7 93.7 39 92.2C41.4 90.8 44.9 89.9 47.9 90.5C50.9 91.1 55 93.4 56.8 95.8C58.5 98.2 59.4 102.2 58.5 104.7C57.7 107.2 54.4 109.8 51.4 110.9C48.5 111.9 43.6 111.6 40.8 110.9C38 110.1 35.8 108.4 34.6 106.4C33.4 104.5 33 101.7 33.7 99.3Z" fill="#12c012" fill-opacity="0.4"/><path d="M0 99.3C1.5 94 6.2 100.5 8.9 102.9C11.5 105.3 15.1 110 16 113.5C16.9 117.1 15.7 120.9 14.2 124.2C12.7 127.4 9.5 131.3 7.1 133C4.7 134.8 1.2 140.4 0 134.8C-1.2 129.2 -1.5 104.7 0 99.3Z" fill="#12c012" fill-opacity="0.4"/><path d="M67.4 95.8C66.5 91.4 68 81.6 69.2 76.3C70.4 71 71.8 66.8 74.5 63.9C77.2 60.9 81.9 58 85.2 58.5C88.4 59.1 92.1 63.9 94 67.4C95.9 71 96.7 75.7 96.7 79.8C96.7 84 95.9 88.7 94 92.2C92.1 95.8 88.4 99.3 85.2 101.1C81.9 102.9 77.5 103.8 74.5 102.9C71.6 102 68.3 100.2 67.4 95.8Z" fill="#12c012" fill-opacity="0.43"/><path d="M10.6 0C24.2 -3.5 69.5 -5.9 81.6 0C93.7 5.9 84.6 25.7 83.4 35.5C82.2 45.2 81 54.7 74.5 58.5C68 62.4 53.8 60.3 44.3 58.5C34.9 56.8 25.1 50.9 17.7 47.9C10.3 44.9 3 45.2 0 40.8C-3 36.4 -1.8 28.1 0 21.3C1.8 14.5 -3 3.5 10.6 0Z" fill="#12c012" fill-opacity="0.43"/><path d="M83.4 0C98.8 -5.9 161.4 -3.5 177.4 0C193.4 3.5 179.5 13.6 179.2 21.3C178.9 29 178.9 41.1 175.6 46.1C172.4 51.2 166.5 48.5 159.7 51.4C152.9 54.4 141 59.7 134.8 63.9C128.6 68 126.5 72.1 122.4 76.3C118.3 80.4 112.6 90.2 110 88.7C107.3 87.2 108.2 74.8 106.4 67.4C104.7 60 102.9 49.7 99.3 44.3C95.8 39 87.8 42.9 85.2 35.5C82.5 28.1 68 5.9 83.4 0Z" fill="#12c012" fill-opacity="0.45"/><path d="M99.3 67.4C102.3 64.5 117.7 68.9 124.2 74.5C130.7 80.1 138.4 97 138.4 101.1C138.4 105.3 129.5 100.8 124.2 99.3C118.9 97.9 110.6 97.6 106.4 92.2C102.3 86.9 96.4 70.4 99.3 67.4Z" fill="#12c012" fill-opacity="0.32"/><path d="M159.7 51.4C160.8 47.9 166.2 49.4 170.3 49.7C174.4 50 180.1 51.4 184.5 53.2C188.9 55 193.1 57.7 196.9 60.3C200.8 63 204.9 65.6 207.6 69.2C210.2 72.7 214.1 79.2 212.9 81.6C211.7 84 204.6 83.7 200.5 83.4C196.3 83.1 192.2 81 188 79.8C183.9 78.6 179.8 77.8 175.6 76.3C171.5 74.8 165.9 75.1 163.2 71C160.5 66.8 158.5 55 159.7 51.4Z" fill="#12c012" fill-opacity="0.43"/><path d="M122.4 76.3C123 72.4 130.7 68.9 134.8 65.6C139 62.4 143.1 59.1 147.2 56.8C151.4 54.4 157 49.1 159.7 51.4C162.3 53.8 164.7 66.5 163.2 71C161.7 75.4 154 75.1 150.8 78.1C147.5 81 145.8 84.9 143.7 88.7C141.6 92.5 140.4 101.1 138.4 101.1C136.3 101.1 133.9 92.8 131.3 88.7C128.6 84.6 121.8 80.1 122.4 76.3Z" fill="#12c012" fill-opacity="0.36"/><path d="M175.6 78.1C174.7 80.4 175.9 88.7 177.4 92.2C178.9 95.8 181.5 97.6 184.5 99.3C187.5 101.1 191.6 102.7 195.1 102.9C198.7 103 202.5 101.7 205.8 100.2C209 98.8 212.4 96.5 214.7 94C216.9 91.5 219.7 87.1 219.1 85.2C218.5 83.2 215.1 83.1 211.1 82.5C207.1 81.9 199.9 82.3 195.1 81.6C190.4 80.9 186 78.6 182.7 78.1C179.5 77.5 176.5 75.7 175.6 78.1Z" fill="#12c012" fill-opacity="0.4"/><path d="M138.4 101.1C138.4 97.6 141.6 92.5 143.7 88.7C145.8 84.9 148.1 81 150.8 78.1C153.5 75.1 157.6 70.1 159.7 71C161.7 71.8 162.6 79.2 163.2 83.4C163.8 87.5 163.8 92 163.2 95.8C162.6 99.6 161.4 103.5 159.7 106.4C157.9 109.4 155.2 112.9 152.6 113.5C149.9 114.1 146.1 112.1 143.7 110C141.3 107.9 138.4 104.7 138.4 101.1Z" fill="#12c012" fill-opacity="0.4"/><path d="M215.5 56.8C215.8 53.5 220.1 52.6 223.5 51.4C226.9 50.3 232.1 49.4 235.9 49.7C239.8 50 243.9 51.4 246.6 53.2C249.2 55 251 57.4 251.9 60.3C252.8 63.3 253.1 68 251.9 71C250.7 73.9 248.1 76.9 244.8 78.1C241.6 79.2 236.2 79.2 232.4 78.1C228.5 76.9 224.6 74.5 221.7 71C218.9 67.4 215.2 60 215.5 56.8Z" fill="#12c012" fill-opacity="0.47"/><path d="M221.7 120.6C222.3 118 225.6 115.3 228.8 113.5C232.1 111.8 236.7 110.9 241.3 110C245.8 109.1 253 106.1 256 108.2C258.9 110.3 259 118 259 122.4C259 126.8 258.4 132.5 256 134.8C253.6 137.2 248.7 136.6 244.8 136.6C240.9 136.6 235.6 136 232.4 134.8C229.1 133.6 227.1 131.9 225.3 129.5C223.5 127.1 221.2 123.3 221.7 120.6Z" fill="#12c012" fill-opacity="0.43"/><path d="M194.3 141.9C195 138.4 196.5 132.6 198.7 129.5C200.9 126.4 204.3 124.2 207.6 123.3C210.8 122.4 215.2 122.8 218.2 124.2C221.2 125.5 224.1 128.3 225.3 131.3C226.5 134.2 226.2 138.7 225.3 141.9C224.4 145.2 222.3 148.1 220 150.8C217.6 153.5 214.7 156.7 211.1 157.9C207.6 159.1 201.5 159.1 198.7 157.9C195.9 156.7 195 153.5 194.3 150.8C193.5 148.1 193.5 145.5 194.3 141.9Z" fill="#12c012" fill-opacity="0.4"/><path d="M227.1 163.2C226.8 160.3 229.4 154.9 232.4 152.6C235.3 150.2 240.9 149.3 244.8 149C248.7 148.7 253.6 149 256 150.8C258.4 152.6 259 156.7 259 159.7C259 162.6 258.4 166.5 256 168.5C253.6 170.6 248.4 171.8 244.8 172.1C241.2 172.4 237.1 171.8 234.2 170.3C231.2 168.8 227.4 166.2 227.1 163.2Z" fill="#12c012" fill-opacity="0.43"/><path d="M211.1 157.9C214.1 153.5 220.9 145.2 227.1 141.9C233.3 138.7 243.5 136.9 248.4 138.4C253.2 139.8 254.7 145.5 256 150.8C257.3 156.1 257.6 166.8 256 170.3C254.4 173.9 249.3 168.2 246.6 172.1C243.8 175.9 244.2 190.7 239.5 193.4C234.8 196 223.2 192.2 218.2 188C213.2 183.9 210.5 173.6 209.3 168.5C208.1 163.5 208.1 162.3 211.1 157.9Z" fill="#12c012" fill-opacity="0.5"/><path d="M143.7 124.2C144.6 120.9 147.5 117.5 150.8 115.3C154 113.1 159.1 111.2 163.2 110.9C167.3 110.6 172.4 111.3 175.6 113.5C178.9 115.8 180.7 120.3 182.7 124.2C184.8 128 188.9 133.9 188 136.6C187.2 139.3 181.5 139.3 177.4 140.1C173.3 141 167.3 141.6 163.2 141.9C159.1 142.2 155.5 143.1 152.6 141.9C149.6 140.7 146.9 137.8 145.5 134.8C144 131.9 142.8 127.4 143.7 124.2Z" fill="#12c012" fill-opacity="0.43"/><path d="M150.8 147.2C151.5 144.9 152.9 144.6 156.1 143.7C159.4 142.8 165.3 142.1 170.3 141.9C175.3 141.8 182.7 141.3 186.3 142.8C189.8 144.3 190.7 147.7 191.6 150.8C192.5 153.9 192.8 158.6 191.6 161.4C190.4 164.2 188 166.3 184.5 167.6C180.9 169 174.7 169.9 170.3 169.4C165.9 169 161 166.9 157.9 165C154.8 163.1 152.9 160.8 151.7 157.9C150.5 154.9 150.1 149.6 150.8 147.2Z" fill="#12c012" fill-opacity="0.43"/><path d="M94 140.1C94.3 136.6 96.7 133.8 99.3 131.3C102 128.8 106.1 126.2 110 125.1C113.8 123.9 118.9 123.1 122.4 124.2C126 125.2 128.9 128.6 131.3 131.3C133.6 133.9 135.1 137.2 136.6 140.1C138.1 143.1 141.6 146.9 140.1 149C138.7 151.1 131.9 151.4 127.7 152.6C123.6 153.7 119.2 154.9 115.3 156.1C111.5 157.3 107.6 160.3 104.7 159.7C101.7 159.1 99.3 155.8 97.6 152.6C95.8 149.3 93.7 143.7 94 140.1Z" fill="#12c012" fill-opacity="0.4"/><path d="M24.8 147.2C24.8 144.3 27.5 140.1 30.2 136.6C32.8 133 37 128.6 40.8 126C44.6 123.3 48.8 121.5 53.2 120.6C57.7 119.7 64.5 120 67.4 120.6C70.4 121.2 71.8 122.4 71 124.2C70.1 126 64.2 128.3 62.1 131.3C60 134.2 59.4 139 58.5 141.9C57.7 144.9 59.4 147.5 56.8 149C54.1 150.5 47 149.9 42.6 150.8C38.1 151.7 33.1 154.9 30.2 154.3C27.2 153.7 24.8 150.2 24.8 147.2Z" fill="#12c012" fill-opacity="0.4"/><path d="M24.8 159.7C25.7 157.6 27.2 155.8 30.2 154.3C33.1 152.9 38.4 151.7 42.6 150.8C46.7 149.9 52.2 147.5 55 149C57.8 150.5 58.5 155.8 59.4 159.7C60.3 163.5 60.8 168.2 60.3 172.1C59.9 175.9 58.5 180.1 56.8 182.7C55 185.4 52.6 187.7 49.7 188C46.7 188.3 42.3 186.6 39 184.5C35.8 182.4 32.5 178.6 30.2 175.6C27.8 172.7 25.7 169.4 24.8 166.8C23.9 164.1 23.9 161.7 24.8 159.7Z" fill="#12c012" fill-opacity="0.43"/><path d="M62.1 131.3C63.3 128.2 67.7 125.7 71 125.1C74.2 124.5 78.1 126.7 81.6 127.7C85.2 128.8 90.3 129.2 92.2 131.3C94.2 133.3 92.5 136.9 93.1 140.1C93.7 143.4 96.5 148.1 95.8 150.8C95.1 153.5 91.1 154.6 88.7 156.1C86.3 157.6 84.6 160.3 81.6 159.7C78.6 159.1 73.9 155.2 71 152.6C68 149.9 65.3 147.2 63.9 143.7C62.4 140.1 60.9 134.4 62.1 131.3Z" fill="#12c012" fill-opacity="0.36"/><path d="M104.7 186.3C107.3 183.6 117.1 181.8 122.4 182.7C127.7 183.6 134.5 187.2 136.6 191.6C138.7 196 136.9 204.9 134.8 209.3C132.8 213.8 128 217.6 124.2 218.2C120.3 218.8 114.7 216.1 111.8 212.9C108.8 209.6 107.6 203.1 106.4 198.7C105.3 194.3 102 188.9 104.7 186.3Z" fill="#12c012" fill-opacity="1.0"/><path d="M110 189.8C112.9 186.3 127.7 186.3 131.3 189.8C134.8 193.4 134.2 207.6 131.3 211.1C128.3 214.7 117.1 214.7 113.5 211.1C110 207.6 107 193.4 110 189.8Z" fill="#12c012" fill-opacity="1.0"/><path d="M60.3 173.9C65.6 169.4 77.5 167.3 85.2 170.3C92.8 173.3 101.7 193.4 106.4 191.6C111.2 189.8 106.7 164.7 113.5 159.7C120.3 154.6 141.3 157.3 147.2 161.4C153.2 165.6 147.2 179.2 149 184.5C150.8 189.8 155.8 185.7 157.9 193.4C160 201.1 158.2 223.8 161.4 230.6C164.7 237.4 175 230.8 177.4 234.2C179.8 237.6 188 248.2 175.6 251C163.2 253.8 117.4 254.7 102.9 251C88.4 247.3 94.3 235.2 88.7 228.8C83.1 222.5 75.1 218.2 69.2 212.9C63.3 207.6 54.7 203.4 53.2 196.9C51.7 190.4 55 178.3 60.3 173.9Z" fill="#12c012" fill-opacity="0.4"/><path d="M63.9 147.2C65 147.5 76.3 158.8 81.6 159.7C86.9 160.5 90.5 152.6 95.8 152.6C101.1 152.6 111.2 153.7 113.5 159.7C115.9 165.6 112.9 184.2 110 188C107 191.9 101.7 187.7 95.8 182.7C89.9 177.7 79.8 163.8 74.5 157.9C69.2 152 62.7 146.9 63.9 147.2Z" fill="#12c012" fill-opacity="0.32"/><path d="M1.8 193.4C1.8 190.3 3.3 187.3 5.3 185.4C7.4 183.5 11.2 182 14.2 181.8C17.1 181.7 20.7 182.6 23.1 184.5C25.4 186.4 27.5 190.7 28.4 193.4C29.3 196 29.3 198.2 28.4 200.5C27.5 202.7 25.4 205.3 23.1 206.7C20.7 208 17.1 208.9 14.2 208.4C11.2 208 7.4 206.5 5.3 204C3.3 201.5 1.8 196.5 1.8 193.4Z" fill="#12c012" fill-opacity="0.47"/><path d="M0 218.2C1.8 213.3 8.6 218.8 10.6 221.7C12.7 224.7 13 231.1 12.4 235.9C11.8 240.8 9.2 248.5 7.1 251C5 253.5 1.2 256.5 0 251C-1.2 245.6 -1.8 223.1 0 218.2Z" fill="#12c012" fill-opacity="1.0"/><path d="M7.1 227.1C10.6 222.8 26 224.7 31.9 225.3C37.8 225.9 40.5 226.3 42.6 230.6C44.6 234.9 49.7 247.6 44.3 251C39 254.4 16.9 255 10.6 251C4.4 247 3.5 231.4 7.1 227.1Z" fill="#12c012" fill-opacity="0.43"/><path d="M186.3 251C181.2 250 191.6 246.7 195.1 244.8C198.7 242.9 203.7 240.7 207.6 239.5C211.4 238.3 215.2 235.8 218.2 237.7C221.2 239.6 230.6 248.8 225.3 251C220 253.2 191.3 252.1 186.3 251Z" fill="#12c012" fill-opacity="0.36"/><path d="M248.4 241.3C245.9 240.7 243 240.1 241.3 237.7C239.5 235.3 237.7 230.3 237.7 227.1C237.7 223.8 239.2 220.1 241.3 218.2C243.3 216.3 247.7 215.5 250.1 215.5C252.6 215.5 255 213.9 256 218.2C257 222.5 257.3 237.4 256 241.3C254.7 245.1 250.8 241.9 248.4 241.3Z" fill="#12c012" fill-opacity="0.4"/><path d="M235.9 0C238.7 -3.5 252.6 -4.7 256 0C259.3 4.7 257.3 23.9 256 28.4C254.7 32.8 251.1 27.8 248.4 26.6C245.6 25.4 241.6 25.7 239.5 21.3C237.4 16.9 233.2 3.5 235.9 0Z" fill="#12c012" fill-opacity="0.32"/><path d="M177.4 0C178.6 -5.9 183.9 -3.5 184.5 0C185.1 3.5 182.1 15.4 180.9 21.3C179.8 27.2 178 39 177.4 35.5C176.8 31.9 176.2 5.9 177.4 0Z" fill="#12c012" fill-opacity="0.22"/></g><g filter="url(#fGlow)" fill="none" stroke-linecap="round" stroke-linejoin="round"><rect width="256" height="251" fill="#000" fill-opacity="0" stroke="none"/><path d="M3.5 58.5C4.1 55 6.2 51.7 8.9 49.7C11.5 47.6 15.7 46.4 19.5 46.1C23.4 45.8 28.1 46.4 31.9 47.9C35.8 49.4 39.9 52 42.6 55C45.2 58 47.3 62.1 47.9 65.6C48.5 69.2 47.9 73.3 46.1 76.3C44.3 79.2 40.8 81.6 37.3 83.4C33.7 85.2 29 87.2 24.8 86.9C20.7 86.6 15.7 84.3 12.4 81.6C9.2 78.9 6.8 74.8 5.3 71C3.8 67.1 3 62.1 3.5 58.5Z" stroke="#10b410" stroke-width="4.1"/><path d="M33.7 99.3C34.4 97 36.7 93.7 39 92.2C41.4 90.8 44.9 89.9 47.9 90.5C50.9 91.1 55 93.4 56.8 95.8C58.5 98.2 59.4 102.2 58.5 104.7C57.7 107.2 54.4 109.8 51.4 110.9C48.5 111.9 43.6 111.6 40.8 110.9C38 110.1 35.8 108.4 34.6 106.4C33.4 104.5 33 101.7 33.7 99.3Z" stroke="#10b410" stroke-width="3.6"/><path d="M0 99.3C1.5 99.9 6.2 100.5 8.9 102.9C11.5 105.3 15.1 110 16 113.5C16.9 117.1 15.7 120.9 14.2 124.2C12.7 127.4 9.5 131.3 7.1 133C4.7 134.8 1.2 134.5 0 134.8" stroke="#10b410" stroke-width="3.6"/><path d="M67.4 95.8C66.5 91.4 68 81.6 69.2 76.3C70.4 71 71.8 66.8 74.5 63.9C77.2 60.9 81.9 58 85.2 58.5C88.4 59.1 92.1 63.9 94 67.4C95.9 71 96.7 75.7 96.7 79.8C96.7 84 95.9 88.7 94 92.2C92.1 95.8 88.4 99.3 85.2 101.1C81.9 102.9 77.5 103.8 74.5 102.9C71.6 102 68.3 100.2 67.4 95.8Z" stroke="#10b410" stroke-width="3.2"/><path d="M0 40.8C2.4 41.7 8.9 43.8 14.2 46.1C19.5 48.5 26.6 53.2 31.9 55C37.3 56.8 41.1 56.2 46.1 56.8C51.2 57.4 59.4 58.2 62.1 58.5" stroke="#10b410" stroke-width="4"/><path d="M26.6 17.7C27.5 20.1 30.5 27.5 31.9 31.9C33.4 36.4 33.7 40.5 35.5 44.3C37.3 48.2 41.4 53.2 42.6 55" stroke="#10b410" stroke-width="4.3"/><path d="M17.7 10.6C19.2 11.8 22.8 15.7 26.6 17.7C30.5 19.8 36.4 20.1 40.8 23.1C45.2 26 49.7 30.5 53.2 35.5C56.8 40.5 60.6 50.3 62.1 53.2" stroke="#10b410" stroke-width="3.6"/><path d="M58.5 5.3C56.5 6.8 50 11.2 46.1 14.2C42.3 17.1 37.3 21.6 35.5 23.1" stroke="#10b410" stroke-width="3.6"/><path d="M0 5.3C1.2 5 4.7 3.3 7.1 3.5C9.5 3.8 12.4 5.9 14.2 7.1C16 8.3 17.1 10.1 17.7 10.6" stroke="#10b410" stroke-width="2.9"/><path d="M104.7 8.9C103.2 10.6 98.8 16 95.8 19.5C92.8 23.1 89.9 26.6 86.9 30.2C84 33.7 79.5 39 78.1 40.8" stroke="#10b410" stroke-width="3.6"/><path d="M111.8 47.9C111.5 45.8 109.4 39.3 110 35.5C110.6 31.6 114.4 26.6 115.3 24.8" stroke="#10b410" stroke-width="2.5"/><path d="M122.4 76.3C124.5 74.5 130.7 68.9 134.8 65.6C139 62.4 143.1 59.1 147.2 56.8C151.4 54.4 155.8 52.6 159.7 51.4C163.5 50.3 166.2 49.4 170.3 49.7C174.4 50 180.1 51.4 184.5 53.2C188.9 55 193.1 57.7 196.9 60.3C200.8 63 204.9 66.2 207.6 69.2C210.2 72.1 211.1 75.4 212.9 78.1C214.7 80.7 217.3 84 218.2 85.2" stroke="#10b410" stroke-width="4.3"/><path d="M159.7 51.4C160 53.2 160.8 58.8 161.4 62.1C162 65.3 160.8 68.6 163.2 71C165.6 73.3 171.5 74.8 175.6 76.3C179.8 77.8 183.9 78.6 188 79.8C192.2 81 196.3 82.8 200.5 83.4C204.6 84 210.8 83.4 212.9 83.4" stroke="#10b410" stroke-width="4.3"/><path d="M175.6 78.1C174.7 80.4 175.9 88.7 177.4 92.2C178.9 95.8 181.5 97.6 184.5 99.3C187.5 101.1 191.6 102.7 195.1 102.9C198.7 103 202.5 101.7 205.8 100.2C209 98.8 212.4 96.5 214.7 94C216.9 91.5 219.7 87.1 219.1 85.2C218.5 83.2 215.1 83.1 211.1 82.5C207.1 81.9 199.9 82.3 195.1 81.6C190.4 80.9 186 78.6 182.7 78.1C179.5 77.5 176.5 75.7 175.6 78.1Z" stroke="#10b410" stroke-width="4.3"/><path d="M147.2 5.3C147.8 8 149.3 16.3 150.8 21.3C152.3 26.3 154.6 30.5 156.1 35.5C157.6 40.5 159.1 48.8 159.7 51.4" stroke="#10b410" stroke-width="4.7"/><path d="M138.4 101.1C138.4 97.6 141.6 92.5 143.7 88.7C145.8 84.9 148.1 81 150.8 78.1C153.5 75.1 157.6 70.1 159.7 71C161.7 71.8 162.6 79.2 163.2 83.4C163.8 87.5 163.8 92 163.2 95.8C162.6 99.6 161.4 103.5 159.7 106.4C157.9 109.4 155.2 112.9 152.6 113.5C149.9 114.1 146.1 112.1 143.7 110C141.3 107.9 138.4 104.7 138.4 101.1Z" stroke="#10b410" stroke-width="4.3"/><path d="M122.4 76.3C123.9 78.4 128.6 84.6 131.3 88.7C133.9 92.8 137.2 99 138.4 101.1" stroke="#10b410" stroke-width="3.6"/><path d="M215.5 56.8C215.8 53.5 220.1 52.6 223.5 51.4C226.9 50.3 232.1 49.4 235.9 49.7C239.8 50 243.9 51.4 246.6 53.2C249.2 55 251 57.4 251.9 60.3C252.8 63.3 253.1 68 251.9 71C250.7 73.9 248.1 76.9 244.8 78.1C241.6 79.2 236.2 79.2 232.4 78.1C228.5 76.9 224.6 74.5 221.7 71C218.9 67.4 215.2 60 215.5 56.8Z" stroke="#10b410" stroke-width="4"/><path d="M221.7 120.6C222.3 118 225.6 115.3 228.8 113.5C232.1 111.8 236.7 110.9 241.3 110C245.8 109.1 253 106.1 256 108.2C258.9 110.3 259 118 259 122.4C259 126.8 258.4 132.5 256 134.8C253.6 137.2 248.7 136.6 244.8 136.6C240.9 136.6 235.6 136 232.4 134.8C229.1 133.6 227.1 131.9 225.3 129.5C223.5 127.1 221.2 123.3 221.7 120.6Z" stroke="#10b410" stroke-width="4"/><path d="M194.3 141.9C195 138.4 196.5 132.6 198.7 129.5C200.9 126.4 204.3 124.2 207.6 123.3C210.8 122.4 215.2 122.8 218.2 124.2C221.2 125.5 224.1 128.3 225.3 131.3C226.5 134.2 226.2 138.7 225.3 141.9C224.4 145.2 222.3 148.1 220 150.8C217.6 153.5 214.7 156.7 211.1 157.9C207.6 159.1 201.5 159.1 198.7 157.9C195.9 156.7 195 153.5 194.3 150.8C193.5 148.1 193.5 145.5 194.3 141.9Z" stroke="#10b410" stroke-width="4"/><path d="M227.1 163.2C226.8 160.3 229.4 154.9 232.4 152.6C235.3 150.2 240.9 149.3 244.8 149C248.7 148.7 253.6 149 256 150.8C258.4 152.6 259 156.7 259 159.7C259 162.6 258.4 166.5 256 168.5C253.6 170.6 248.4 171.8 244.8 172.1C241.2 172.4 237.1 171.8 234.2 170.3C231.2 168.8 227.4 166.2 227.1 163.2Z" stroke="#10b410" stroke-width="4"/><path d="M211.1 157.9C210.8 159.7 209 164.7 209.3 168.5C209.6 172.4 211.4 177.7 212.9 180.9C214.4 184.2 215.2 186.3 218.2 188C221.2 189.8 227.4 190.7 230.6 191.6C233.9 192.5 236.5 193.1 237.7 193.4" stroke="#10b410" stroke-width="4.3"/><path d="M239.5 193.4C239.8 191.3 240.1 184.5 241.3 180.9C242.4 177.4 245.7 173.6 246.6 172.1" stroke="#10b410" stroke-width="4"/><path d="M225.3 141.9L235.9 147.2" stroke="#10b410" stroke-width="3.6"/><path d="M246.6 138.4L248.4 149" stroke="#10b410" stroke-width="3.6"/><path d="M143.7 124.2C144.6 120.9 147.5 117.5 150.8 115.3C154 113.1 159.1 111.2 163.2 110.9C167.3 110.6 172.4 111.3 175.6 113.5C178.9 115.8 180.7 120.3 182.7 124.2C184.8 128 188.9 133.9 188 136.6C187.2 139.3 181.5 139.3 177.4 140.1C173.3 141 167.3 141.6 163.2 141.9C159.1 142.2 155.5 143.1 152.6 141.9C149.6 140.7 146.9 137.8 145.5 134.8C144 131.9 142.8 127.4 143.7 124.2Z" stroke="#10b410" stroke-width="4"/><path d="M150.8 147.2C151.5 144.9 152.9 144.6 156.1 143.7C159.4 142.8 165.3 142.1 170.3 141.9C175.3 141.8 182.7 141.3 186.3 142.8C189.8 144.3 190.7 147.7 191.6 150.8C192.5 153.9 192.8 158.6 191.6 161.4C190.4 164.2 188 166.3 184.5 167.6C180.9 169 174.7 169.9 170.3 169.4C165.9 169 161 166.9 157.9 165C154.8 163.1 152.9 160.8 151.7 157.9C150.5 154.9 150.1 149.6 150.8 147.2Z" stroke="#10b410" stroke-width="4.3"/><path d="M94 140.1C94.3 136.6 96.7 133.8 99.3 131.3C102 128.8 106.1 126.2 110 125.1C113.8 123.9 118.9 123.1 122.4 124.2C126 125.2 128.9 128.6 131.3 131.3C133.6 133.9 135.1 137.2 136.6 140.1C138.1 143.1 141.6 146.9 140.1 149C138.7 151.1 131.9 151.4 127.7 152.6C123.6 153.7 119.2 154.9 115.3 156.1C111.5 157.3 107.6 160.3 104.7 159.7C101.7 159.1 99.3 155.8 97.6 152.6C95.8 149.3 93.7 143.7 94 140.1Z" stroke="#10b410" stroke-width="4.3"/><path d="M24.8 147.2C24.8 144.3 27.5 140.1 30.2 136.6C32.8 133 37 128.6 40.8 126C44.6 123.3 48.8 121.5 53.2 120.6C57.7 119.7 64.5 120 67.4 120.6C70.4 121.2 71.8 122.4 71 124.2C70.1 126 64.2 128.3 62.1 131.3C60 134.2 59.4 139 58.5 141.9C57.7 144.9 59.4 147.5 56.8 149C54.1 150.5 47 149.9 42.6 150.8C38.1 151.7 33.1 154.9 30.2 154.3C27.2 153.7 24.8 150.2 24.8 147.2Z" stroke="#10b410" stroke-width="4"/><path d="M24.8 159.7C25.7 157.6 27.2 155.8 30.2 154.3C33.1 152.9 38.4 151.7 42.6 150.8C46.7 149.9 52.2 147.5 55 149C57.8 150.5 58.5 155.8 59.4 159.7C60.3 163.5 60.8 168.2 60.3 172.1C59.9 175.9 58.5 180.1 56.8 182.7C55 185.4 52.6 187.7 49.7 188C46.7 188.3 42.3 186.6 39 184.5C35.8 182.4 32.5 178.6 30.2 175.6C27.8 172.7 25.7 169.4 24.8 166.8C23.9 164.1 23.9 161.7 24.8 159.7Z" stroke="#10b410" stroke-width="4.1"/><path d="M62.1 131.3C63.3 128.2 67.7 125.7 71 125.1C74.2 124.5 78.1 126.7 81.6 127.7C85.2 128.8 90.3 129.2 92.2 131.3C94.2 133.3 92.5 136.9 93.1 140.1C93.7 143.4 96.5 148.1 95.8 150.8C95.1 153.5 91.1 154.6 88.7 156.1C86.3 157.6 84.6 160.3 81.6 159.7C78.6 159.1 73.9 155.2 71 152.6C68 149.9 65.3 147.2 63.9 143.7C62.4 140.1 60.9 134.4 62.1 131.3Z" stroke="#10b410" stroke-width="4"/><path d="M63.9 143.7C65.6 146.1 71 153.5 74.5 157.9C78.1 162.3 81.6 166.2 85.2 170.3C88.7 174.4 92.2 179.2 95.8 182.7C99.3 186.3 103.5 189.5 106.4 191.6C109.4 193.7 112.4 194.5 113.5 195.1" stroke="#10b410" stroke-width="4.3"/><path d="M111.8 195.1C113.8 195.7 120.9 198.7 124.2 198.7C127.4 198.7 130.1 195.7 131.3 195.1" stroke="#10b410" stroke-width="12.6"/><path d="M115.3 205.8L127.7 207.6" stroke="#10b410" stroke-width="12.6"/><path d="M120.6 191.6L122.4 212.9" stroke="#10b410" stroke-width="10.8"/><path d="M120.6 200.5C119.7 204 117.4 215.2 115.3 221.7C113.2 228.3 110.3 234.6 108.2 239.5C106.1 244.4 103.8 249.1 102.9 251" stroke="#10b410" stroke-width="5"/><path d="M124.2 204C125.1 207 128 215.8 129.5 221.7C131 227.7 132.2 234.6 133 239.5C133.9 244.4 134.5 249.1 134.8 251" stroke="#10b410" stroke-width="5"/><path d="M113.5 159.7C112.9 161.4 110 166.2 110 170.3C110 174.4 112.1 180.7 113.5 184.5C115 188.3 118 191.9 118.9 193.4" stroke="#10b410" stroke-width="3.6"/><path d="M147.2 161.4C147.5 163.5 149.3 170 149 173.9C148.7 177.7 147.8 181.5 145.5 184.5C143.1 187.5 136.6 190.4 134.8 191.6" stroke="#10b410" stroke-width="3.6"/><path d="M42.6 188C44.3 189.5 50.3 194 53.2 196.9C56.2 199.9 57.7 203.1 60.3 205.8C63 208.4 66.2 210.5 69.2 212.9C72.1 215.2 74.8 217.3 78.1 220C81.3 222.6 85.4 225.9 88.7 228.8C92 231.8 95.2 234.5 97.6 237.7C99.9 241 102 246.6 102.9 248.4" stroke="#10b410" stroke-width="4.7"/><path d="M1.8 193.4C1.8 190.3 3.3 187.3 5.3 185.4C7.4 183.5 11.2 182 14.2 181.8C17.1 181.7 20.7 182.6 23.1 184.5C25.4 186.4 27.5 190.7 28.4 193.4C29.3 196 29.3 198.2 28.4 200.5C27.5 202.7 25.4 205.3 23.1 206.7C20.7 208 17.1 208.9 14.2 208.4C11.2 208 7.4 206.5 5.3 204C3.3 201.5 1.8 196.5 1.8 193.4Z" stroke="#10b410" stroke-width="3.6"/><path d="M1.8 223.5C2.7 224.7 6.5 227.7 7.1 230.6C7.7 233.6 5.6 239.5 5.3 241.3" stroke="#10b410" stroke-width="10.8"/><path d="M0 218.2C1.2 219.7 3.8 225.3 7.1 227.1C10.3 228.8 15.4 229.1 19.5 228.8C23.7 228.5 28.4 225 31.9 225.3C35.5 225.6 38.7 227.4 40.8 230.6C42.9 233.9 43.8 242.4 44.3 244.8" stroke="#10b410" stroke-width="4.3"/><path d="M7.1 227.1C7.4 229.1 8.3 235.5 8.9 239.5C9.5 243.5 10.3 249.1 10.6 251" stroke="#10b410" stroke-width="4.3"/><path d="M141.9 195.1C142.5 197.2 143.4 207.9 145.5 207.6C147.5 207.3 152.4 193.1 154.3 193.4C156.3 193.7 156.1 204.3 157 209.3C157.9 214.4 158.9 220 159.7 223.5C160.4 227.1 158.8 229.1 161.4 230.6C164.1 232.1 173 230.3 175.6 232.4C178.3 234.5 177.4 239.9 177.4 243C177.4 246.1 175.9 249.7 175.6 251" stroke="#10b410" stroke-width="4"/><path d="M140.1 244.8C141.9 243.6 147.2 239.8 150.8 237.7C154.3 235.6 159.7 233.3 161.4 232.4" stroke="#10b410" stroke-width="4.3"/><path d="M154.3 193.4C152.3 195.1 144.9 199.3 141.9 204C139 208.7 137.8 216.4 136.6 221.7C135.4 227.1 134.8 231.5 134.8 235.9C134.8 240.4 136.3 246.3 136.6 248.4" stroke="#10b410" stroke-width="3.6"/><path d="M186.3 251C187.7 250 191.6 246.7 195.1 244.8C198.7 242.9 203.7 240.7 207.6 239.5C211.4 238.3 215.5 237.1 218.2 237.7C220.9 238.3 222.6 242.2 223.5 243" stroke="#10b410" stroke-width="3.6"/><path d="M248.4 241.3C247.2 240.7 243 240.1 241.3 237.7C239.5 235.3 237.7 230.3 237.7 227.1C237.7 223.8 239.2 220.1 241.3 218.2C243.3 216.3 247.7 215.5 250.1 215.5C252.6 215.5 255 217.8 256 218.2" stroke="#10b410" stroke-width="3.6"/><path d="M235.9 0C236.2 2.4 236.8 10.3 237.7 14.2C238.6 18 239.5 21 241.3 23.1C243 25.1 247.2 26 248.4 26.6" stroke="#10b410" stroke-width="2.9"/></g><g filter="url(#fRough)" fill="none" stroke-linecap="round" stroke-linejoin="round"><rect width="256" height="251" fill="#000" fill-opacity="0" stroke="none"/><path d="M3.5 58.5C4.1 55 6.2 51.7 8.9 49.7C11.5 47.6 15.7 46.4 19.5 46.1C23.4 45.8 28.1 46.4 31.9 47.9C35.8 49.4 39.9 52 42.6 55C45.2 58 47.3 62.1 47.9 65.6C48.5 69.2 47.9 73.3 46.1 76.3C44.3 79.2 40.8 81.6 37.3 83.4C33.7 85.2 29 87.2 24.8 86.9C20.7 86.6 15.7 84.3 12.4 81.6C9.2 78.9 6.8 74.8 5.3 71C3.8 67.1 3 62.1 3.5 58.5Z" stroke="#1ff01f" stroke-width="2.3"/><path d="M33.7 99.3C34.4 97 36.7 93.7 39 92.2C41.4 90.8 44.9 89.9 47.9 90.5C50.9 91.1 55 93.4 56.8 95.8C58.5 98.2 59.4 102.2 58.5 104.7C57.7 107.2 54.4 109.8 51.4 110.9C48.5 111.9 43.6 111.6 40.8 110.9C38 110.1 35.8 108.4 34.6 106.4C33.4 104.5 33 101.7 33.7 99.3Z" stroke="#1ff01f" stroke-width="2"/><path d="M0 99.3C1.5 99.9 6.2 100.5 8.9 102.9C11.5 105.3 15.1 110 16 113.5C16.9 117.1 15.7 120.9 14.2 124.2C12.7 127.4 9.5 131.3 7.1 133C4.7 134.8 1.2 134.5 0 134.8" stroke="#1ff01f" stroke-width="2"/><path d="M67.4 95.8C66.5 91.4 68 81.6 69.2 76.3C70.4 71 71.8 66.8 74.5 63.9C77.2 60.9 81.9 58 85.2 58.5C88.4 59.1 92.1 63.9 94 67.4C95.9 71 96.7 75.7 96.7 79.8C96.7 84 95.9 88.7 94 92.2C92.1 95.8 88.4 99.3 85.2 101.1C81.9 102.9 77.5 103.8 74.5 102.9C71.6 102 68.3 100.2 67.4 95.8Z" stroke="#1ff01f" stroke-width="1.8"/><path d="M0 40.8C2.4 41.7 8.9 43.8 14.2 46.1C19.5 48.5 26.6 53.2 31.9 55C37.3 56.8 41.1 56.2 46.1 56.8C51.2 57.4 59.4 58.2 62.1 58.5" stroke="#1ff01f" stroke-width="2.2"/><path d="M26.6 17.7C27.5 20.1 30.5 27.5 31.9 31.9C33.4 36.4 33.7 40.5 35.5 44.3C37.3 48.2 41.4 53.2 42.6 55" stroke="#1ff01f" stroke-width="2.4"/><path d="M17.7 10.6C19.2 11.8 22.8 15.7 26.6 17.7C30.5 19.8 36.4 20.1 40.8 23.1C45.2 26 49.7 30.5 53.2 35.5C56.8 40.5 60.6 50.3 62.1 53.2" stroke="#1ff01f" stroke-width="2"/><path d="M58.5 5.3C56.5 6.8 50 11.2 46.1 14.2C42.3 17.1 37.3 21.6 35.5 23.1" stroke="#1ff01f" stroke-width="2"/><path d="M0 5.3C1.2 5 4.7 3.3 7.1 3.5C9.5 3.8 12.4 5.9 14.2 7.1C16 8.3 17.1 10.1 17.7 10.6" stroke="#1ff01f" stroke-width="1.6"/><path d="M104.7 8.9C103.2 10.6 98.8 16 95.8 19.5C92.8 23.1 89.9 26.6 86.9 30.2C84 33.7 79.5 39 78.1 40.8" stroke="#1ff01f" stroke-width="2"/><path d="M111.8 47.9C111.5 45.8 109.4 39.3 110 35.5C110.6 31.6 114.4 26.6 115.3 24.8" stroke="#1ff01f" stroke-width="1.4"/><path d="M122.4 76.3C124.5 74.5 130.7 68.9 134.8 65.6C139 62.4 143.1 59.1 147.2 56.8C151.4 54.4 155.8 52.6 159.7 51.4C163.5 50.3 166.2 49.4 170.3 49.7C174.4 50 180.1 51.4 184.5 53.2C188.9 55 193.1 57.7 196.9 60.3C200.8 63 204.9 66.2 207.6 69.2C210.2 72.1 211.1 75.4 212.9 78.1C214.7 80.7 217.3 84 218.2 85.2" stroke="#1ff01f" stroke-width="2.4"/><path d="M159.7 51.4C160 53.2 160.8 58.8 161.4 62.1C162 65.3 160.8 68.6 163.2 71C165.6 73.3 171.5 74.8 175.6 76.3C179.8 77.8 183.9 78.6 188 79.8C192.2 81 196.3 82.8 200.5 83.4C204.6 84 210.8 83.4 212.9 83.4" stroke="#1ff01f" stroke-width="2.4"/><path d="M175.6 78.1C174.7 80.4 175.9 88.7 177.4 92.2C178.9 95.8 181.5 97.6 184.5 99.3C187.5 101.1 191.6 102.7 195.1 102.9C198.7 103 202.5 101.7 205.8 100.2C209 98.8 212.4 96.5 214.7 94C216.9 91.5 219.7 87.1 219.1 85.2C218.5 83.2 215.1 83.1 211.1 82.5C207.1 81.9 199.9 82.3 195.1 81.6C190.4 80.9 186 78.6 182.7 78.1C179.5 77.5 176.5 75.7 175.6 78.1Z" stroke="#1ff01f" stroke-width="2.4"/><path d="M147.2 5.3C147.8 8 149.3 16.3 150.8 21.3C152.3 26.3 154.6 30.5 156.1 35.5C157.6 40.5 159.1 48.8 159.7 51.4" stroke="#1ff01f" stroke-width="2.6"/><path d="M138.4 101.1C138.4 97.6 141.6 92.5 143.7 88.7C145.8 84.9 148.1 81 150.8 78.1C153.5 75.1 157.6 70.1 159.7 71C161.7 71.8 162.6 79.2 163.2 83.4C163.8 87.5 163.8 92 163.2 95.8C162.6 99.6 161.4 103.5 159.7 106.4C157.9 109.4 155.2 112.9 152.6 113.5C149.9 114.1 146.1 112.1 143.7 110C141.3 107.9 138.4 104.7 138.4 101.1Z" stroke="#1ff01f" stroke-width="2.4"/><path d="M122.4 76.3C123.9 78.4 128.6 84.6 131.3 88.7C133.9 92.8 137.2 99 138.4 101.1" stroke="#1ff01f" stroke-width="2"/><path d="M215.5 56.8C215.8 53.5 220.1 52.6 223.5 51.4C226.9 50.3 232.1 49.4 235.9 49.7C239.8 50 243.9 51.4 246.6 53.2C249.2 55 251 57.4 251.9 60.3C252.8 63.3 253.1 68 251.9 71C250.7 73.9 248.1 76.9 244.8 78.1C241.6 79.2 236.2 79.2 232.4 78.1C228.5 76.9 224.6 74.5 221.7 71C218.9 67.4 215.2 60 215.5 56.8Z" stroke="#1ff01f" stroke-width="2.2"/><path d="M221.7 120.6C222.3 118 225.6 115.3 228.8 113.5C232.1 111.8 236.7 110.9 241.3 110C245.8 109.1 253 106.1 256 108.2C258.9 110.3 259 118 259 122.4C259 126.8 258.4 132.5 256 134.8C253.6 137.2 248.7 136.6 244.8 136.6C240.9 136.6 235.6 136 232.4 134.8C229.1 133.6 227.1 131.9 225.3 129.5C223.5 127.1 221.2 123.3 221.7 120.6Z" stroke="#1ff01f" stroke-width="2.2"/><path d="M194.3 141.9C195 138.4 196.5 132.6 198.7 129.5C200.9 126.4 204.3 124.2 207.6 123.3C210.8 122.4 215.2 122.8 218.2 124.2C221.2 125.5 224.1 128.3 225.3 131.3C226.5 134.2 226.2 138.7 225.3 141.9C224.4 145.2 222.3 148.1 220 150.8C217.6 153.5 214.7 156.7 211.1 157.9C207.6 159.1 201.5 159.1 198.7 157.9C195.9 156.7 195 153.5 194.3 150.8C193.5 148.1 193.5 145.5 194.3 141.9Z" stroke="#1ff01f" stroke-width="2.2"/><path d="M227.1 163.2C226.8 160.3 229.4 154.9 232.4 152.6C235.3 150.2 240.9 149.3 244.8 149C248.7 148.7 253.6 149 256 150.8C258.4 152.6 259 156.7 259 159.7C259 162.6 258.4 166.5 256 168.5C253.6 170.6 248.4 171.8 244.8 172.1C241.2 172.4 237.1 171.8 234.2 170.3C231.2 168.8 227.4 166.2 227.1 163.2Z" stroke="#1ff01f" stroke-width="2.2"/><path d="M211.1 157.9C210.8 159.7 209 164.7 209.3 168.5C209.6 172.4 211.4 177.7 212.9 180.9C214.4 184.2 215.2 186.3 218.2 188C221.2 189.8 227.4 190.7 230.6 191.6C233.9 192.5 236.5 193.1 237.7 193.4" stroke="#1ff01f" stroke-width="2.4"/><path d="M239.5 193.4C239.8 191.3 240.1 184.5 241.3 180.9C242.4 177.4 245.7 173.6 246.6 172.1" stroke="#1ff01f" stroke-width="2.2"/><path d="M225.3 141.9L235.9 147.2" stroke="#1ff01f" stroke-width="2"/><path d="M246.6 138.4L248.4 149" stroke="#1ff01f" stroke-width="2"/><path d="M143.7 124.2C144.6 120.9 147.5 117.5 150.8 115.3C154 113.1 159.1 111.2 163.2 110.9C167.3 110.6 172.4 111.3 175.6 113.5C178.9 115.8 180.7 120.3 182.7 124.2C184.8 128 188.9 133.9 188 136.6C187.2 139.3 181.5 139.3 177.4 140.1C173.3 141 167.3 141.6 163.2 141.9C159.1 142.2 155.5 143.1 152.6 141.9C149.6 140.7 146.9 137.8 145.5 134.8C144 131.9 142.8 127.4 143.7 124.2Z" stroke="#1ff01f" stroke-width="2.2"/><path d="M150.8 147.2C151.5 144.9 152.9 144.6 156.1 143.7C159.4 142.8 165.3 142.1 170.3 141.9C175.3 141.8 182.7 141.3 186.3 142.8C189.8 144.3 190.7 147.7 191.6 150.8C192.5 153.9 192.8 158.6 191.6 161.4C190.4 164.2 188 166.3 184.5 167.6C180.9 169 174.7 169.9 170.3 169.4C165.9 169 161 166.9 157.9 165C154.8 163.1 152.9 160.8 151.7 157.9C150.5 154.9 150.1 149.6 150.8 147.2Z" stroke="#1ff01f" stroke-width="2.4"/><path d="M94 140.1C94.3 136.6 96.7 133.8 99.3 131.3C102 128.8 106.1 126.2 110 125.1C113.8 123.9 118.9 123.1 122.4 124.2C126 125.2 128.9 128.6 131.3 131.3C133.6 133.9 135.1 137.2 136.6 140.1C138.1 143.1 141.6 146.9 140.1 149C138.7 151.1 131.9 151.4 127.7 152.6C123.6 153.7 119.2 154.9 115.3 156.1C111.5 157.3 107.6 160.3 104.7 159.7C101.7 159.1 99.3 155.8 97.6 152.6C95.8 149.3 93.7 143.7 94 140.1Z" stroke="#1ff01f" stroke-width="2.4"/><path d="M24.8 147.2C24.8 144.3 27.5 140.1 30.2 136.6C32.8 133 37 128.6 40.8 126C44.6 123.3 48.8 121.5 53.2 120.6C57.7 119.7 64.5 120 67.4 120.6C70.4 121.2 71.8 122.4 71 124.2C70.1 126 64.2 128.3 62.1 131.3C60 134.2 59.4 139 58.5 141.9C57.7 144.9 59.4 147.5 56.8 149C54.1 150.5 47 149.9 42.6 150.8C38.1 151.7 33.1 154.9 30.2 154.3C27.2 153.7 24.8 150.2 24.8 147.2Z" stroke="#1ff01f" stroke-width="2.2"/><path d="M24.8 159.7C25.7 157.6 27.2 155.8 30.2 154.3C33.1 152.9 38.4 151.7 42.6 150.8C46.7 149.9 52.2 147.5 55 149C57.8 150.5 58.5 155.8 59.4 159.7C60.3 163.5 60.8 168.2 60.3 172.1C59.9 175.9 58.5 180.1 56.8 182.7C55 185.4 52.6 187.7 49.7 188C46.7 188.3 42.3 186.6 39 184.5C35.8 182.4 32.5 178.6 30.2 175.6C27.8 172.7 25.7 169.4 24.8 166.8C23.9 164.1 23.9 161.7 24.8 159.7Z" stroke="#1ff01f" stroke-width="2.3"/><path d="M62.1 131.3C63.3 128.2 67.7 125.7 71 125.1C74.2 124.5 78.1 126.7 81.6 127.7C85.2 128.8 90.3 129.2 92.2 131.3C94.2 133.3 92.5 136.9 93.1 140.1C93.7 143.4 96.5 148.1 95.8 150.8C95.1 153.5 91.1 154.6 88.7 156.1C86.3 157.6 84.6 160.3 81.6 159.7C78.6 159.1 73.9 155.2 71 152.6C68 149.9 65.3 147.2 63.9 143.7C62.4 140.1 60.9 134.4 62.1 131.3Z" stroke="#1ff01f" stroke-width="2.2"/><path d="M63.9 143.7C65.6 146.1 71 153.5 74.5 157.9C78.1 162.3 81.6 166.2 85.2 170.3C88.7 174.4 92.2 179.2 95.8 182.7C99.3 186.3 103.5 189.5 106.4 191.6C109.4 193.7 112.4 194.5 113.5 195.1" stroke="#1ff01f" stroke-width="2.4"/><path d="M111.8 195.1C113.8 195.7 120.9 198.7 124.2 198.7C127.4 198.7 130.1 195.7 131.3 195.1" stroke="#1ff01f" stroke-width="7"/><path d="M115.3 205.8L127.7 207.6" stroke="#1ff01f" stroke-width="7"/><path d="M120.6 191.6L122.4 212.9" stroke="#1ff01f" stroke-width="6"/><path d="M120.6 200.5C119.7 204 117.4 215.2 115.3 221.7C113.2 228.3 110.3 234.6 108.2 239.5C106.1 244.4 103.8 249.1 102.9 251" stroke="#1ff01f" stroke-width="2.8"/><path d="M124.2 204C125.1 207 128 215.8 129.5 221.7C131 227.7 132.2 234.6 133 239.5C133.9 244.4 134.5 249.1 134.8 251" stroke="#1ff01f" stroke-width="2.8"/><path d="M113.5 159.7C112.9 161.4 110 166.2 110 170.3C110 174.4 112.1 180.7 113.5 184.5C115 188.3 118 191.9 118.9 193.4" stroke="#1ff01f" stroke-width="2"/><path d="M147.2 161.4C147.5 163.5 149.3 170 149 173.9C148.7 177.7 147.8 181.5 145.5 184.5C143.1 187.5 136.6 190.4 134.8 191.6" stroke="#1ff01f" stroke-width="2"/><path d="M42.6 188C44.3 189.5 50.3 194 53.2 196.9C56.2 199.9 57.7 203.1 60.3 205.8C63 208.4 66.2 210.5 69.2 212.9C72.1 215.2 74.8 217.3 78.1 220C81.3 222.6 85.4 225.9 88.7 228.8C92 231.8 95.2 234.5 97.6 237.7C99.9 241 102 246.6 102.9 248.4" stroke="#1ff01f" stroke-width="2.6"/><path d="M1.8 193.4C1.8 190.3 3.3 187.3 5.3 185.4C7.4 183.5 11.2 182 14.2 181.8C17.1 181.7 20.7 182.6 23.1 184.5C25.4 186.4 27.5 190.7 28.4 193.4C29.3 196 29.3 198.2 28.4 200.5C27.5 202.7 25.4 205.3 23.1 206.7C20.7 208 17.1 208.9 14.2 208.4C11.2 208 7.4 206.5 5.3 204C3.3 201.5 1.8 196.5 1.8 193.4Z" stroke="#1ff01f" stroke-width="2"/><path d="M1.8 223.5C2.7 224.7 6.5 227.7 7.1 230.6C7.7 233.6 5.6 239.5 5.3 241.3" stroke="#1ff01f" stroke-width="6"/><path d="M0 218.2C1.2 219.7 3.8 225.3 7.1 227.1C10.3 228.8 15.4 229.1 19.5 228.8C23.7 228.5 28.4 225 31.9 225.3C35.5 225.6 38.7 227.4 40.8 230.6C42.9 233.9 43.8 242.4 44.3 244.8" stroke="#1ff01f" stroke-width="2.4"/><path d="M7.1 227.1C7.4 229.1 8.3 235.5 8.9 239.5C9.5 243.5 10.3 249.1 10.6 251" stroke="#1ff01f" stroke-width="2.4"/><path d="M141.9 195.1C142.5 197.2 143.4 207.9 145.5 207.6C147.5 207.3 152.4 193.1 154.3 193.4C156.3 193.7 156.1 204.3 157 209.3C157.9 214.4 158.9 220 159.7 223.5C160.4 227.1 158.8 229.1 161.4 230.6C164.1 232.1 173 230.3 175.6 232.4C178.3 234.5 177.4 239.9 177.4 243C177.4 246.1 175.9 249.7 175.6 251" stroke="#1ff01f" stroke-width="2.2"/><path d="M140.1 244.8C141.9 243.6 147.2 239.8 150.8 237.7C154.3 235.6 159.7 233.3 161.4 232.4" stroke="#1ff01f" stroke-width="2.4"/><path d="M154.3 193.4C152.3 195.1 144.9 199.3 141.9 204C139 208.7 137.8 216.4 136.6 221.7C135.4 227.1 134.8 231.5 134.8 235.9C134.8 240.4 136.3 246.3 136.6 248.4" stroke="#1ff01f" stroke-width="2"/><path d="M186.3 251C187.7 250 191.6 246.7 195.1 244.8C198.7 242.9 203.7 240.7 207.6 239.5C211.4 238.3 215.5 237.1 218.2 237.7C220.9 238.3 222.6 242.2 223.5 243" stroke="#1ff01f" stroke-width="2"/><path d="M248.4 241.3C247.2 240.7 243 240.1 241.3 237.7C239.5 235.3 237.7 230.3 237.7 227.1C237.7 223.8 239.2 220.1 241.3 218.2C243.3 216.3 247.7 215.5 250.1 215.5C252.6 215.5 255 217.8 256 218.2" stroke="#1ff01f" stroke-width="2"/><path d="M235.9 0C236.2 2.4 236.8 10.3 237.7 14.2C238.6 18 239.5 21 241.3 23.1C243 25.1 247.2 26 248.4 26.6" stroke="#1ff01f" stroke-width="1.6"/></g><g filter="url(#fBlob)"><rect width="256" height="251" fill="#000" fill-opacity="0"/><circle cx="86.9" cy="79.8" r="3" fill="#1ff01f"/><circle cx="204" cy="66.5" r="2.2" fill="#1ff01f"/><circle cx="118" cy="76.3" r="2" fill="#1ff01f"/><circle cx="137.5" cy="41.7" r="2.2" fill="#1ff01f"/><circle cx="236.8" cy="63" r="3" fill="#1ff01f"/><circle cx="252.8" cy="120.6" r="2.6" fill="#1ff01f"/><circle cx="170.3" cy="129.5" r="2.6" fill="#1ff01f"/><circle cx="109.1" cy="136.6" r="3.2" fill="#1ff01f"/><circle cx="21.3" cy="157" r="3" fill="#1ff01f"/><circle cx="120.6" cy="200.5" r="7.5" fill="#1ff01f"/><circle cx="113.5" cy="193.4" r="4" fill="#1ff01f"/><circle cx="127.7" cy="207.6" r="4" fill="#1ff01f"/><circle cx="5" cy="229.7" r="5" fill="#1ff01f"/></g></svg>
<rect x="231.5" y="269.0" width="53.5" height="5.2" fill="#fff"/><rect x="231.5" y="266.85" width="4.6" height="9.5" rx="2.2" fill="#fff"/><rect x="280.4" y="266.85" width="4.6" height="9.5" rx="2.2" fill="#fff"/><text x="216.6" y="302.5" font-size="29.3" textLength="82.3" lengthAdjust="spacingAndGlyphs" fill="#fff" stroke="#fff" stroke-width="0.75">20 µm</text>
<rect x="1364.5" y="70.1" width="54.200000000000045" height="5.0" fill="#fff"/><rect x="1364.5" y="67.85" width="4.6" height="9.5" rx="2.2" fill="#fff"/><rect x="1414.1000000000001" y="67.85" width="4.6" height="9.5" rx="2.2" fill="#fff"/><text x="1357.6" y="100.1" font-size="23.8" textLength="68" lengthAdjust="spacingAndGlyphs" fill="#fff" stroke="#fff" stroke-width="0.75">20 µm</text>
<text x="5.8" y="50" font-size="58" font-weight="bold" textLength="46.3" lengthAdjust="spacingAndGlyphs" fill="#000">A</text>
<text x="869.6" y="50.6" font-size="57.5" font-weight="bold" textLength="43" lengthAdjust="spacingAndGlyphs" fill="#000">B</text>
<text x="6.3" y="429.6" font-size="58" font-weight="bold" fill="#000">C</text>
<text x="845.3" y="430" font-size="56.5" font-weight="bold" fill="#000">D</text>
<text x="291.6" y="1168.5" font-size="57.5" font-weight="bold" fill="#000">E</text>
<text x="157.3" y="49.3" font-size="29.6" font-weight="bold" textLength="63.6" lengthAdjust="spacingAndGlyphs" fill="#000">CHO</text>
<text font-weight="bold"><tspan x="372.3" y="49.3" font-size="29.6" textLength="151" lengthAdjust="spacingAndGlyphs">CHO-NPC1</tspan><tspan x="523.3" y="40.2" font-size="20" textLength="6.4" lengthAdjust="spacingAndGlyphs">-</tspan></text>
<text x="609.8" y="49.3" font-size="29.6" font-weight="bold" textLength="211.5" lengthAdjust="spacingAndGlyphs" fill="#000">CHO+U18666A</text>
<text x="970.8" y="50.6" font-size="31" font-weight="bold" textLength="167" lengthAdjust="spacingAndGlyphs" fill="#000">CHO-Vector</text>
<text x="1223.5" y="50" font-size="31" font-weight="bold" textLength="172.5" lengthAdjust="spacingAndGlyphs" fill="#000">CHO-IFITM3</text>
<rect x="143.39999999999998" y="511.5" width="74.6" height="408.8" fill="url(#gC)" stroke="#000" stroke-width="2.5"/>
<path d="M145.2 917.3V513.3H216.2V917.3" fill="none" stroke="#b9d4ee" stroke-width="1" opacity="0.75"/>
<path d="M181.0 511.4772V469.7524M174.0 469.7524H188.0" stroke="#000" stroke-width="1.5" fill="none"/>
<rect x="267.8" y="904.7" width="74.6" height="15.6" fill="url(#gC)" stroke="#000" stroke-width="2.5"/>
<path d="M269.6 917.3V906.5H340.6V917.3" fill="none" stroke="#b9d4ee" stroke-width="1" opacity="0.75"/>
<path d="M305.40000000000003 904.6532V896.6292M298.40000000000003 896.6292H312.40000000000003" stroke="#000" stroke-width="1.5" fill="none"/>
<rect x="392.2" y="522.7" width="74.6" height="397.6" fill="url(#gC)" stroke="#000" stroke-width="2.5"/>
<path d="M394.0 917.3V524.5H465.0V917.3" fill="none" stroke="#b9d4ee" stroke-width="1" opacity="0.75"/>
<path d="M429.8 522.7108000000001V495.4292M422.8 495.4292H436.8" stroke="#000" stroke-width="1.5" fill="none"/>
<rect x="516.7" y="908.7" width="74.6" height="11.6" fill="url(#gC)" stroke="#000" stroke-width="2.5"/>
<path d="M518.5 917.3V910.5H589.5V917.3" fill="none" stroke="#b9d4ee" stroke-width="1" opacity="0.75"/>
<path d="M554.3 908.6651999999999V907.4616M547.3 907.4616H561.3" stroke="#000" stroke-width="1.5" fill="none"/>
<path d="M678.2 920.3V899.8388M671.2 899.8388H685.2" stroke="#000" stroke-width="1.5" fill="none"/>
<path d="M119 920.3V439H741V920.3" fill="none" stroke="#000" stroke-width="4"/>
<path d="M117 920.3H743" fill="none" stroke="#000" stroke-width="4.7"/>
<path d="M111.5 920.3H118" stroke="#000" stroke-width="1.6"/>
<text x="97.6" y="931.1" font-size="27.6" font-weight="bold" text-anchor="end" fill="#000">0</text>
<path d="M111.5 820.0H118" stroke="#000" stroke-width="1.6"/>
<text x="97.6" y="830.8" font-size="27.6" font-weight="bold" text-anchor="end" fill="#000">25</text>
<path d="M111.5 719.7H118" stroke="#000" stroke-width="1.6"/>
<text x="97.6" y="730.5" font-size="27.6" font-weight="bold" text-anchor="end" fill="#000">50</text>
<path d="M111.5 619.4H118" stroke="#000" stroke-width="1.6"/>
<text x="97.6" y="630.2" font-size="27.6" font-weight="bold" text-anchor="end" fill="#000">75</text>
<path d="M111.5 519.1H118" stroke="#000" stroke-width="1.6"/>
<text x="97.6" y="529.9" font-size="27.6" font-weight="bold" text-anchor="end" fill="#000">100</text>
<path d="M180.7 922V927.3" stroke="#000" stroke-width="1.6"/>
<path d="M305.1 922V927.3" stroke="#000" stroke-width="1.6"/>
<path d="M429.5 922V927.3" stroke="#000" stroke-width="1.6"/>
<path d="M554.0 922V927.3" stroke="#000" stroke-width="1.6"/>
<path d="M678.2 922V927.3" stroke="#000" stroke-width="1.6"/>
<text transform="translate(41.9 874.8) rotate(-90)" font-size="34.3" font-weight="bold" textLength="388" lengthAdjust="spacingAndGlyphs">Fusion (% of CHO cells)</text>
<text font-weight="bold"><tspan x="342.2" y="480.3" font-size="32" textLength="160" lengthAdjust="spacingAndGlyphs">CHO-NPC1</tspan><tspan x="503.6" y="464.4" font-size="20" textLength="8" lengthAdjust="spacingAndGlyphs">-</tspan></text>
<text x="284.2 310.4 336.6" y="876.5" font-size="50" font-weight="bold" text-anchor="middle">***</text>
<text id="xl1" transform="translate(201.3 948.8) rotate(-45)" font-size="30" font-weight="bold" text-anchor="end">IAVpp</text>
<text id="xl2" transform="translate(326.7 949.2) rotate(-45)" font-size="30" font-weight="bold" text-anchor="end">IAVpp+NH<tspan font-size="17" dy="1.5" dx="0.5">4</tspan><tspan dy="-8" dx="1">Cl</tspan></text>
<text id="xl3" transform="translate(445.7 945.8) rotate(-45)" font-size="30" font-weight="bold" text-anchor="end">VSVpp</text>
<text id="xl4" transform="translate(577 948.7) rotate(-45)" font-size="30" font-weight="bold" text-anchor="end">VSVpp+NH<tspan font-size="17" dy="1.5" dx="0.5">4</tspan><tspan dy="-8" dx="1">Cl</tspan></text>
<text id="xl5" transform="translate(694.8 949) rotate(-45)" font-size="30" font-weight="bold" text-anchor="end">EBOVpp</text>
<rect x="1040.0" y="485.2" width="50.8" height="433.1" fill="url(#gD)" stroke="#000" stroke-width="2.5"/>
<path d="M1041.8000000000002 915.3V487.0H1089.0" fill="none" stroke="#a8ecd9" stroke-width="1" opacity="0.8"/>
<path d="M1065.4 485.1507V471.48599999999993M1058.15 471.48599999999993H1072.65" stroke="#000" stroke-width="1.5" fill="none"/>
<rect x="1159.1999999999998" y="667.1" width="50.8" height="251.2" fill="url(#gD)" stroke="#000" stroke-width="2.5"/>
<path d="M1161.0 915.3V668.9H1208.1999999999998" fill="none" stroke="#a8ecd9" stroke-width="1" opacity="0.8"/>
<path d="M1184.6 667.1297999999999V625.4849999999999M1177.35 625.4849999999999H1191.85" stroke="#000" stroke-width="1.5" fill="none"/>
<rect x="1276.7" y="914" width="53" height="3.5" fill="#000"/>
<path d="M1303.2 915.2633999999999V910.9254M1295.95 910.9254H1310.45" stroke="#000" stroke-width="1.5" fill="none"/>
<path d="M1006.3 917.8V441.7H1363.2V917.8" fill="none" stroke="#000" stroke-width="4"/>
<path d="M1004.3 917.9H1365.2" fill="none" stroke="#000" stroke-width="4.2"/>
<path d="M996.5 918.3H1005" stroke="#000" stroke-width="1.6"/>
<text x="985.2" y="927.8" font-size="26.3" font-weight="bold" text-anchor="end" fill="#000">0</text>
<path d="M996.5 831.5H1005" stroke="#000" stroke-width="1.6"/>
<text x="985.2" y="841.0" font-size="26.3" font-weight="bold" text-anchor="end" fill="#000">20</text>
<path d="M996.5 744.8H1005" stroke="#000" stroke-width="1.6"/>
<text x="985.2" y="754.3" font-size="26.3" font-weight="bold" text-anchor="end" fill="#000">40</text>
<path d="M996.5 658.0H1005" stroke="#000" stroke-width="1.6"/>
<text x="985.2" y="667.5" font-size="26.3" font-weight="bold" text-anchor="end" fill="#000">60</text>
<path d="M996.5 571.3H1005" stroke="#000" stroke-width="1.6"/>
<text x="985.2" y="580.8" font-size="26.3" font-weight="bold" text-anchor="end" fill="#000">80</text>
<path d="M996.5 484.5H1005" stroke="#000" stroke-width="1.6"/>
<text x="985.2" y="494.0" font-size="26.3" font-weight="bold" text-anchor="end" fill="#000">100</text>
<path d="M1065.4 920V926.3" stroke="#000" stroke-width="1.6"/>
<path d="M1184.6 920V926.3" stroke="#000" stroke-width="1.6"/>
<path d="M1303.2 920V926.3" stroke="#000" stroke-width="1.6"/>
<text transform="translate(916.5 919.6) rotate(-90)" font-size="34" font-weight="bold" textLength="475.6" lengthAdjust="spacingAndGlyphs">Lipid mixing (% of CHO cells)</text>
<text x="1159.8" y="485.3" font-size="32.3" font-weight="bold" textLength="56.8" lengthAdjust="spacingAndGlyphs" fill="#000">IAV</text>
<text id="xl6" transform="translate(1076 949.3) rotate(-45)" font-size="30.3" font-weight="bold" text-anchor="end">CHO</text>
<text id="xl7" transform="translate(1197.3 948) rotate(-45)" font-size="30.3" font-weight="bold" text-anchor="end">CHO-NPC1-</text>
<text id="xl8" transform="translate(1312 949) rotate(-45)" font-size="30.3" font-weight="bold" text-anchor="end">CHO + BafA1</text>
<rect x="485.2" y="1234.4" width="50" height="399.5" fill="#92b5f4" stroke="#000" stroke-width="2.4"/>
<path d="M487.0 1630.9V1236.2H533.4V1630.9" fill="none" stroke="#cfe0fb" stroke-width="1" opacity="0.85"/>
<path d="M510.2 1234.3555000000001V1215.106M499.2 1215.106H521.2" stroke="#000" stroke-width="1.5" fill="none"/>
<rect x="568.9" y="1291.2" width="50" height="342.7" fill="#92b5f4" stroke="#000" stroke-width="2.4"/>
<path d="M570.6999999999999 1630.9V1293.0H617.1V1630.9" fill="none" stroke="#cfe0fb" stroke-width="1" opacity="0.85"/>
<path d="M593.9 1291.165V1282.2445M582.4 1282.2445H605.4" stroke="#000" stroke-width="1.5" fill="none"/>
<path d="M677.3 1633.9V1629.9092500000002M666.05 1629.9092500000002H688.55" stroke="#000" stroke-width="1.5" fill="none"/>
<rect x="819.6" y="1223.6" width="50" height="410.3" fill="#92b5f4" stroke="#000" stroke-width="2.4"/>
<path d="M821.4 1630.9V1225.4H867.8000000000001V1630.9" fill="none" stroke="#cfe0fb" stroke-width="1" opacity="0.85"/>
<path d="M844.6 1223.557V1219.3315M832.85 1219.3315H856.35" stroke="#000" stroke-width="1.5" fill="none"/>
<rect x="903.5" y="1244.2" width="50" height="389.7" fill="#92b5f4" stroke="#000" stroke-width="2.4"/>
<path d="M905.3 1630.9V1246.0H951.7V1630.9" fill="none" stroke="#cfe0fb" stroke-width="1" opacity="0.85"/>
<path d="M928.5 1244.2150000000001V1241.3980000000001M917.0 1241.3980000000001H940.0" stroke="#000" stroke-width="1.5" fill="none"/>
<path d="M1012.3 1633.9V1619.3455000000001M1000.55 1619.3455000000001H1024.05" stroke="#000" stroke-width="1.5" fill="none"/>
<path d="M426.5 1633.9V1165.3H1096.3V1633.9" fill="none" stroke="#000" stroke-width="4.3"/>
<path d="M424.4 1633.9H1098.4" fill="none" stroke="#000" stroke-width="4.8"/>
<path d="M418.3 1633.9H425" stroke="#000" stroke-width="1.6"/>
<text x="404.2" y="1644.9" font-size="28.7" font-weight="bold" text-anchor="end" fill="#000">0</text>
<path d="M418.3 1540.0H425" stroke="#000" stroke-width="1.6"/>
<text x="404.2" y="1551.0" font-size="28.7" font-weight="bold" text-anchor="end" fill="#000">20</text>
<path d="M418.3 1446.1H425" stroke="#000" stroke-width="1.6"/>
<text x="404.2" y="1457.1" font-size="28.7" font-weight="bold" text-anchor="end" fill="#000">40</text>
<path d="M418.3 1352.2H425" stroke="#000" stroke-width="1.6"/>
<text x="404.2" y="1363.2" font-size="28.7" font-weight="bold" text-anchor="end" fill="#000">60</text>
<path d="M418.3 1258.3H425" stroke="#000" stroke-width="1.6"/>
<text x="404.2" y="1269.3" font-size="28.7" font-weight="bold" text-anchor="end" fill="#000">80</text>
<path d="M418.3 1164.4H425" stroke="#000" stroke-width="1.6"/>
<text x="404.2" y="1175.4" font-size="28.7" font-weight="bold" text-anchor="end" fill="#000">100</text>
<path d="M510.3 1636V1641.3" stroke="#000" stroke-width="1.6"/>
<path d="M593.6 1636V1641.3" stroke="#000" stroke-width="1.6"/>
<path d="M677.2 1636V1641.3" stroke="#000" stroke-width="1.6"/>
<path d="M760.9 1636V1641.3" stroke="#000" stroke-width="1.6"/>
<path d="M844.8 1636V1641.3" stroke="#000" stroke-width="1.6"/>
<path d="M928.5 1636V1641.3" stroke="#000" stroke-width="1.6"/>
<path d="M1012.2 1636V1641.3" stroke="#000" stroke-width="1.6"/>
<text transform="translate(342.6 1559.9) rotate(-90)" font-size="34" font-weight="bold" textLength="320.8" lengthAdjust="spacingAndGlyphs">Fusion (% of DMSO)</text>
<text x="495.2 522.8" y="1213.5" font-size="38" font-weight="bold" text-anchor="middle">**</text>
<text x="819.8 847.3 875" y="1213.5" font-size="38" font-weight="bold" text-anchor="middle">***</text>
<text font-weight="bold"><tspan x="477.4" y="1679.2" font-size="31.6" textLength="47.1" lengthAdjust="spacingAndGlyphs">IAV</tspan><tspan x="526.7" y="1687.2" font-size="20.5" textLength="23" lengthAdjust="spacingAndGlyphs">pp</tspan></text>
<text font-weight="bold"><tspan x="557" y="1679.2" font-size="31.6" textLength="59.8" lengthAdjust="spacingAndGlyphs">VSV</tspan><tspan x="618.4" y="1687.2" font-size="20.5" textLength="23" lengthAdjust="spacingAndGlyphs">pp</tspan></text>
<text font-weight="bold"><tspan x="645.7" y="1679.2" font-size="31.6" textLength="83.4" lengthAdjust="spacingAndGlyphs">EBOV</tspan><tspan x="730.6" y="1687.2" font-size="20.5" textLength="23" lengthAdjust="spacingAndGlyphs">pp</tspan></text>
<text font-weight="bold"><tspan x="810.5" y="1679.2" font-size="31.6" textLength="46.6" lengthAdjust="spacingAndGlyphs">IAV</tspan><tspan x="859.8" y="1687.2" font-size="20.5" textLength="23" lengthAdjust="spacingAndGlyphs">pp</tspan></text>
<text font-weight="bold"><tspan x="892.3" y="1679.2" font-size="31.6" textLength="59.5" lengthAdjust="spacingAndGlyphs">VSV</tspan><tspan x="953.4" y="1687.2" font-size="20.5" textLength="23" lengthAdjust="spacingAndGlyphs">pp</tspan></text>
<text font-weight="bold"><tspan x="980.7" y="1679.2" font-size="31.6" textLength="83.7" lengthAdjust="spacingAndGlyphs">EBOV</tspan><tspan x="1065.6" y="1687.2" font-size="20.5" textLength="23" lengthAdjust="spacingAndGlyphs">pp</tspan></text>
<path d="M476 1700.7H747.3M804 1700.7H1097.9" stroke="#000" stroke-width="5.2" stroke-linecap="round"/>
<text x="484" y="1748.3" font-size="33" font-weight="bold" textLength="250" lengthAdjust="spacingAndGlyphs" fill="#000">CHO + U18666A</text>
<text font-weight="bold"><tspan x="773.8" y="1748.3" font-size="33" textLength="170.5" lengthAdjust="spacingAndGlyphs">CHO-NPC1</tspan><tspan x="946.8" y="1731.6" font-size="21" textLength="7.8" lengthAdjust="spacingAndGlyphs">-</tspan><tspan x="964.5" y="1748.3" font-size="33" textLength="167.7" lengthAdjust="spacingAndGlyphs">+ U18666A</tspan></text>
</svg></body></html>
